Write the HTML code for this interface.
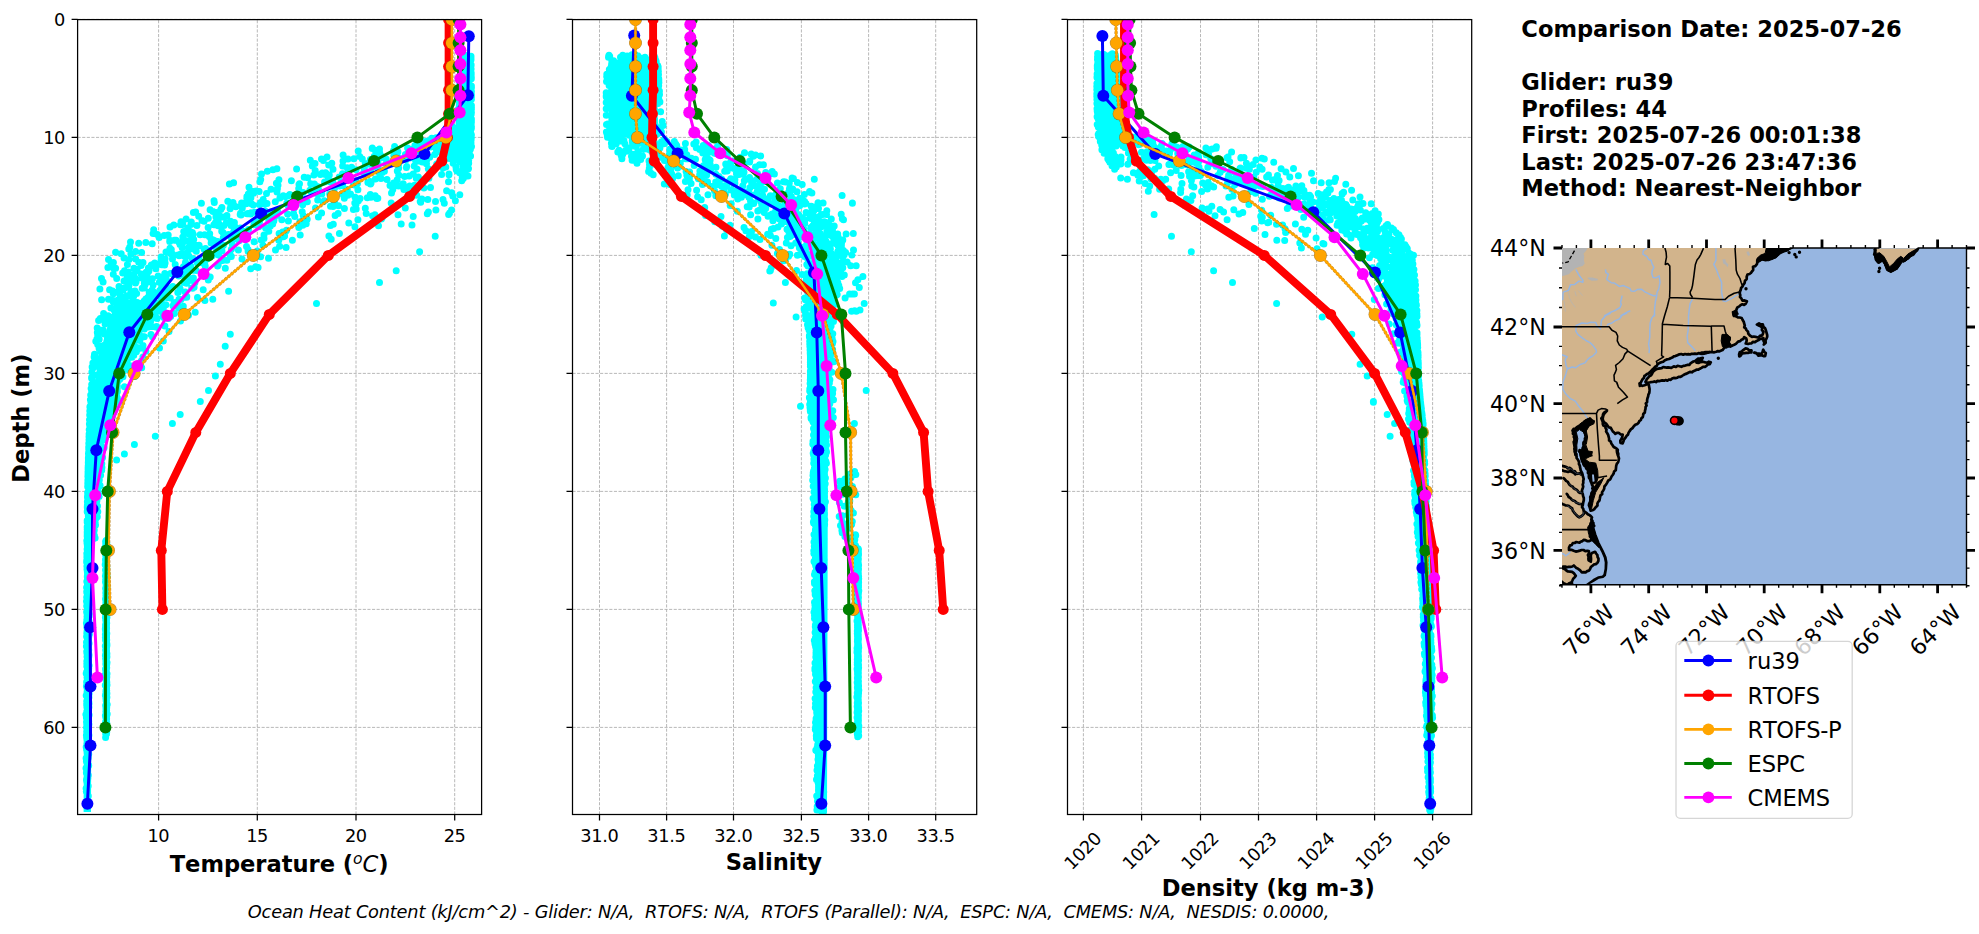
<!DOCTYPE html>
<html lang="en"><head><meta charset="utf-8"><title>Glider ru39 model comparison 2025-07-26</title>
<style>html,body{margin:0;padding:0;background:#fff;overflow:hidden}svg{display:block}text{font-family:'DejaVu Sans','Liberation Sans',sans-serif;fill:#000;font-variant-ligatures:none;font-kerning:none}.tk{font-size:17.78px}.lb{font-size:22.6px;font-weight:bold}.mp{font-size:22.2px}.lg{font-size:22.6px}.g{stroke:#b0b0b0;stroke-width:.9;stroke-dasharray:3.1 1.5;fill:none}.sp{stroke:#000;stroke-width:1.25;fill:none}.ln{fill:none;stroke-linejoin:round;stroke-linecap:butt}.cy{fill:none;stroke:#0ff;stroke-width:7;stroke-linecap:round}</style></head><body>
<svg width="1979" height="934" viewBox="0 0 1979 934">
<rect width="1979" height="934" fill="#fff"/>
<defs>
<clipPath id="cT"><rect x="77.6" y="19.6" width="404" height="794.9"/></clipPath>
<clipPath id="cS"><rect x="572.5" y="19.6" width="404.2" height="794.9"/></clipPath>
<clipPath id="cR"><rect x="1067.5" y="19.6" width="404.2" height="794.9"/></clipPath>
</defs>
<g id="axT">
<path class="g" d="M158.6 814.5V19.6M257.3 814.5V19.6M356 814.5V19.6M454.7 814.5V19.6M77.6 19.4H481.6M77.6 137.4H481.6M77.6 255.4H481.6M77.6 373.4H481.6M77.6 491.4H481.6M77.6 609.4H481.6M77.6 727.4H481.6"/>
<g clip-path="url(#cT)">
<path fill="#0ff" d="M457.8 60 457.8 75.2 457.8 90.4 457.8 105.6 457.8 120.8 451.7 136 471.7 136 472.2 120.8 472.2 105.6 472.2 90.4 472.2 75.2 472.2 60ZM114.4 300 113.4 306.2 112.3 312.3 110.3 318.5 108.1 324.6 106 330.8 104.3 336.9 102.9 343.1 101.5 349.2 100.1 355.4 99 361.5 97.9 367.7 96.9 373.8 95.8 380 94.7 386.2 93.9 392.3 93.2 398.5 92.6 404.6 92 410.8 91.3 416.9 90.8 423.1 90.3 429.2 89.8 435.4 89.3 441.5 88.9 447.7 88.7 453.8 88.6 460 88.5 466.2 88.4 472.3 88.4 478.5 88.3 484.6 88.2 490.8 88.1 496.9 88 503.1 87.9 509.2 87.8 515.4 87.7 521.5 87.5 527.7 87.4 533.8 87.3 540 92.7 540 93.2 533.8 93.7 527.7 94.2 521.5 94.7 515.4 95.2 509.2 95.7 503.1 96 496.9 96.3 490.8 96.6 484.6 96.9 478.5 97.2 472.3 97.5 466.2 97.8 460 98.1 453.8 98.7 447.7 99.6 441.5 100.6 435.4 101.6 429.2 102.5 423.1 103.7 416.9 105 410.8 106.4 404.6 107.7 398.5 109.1 392.3 111 386.2 113.7 380 116.3 373.8 119 367.7 121.6 361.5 124.4 355.4 128.4 349.2 132.3 343.1 136.3 336.9 140.9 330.8 146.8 324.6 152.6 318.5 158.2 312.3 161.6 306.2 165 300ZM84.5 540 92 540 91 812 83.6 812ZM103 545 109.5 545 109.5 736 103 736Z"/>
<path class="cy" d="M465.7 56.3h0M465.6 67.3h0M469.7 78h0M469.5 88.3h0M471.4 99.2h0M471.4 107.8h0M466.2 117.8h0M466.8 127.2h0M449.4 138.5h0M407.6 148h0M404.9 156.7h0M347.2 167.7h0M416.3 178.2h0M392.8 189.5h0M376.8 198.4h0M353.4 209.6h0M307.2 219.2h0M265.6 228.1h0M283.4 236.8h0M198.7 245.8h0M184 256.1h0M164.6 265h0M174.8 274.4h0M186.6 283.3h0M161 294.6h0M177.7 304.7h0M188.5 315.3h0M164.9 325.9h0M151 334.5h0M143 345.5h0M125.6 356.3h0M131.5 366h0M120.6 376.3h0M124.4 386.7h0M116.6 396.1h0M114.4 406.2h0M105.7 415.5h0M105.4 425.6h0M103.7 436.5h0M98.2 447.7h0M95.3 458.2h0M94.5 469.3h0M91.3 479.5h0M92.2 489.7h0M91.7 500.6h0M93.5 510.6h0M93 521.7h0M93.9 532.1h0M105.7 543.1h0M106 553.2h0M105.7 562.2h0M105.8 573.7h0M105.9 582.5h0M106 592.7h0M105.9 603.5h0M105.6 614.9h0M105.5 624.9h0M105.4 634.5h0M106.1 643.2h0M105.6 654.5h0M105.9 663.4h0M105.4 674.4h0M105.6 685.6h0M105.6 694.6h0M106.1 705.2h0M106.1 714.2h0M105.8 724.2h0M105.7 733.9h0M461.8 55.9h0M463.4 64.6h0M463 74.8h0M459.9 83.8h0M460.4 93.5h0M460 102.1h0M458 113.5h0M461.1 123.3h0M463.9 134h0M423.8 145.3h0M405.4 154.4h0M369.7 164.2h0M322.3 172.9h0M341.2 182.2h0M250.7 191.9h0M227.8 201.2h0M210.1 209.8h0M204.1 221.2h0M183.7 231.5h0M169.8 240.3h0M171.3 249.4h0M165.1 258.7h0M148.4 268.1h0M129.7 279h0M124.6 288.1h0M108.5 299.2h0M110.9 308.1h0M100.3 318.4h0M97.2 327.9h0M107.8 338.5h0M115 348.2h0M108.2 357.9h0M104.5 367.7h0M101.8 378.9h0M96.9 389.2h0M98 399.4h0M90.3 409.5h0M89.5 419.8h0M89.2 429.8h0M89 439.7h0M88.7 449h0M89.4 460.1h0M90.7 469.1h0M93.8 479.3h0M89.6 489.1h0M90.2 497.7h0M89 508.9h0M87.2 520.4h0M87.2 529.3h0M88.6 538.9h0M87.9 547.5h0M87.6 557.3h0M87.5 567.4h0M87.5 576.9h0M87.2 586.3h0M87.9 595h0M87.3 606.4h0M87.3 616.4h0M88 626.4h0M87.9 637.6h0M87.1 647.1h0M87.6 657.2h0M87.5 665.8h0M87 677.2h0M87.1 688.4h0M87.4 698.8h0M87.3 710.2h0M86.8 721.6h0M87.2 731.4h0M461.7 56.8h0M461.1 66.3h0M460.3 77.5h0M464.4 88.2h0M462.1 99h0M462.6 109.1h0M458.7 118.8h0M459.6 127.4h0M436.1 137.7h0M372.3 148.1h0M327 156.9h0M312.3 166h0M320.4 174.5h0M276.4 183.2h0M249.6 192.8h0M214.3 202.6h0M213 211.4h0M202 220.6h0M153.7 229.7h0M176.1 240.2h0M128.8 248.9h0M135.7 258.9h0M113.5 268h0M134.8 277.8h0M119 286.6h0M125 296.8h0M135.6 305.6h0M108.1 315.8h0M112.5 326.1h0M97.7 335h0M97.7 344.5h0M94.4 355.6h0M94.7 365h0M93 375.3h0M92.7 386.6h0M96.4 395.5h0M96.3 405.6h0M89.7 415.1h0M98.2 424.8h0M89.1 435.9h0M90 447h0M88.4 457.6h0M88.1 467.2h0M87.9 476.3h0M87.8 485.2h0M87.6 495.6h0M87.4 504.9h0M89.3 514.1h0M88.1 523.7h0M90.1 533.9h0M87.8 544.9h0M87.7 555.2h0M87.2 566h0M87.3 577.1h0M87.4 586.3h0M87.5 597h0M87.2 606.1h0M87.2 615h0M86.7 624.4h0M86.8 633.3h0M87.3 643.7h0M86.9 652.5h0M86.8 661.2h0M86.6 672h0M86.8 681.4h0M87.1 691.6h0M87.2 701.9h0M87.2 711.2h0M86.9 721.5h0M86.7 731.7h0M471 59.6h0M471.1 69h0M471.3 77.8h0M471.4 87.6h0M471.4 96.8h0M471.4 107.1h0M467.8 117h0M468.9 127.6h0M469.7 136.9h0M440.1 146.6h0M461.6 156.9h0M406.4 167.5h0M418.3 177h0M430.5 187.6h0M371.1 197.2h0M338.5 205.8h0M303.2 215.4h0M258.7 226.8h0M237.2 236.5h0M214.1 246.3h0M188.9 256h0M205.2 265.9h0M205.8 275.9h0M194.1 287.3h0M186.7 297.3h0M178.5 307.9h0M168.4 318.4h0M144.3 329.1h0M134.2 338.6h0M118.4 349.9h0M127.5 359.4h0M118.8 369.9h0M120 379.1h0M114.3 388.9h0M112.9 398.3h0M111.2 406.9h0M109.2 415.5h0M104.2 426.3h0M98.9 435.6h0M101.4 446.3h0M99.1 456.5h0M96 467.6h0M99.6 476.3h0M100.1 485.8h0M99.1 496.4h0M97.5 506.1h0M97.3 516.7h0M95.4 525.3h0M94.4 535.5h0M106.7 545.3h0M106.5 555.2h0M106.6 564.6h0M106.8 575.9h0M107.1 587.2h0M106.8 597.9h0M106.8 607h0M106.9 617.5h0M106.4 626.3h0M106.6 635.2h0M106.9 644.3h0M106.9 653.8h0M107 662.6h0M107 673.7h0M107 685.1h0M106.8 693.6h0M107.2 704.6h0M107.2 714h0M106.7 723.1h0M106.7 732.3h0M461.7 56.9h0M461.1 66.2h0M460.4 75.7h0M459.8 85.1h0M462.2 96.4h0M461.8 107.3h0M459.4 118.2h0M455.7 128.4h0M439.2 137.5h0M372.2 148.4h0M348 159h0M272.9 169.7h0M291.4 180.7h0M271 189.3h0M250.9 197.8h0M230.7 206.4h0M198.7 216.2h0M173.8 224.9h0M153.1 233.4h0M130.5 241.9h0M115.6 252.3h0M113.4 262.6h0M122.7 272.9h0M103.1 282.1h0M112.6 291.1h0M113.3 302.1h0M123.2 312.1h0M110.5 323.4h0M100.2 332h0M95.8 341.2h0M100.5 351.7h0M92.9 363.1h0M91.9 372h0M95.5 382.8h0M91.7 391.5h0M90.9 402.3h0M92.9 413.6h0M92.1 424.2h0M89.1 434h0M88.8 443.6h0M88.5 454.1h0M88.3 463h0M88 474h0M88.6 484.4h0M89.8 495h0M89.8 505.8h0M89.6 514.4h0M88.1 523.8h0M87.6 532.4h0M87 543.1h0M86.8 553.5h0M86.6 562h0M87.4 572.2h0M86.8 581.4h0M86.8 592.5h0M86.5 601.3h0M87.1 611.3h0M86.6 622.8h0M87 631.5h0M86.5 642.2h0M86.9 653h0M469.5 58.8h0M470.1 69.6h0M467.8 80.2h0M463 89.7h0M464.2 99.5h0M467.3 110.9h0M468.6 120.2h0M469 131.1h0M462.5 141.8h0M447.6 152h0M468.7 163.3h0M449 174h0M393.6 182.9h0M391.5 193.1h0M356.2 202.7h0M302.2 211.8h0M288.4 221.1h0M268.8 231.2h0M278.8 240.2h0M248 249.5h0M242 259.1h0M225.3 268.2h0M210.2 276.9h0M192.6 288.3h0M185.2 297.2h0M183.3 306.2h0M163.1 315.1h0M156.6 326.5h0M152.5 336.8h0M159.5 348.1h0M142.9 357h0M141.7 367.8h0M134.6 376.6h0M117.3 387.9h0M117.4 398.3h0M108.9 409.7h0M104.9 420.7h0M98 431.2h0M103 440.1h0M99.6 449.9h0M100.6 461.4h0M101.7 470.2h0M96.8 479.5h0M98.2 490.8h0M95.1 502h0M91.4 513.3h0M91.5 524.6h0M90.3 534.4h0M106.5 544.1h0M106.4 553.3h0M106.5 561.9h0M106 573.2h0M106.3 583.8h0M106.5 593.4h0M105.9 604.9h0M106.4 614h0M106.2 623.4h0M106.6 633.2h0M106.1 641.7h0M106.6 651h0M105.9 661.3h0M105.9 671.4h0M106.6 680h0M106.5 690.9h0M468.7 57.2h0M468.3 67.1h0M471.2 76.4h0M471.4 87.7h0M467.3 99h0M471.4 108.3h0M470.3 117h0M466.5 127.8h0M439.5 138.9h0M439.7 148.8h0M429.7 157.3h0M443 167.9h0M428.9 178.3h0M406.6 188.6h0M360.1 198.5h0M344.4 208.5h0M281.8 219.7h0M286.5 230.2h0M261.9 240.2h0M204 249h0M222.6 260.4h0M183.2 271h0M208.3 280.1h0M203.2 289.7h0M204.9 300.6h0M158.9 311.1h0M150.5 320.6h0M139.1 331.6h0M131.6 342.6h0M127.2 351.6h0M122.4 361.8h0M120.9 372.1h0M117.8 381.4h0M117.4 391.6h0M119.4 401.8h0M114.1 411.4h0M109.9 420.2h0M106 431.1h0M97.8 440.6h0M99 450.4h0M95.7 460.5h0M93.2 470.9h0M93.1 479.7h0M95.6 488.8h0M94.1 497.8h0M96.7 506.6h0M95.5 516.4h0M95.5 524.9h0M92.7 534.4h0M106.1 543.2h0M105.9 551.7h0M105.9 560.4h0M105.9 571.4h0M105.7 581.1h0M106.3 592h0M106 602.6h0M105.8 612.1h0M106 621.5h0M105.6 630.5h0M105.9 640.4h0M106 651h0M106.4 660.9h0M105.6 669.6h0M106.2 681h0M106.2 691.7h0M106.1 700.7h0M105.9 711.6h0M105.6 721.8h0M105.7 730.4h0M461.6 58.1h0M460.9 68.3h0M460.4 76.8h0M459.6 87.8h0M462.4 97.8h0M460.2 108.5h0M459.6 118.4h0M459 127.2h0M435 138.3h0M379.5 149.1h0M323.3 160.6h0M315.2 170.4h0M259.9 181.8h0M315 192.7h0M286.9 203.1h0M251 212.8h0M259.5 221.9h0M233.5 233.2h0M192.2 242.4h0M170.9 253.6h0M141.6 263.9h0M126 273.3h0M136.1 281.8h0M177.8 292.4h0M147.6 302.1h0M139.3 312.2h0M125.1 320.9h0M123.5 331.6h0M119 341.1h0M115.2 351.4h0M105.4 361.3h0M100.1 371.9h0M105.8 381.7h0M97.1 391.9h0M102.8 401.2h0M98.5 412.2h0M97.6 421.8h0M95.1 431.6h0M97.1 443h0M94.6 451.6h0M90.1 462.3h0M88.6 471.7h0M87.9 481.1h0M87.8 492.5h0M87.5 501.2h0M89.3 511h0M91.3 521.3h0M89 530h0M87.8 540.9h0M87.5 550.6h0M87.2 560.8h0M87.3 571.4h0M87.5 582.3h0M87.4 592.8h0M87 601.3h0M87.5 611.4h0M86.8 620.1h0M87.2 630.3h0M87.5 641.1h0M86.7 651.5h0M86.9 662h0M87 672.6h0M86.6 681.9h0M87 692.2h0M86.7 701.3h0M86.8 711.5h0M86.5 721.9h0M86.9 731.6h0M87.1 740.2h0M87.2 751h0M86.4 761.3h0M86.4 772.7h0M86.9 781.5h0M461.6 58.4h0M463 69.6h0M460.1 81.1h0M463 90.3h0M458.9 99.2h0M458.3 109.1h0M457.8 118h0M461.3 128.8h0M431.7 138.3h0M408.7 148.8h0M362.3 158.9h0M356.1 169.7h0M329.9 180.9h0M251.9 191.2h0M233 202.6h0M216.3 212.6h0M191.3 222h0M190.4 231.8h0M145.8 242.4h0M167.5 252h0M164.3 262.8h0M146.1 272.3h0M144.3 283.2h0M136.6 293.5h0M124.4 303h0M103.6 313.6h0M105.1 323.9h0M97.3 332.6h0M97.2 341.1h0M106.6 350.6h0M99.1 359.9h0M106.2 369.6h0M100.1 379.1h0M100.2 389.6h0M94.7 398.3h0M94.1 408.2h0M94 417.2h0M93.9 426.7h0M90.8 436.8h0M89.1 446.2h0M89.8 456.1h0M88.5 467.3h0M92.2 477.7h0M91.7 487.4h0M87.5 497.6h0M90.4 507.9h0M90.4 518.5h0M87.2 527.4h0M87.2 536.1h0M87.9 546.2h0M87.8 555.7h0M87.8 565.8h0M87.9 576.3h0M87.8 585.6h0M87.6 595.9h0M87.7 605.9h0M87.3 614.6h0M87.5 623.5h0M87.1 633.1h0M86.8 643.7h0M87.6 652.7h0M87.2 662.9h0M86.9 673.8h0M87.3 683.5h0M87.4 694.6h0M86.7 703.7h0M87 715h0M86.7 723.7h0M87.3 733.1h0M462.6 62.5h0M460.6 73h0M460.1 82.5h0M459.3 93.5h0M460.5 103.9h0M463 113.4h0M466.4 123.5h0M468.2 133.8h0M460.5 143.4h0M416.6 153.8h0M378.2 164h0M342.5 173.7h0M310.7 183.8h0M253.6 193.3h0M201.4 203.2h0M193.4 212.4h0M215.4 222.7h0M188.5 233.8h0M199.1 245.2h0M182.2 254.1h0M161.5 264.7h0M113.3 274.2h0M127.8 284.8h0M120.1 295.3h0M123.7 305.4h0M114.6 315.8h0M122.1 326.6h0M124.6 337.9h0M116 348.8h0M105.2 360.3h0M109.6 371.2h0M105.4 379.9h0M100.3 389.8h0M95.3 398.7h0M90.7 410.1h0M93.3 421h0M95.5 431.7h0M88.9 443.1h0M91.4 451.7h0M96.4 461.5h0M92.3 470.7h0M93.5 481.4h0M90.4 492.3h0M92.9 501.1h0M89.9 511.3h0M90.6 520.3h0M87.7 531.1h0M88.5 541h0M88 549.5h0M88.5 558.9h0M88.4 568.5h0M88.5 578.1h0M87.9 588.1h0M88.4 599h0M88.6 608.7h0M88.3 617.5h0M88.5 628.9h0M87.6 639.1h0M88.2 647.9h0M88 657.8h0M87.6 668.1h0M88 679.4h0M87.4 689.7h0M87.9 699.6h0M88.1 710.5h0M87.8 720.8h0M88 730.3h0M466.6 57.1h0M464.1 68.1h0M465.6 77.4h0M466.1 86.1h0M464.7 95h0M462.4 103.6h0M461.7 114.5h0M461.6 125.3h0M457.8 136.8h0M438 147.5h0M444.5 157.6h0M378 168.6h0M375.4 178.9h0M334.6 188h0M279.9 198h0M242.3 208h0M186.1 218.9h0M188.1 228.1h0M191.5 238.8h0M190.6 247.9h0M161.1 257.1h0M133.9 268.3h0M147.3 279.5h0M159.8 290.4h0M150.8 299.2h0M114.8 309h0M118.4 318.8h0M114.4 327.3h0M108.1 337.3h0M99.7 347.3h0M107.3 358.1h0M111.8 368.8h0M112.8 377.5h0M107.8 386.1h0M99.2 394.9h0M99.8 405.1h0M96.9 415.9h0M95 425.5h0M89.7 434.1h0M91.4 443h0M88.6 452.6h0M89.2 463.5h0M89.4 472.3h0M93.6 481.5h0M95.4 492.6h0M92.1 502h0M91.4 513h0M90.3 522.6h0M89.3 533.2h0M88.3 542.3h0M89 552.5h0M88.1 562.5h0M88.9 573.1h0M88.1 582.9h0M88.7 592.7h0M88.3 601.6h0M87.9 612.7h0M88.5 622.5h0M88.7 631.6h0M88 642.8h0M87.8 652.7h0M88.5 662.7h0M88.3 673.1h0M87.6 682.3h0M87.8 691.8h0M468.1 62.2h0M471.2 73.1h0M465.4 83.4h0M467.2 92.1h0M465 101.6h0M471.4 112.6h0M471.2 123.9h0M469.4 134.9h0M468.7 144.1h0M441.8 153.8h0M437.4 163.8h0M364.5 172.7h0M370.5 183.9h0M350.5 194.1h0M291.8 203.8h0M241 215h0M272.7 223.9h0M264 234.9h0M232.3 244.3h0M218.5 254.9h0M218.2 265.1h0M178.7 275.9h0M161.7 286.6h0M164.2 296.4h0M152.5 306h0M137.8 315.6h0M129 324.7h0M121.6 335.5h0M121.5 346.8h0M133.8 355.3h0M124.9 364.9h0M115.4 376.2h0M110.1 386.4h0M104.4 396.4h0M101.8 405.9h0M105.1 416.8h0M103 428.1h0M101.3 438.5h0M101 449.1h0M100.5 459.3h0M98.4 470.6h0M99.3 479.9h0M95.3 489.9h0M95.9 501.1h0M94.8 510.1h0M95.6 518.9h0M92.9 527.4h0M92.6 537.2h0M106.6 548.4h0M106.6 557.2h0M106.7 568.4h0M106.5 577.6h0M105.9 587.7h0M106.6 597.7h0M106 608.6h0M106.3 619h0M106.6 628.3h0M106.5 637.2h0M106.6 647.3h0M106.1 658.2h0M106.3 668.3h0M106.5 678.6h0M106.6 688.1h0M106.4 699.5h0M106.6 710.6h0M106.6 722h0M106 733.3h0M466.3 55.7h0M466.8 66.3h0M465.9 77.3h0M463.7 88.7h0M462.1 98.8h0M469.3 109.9h0M470.3 120.2h0M469.1 129.3h0M455.9 139.3h0M436.4 149.6h0M418.3 161h0M370.9 172.1h0M355.6 181h0M259.1 191.4h0M260.7 202.4h0M265.3 212h0M230.5 221.2h0M223 232.5h0M217.8 241.5h0M222 251h0M185.5 262.3h0M174.5 273.1h0M150.3 281.8h0M153.1 291.5h0M145.9 301.7h0M147.8 313.1h0M135.8 323.9h0M117.9 334.2h0M130.7 343.7h0M124.4 352.2h0M117.1 361.8h0M109.2 373.2h0M110.8 383.4h0M104.1 392h0M94.4 402.7h0M100.6 412.9h0M97.2 423.4h0M94.8 433.2h0M95.4 442h0M95.9 453h0M95 463.9h0M96.8 475.2h0M94.5 484.8h0M92.2 496h0M92.6 506.4h0M90.4 516h0M92.2 527.2h0M91.4 538.2h0M88.9 547.4h0M89.3 557.8h0M89.5 566.7h0M89.6 576.8h0M89.6 585.4h0M88.7 593.9h0M89 605.2h0M89.2 614.3h0M89.2 625.3h0M89.4 634.3h0M88.7 643.5h0M89 654.9h0M89.1 665.6h0M88.7 674.6h0M89.1 684.8h0M88.8 693.8h0M89 703.8h0M89.1 715.1h0M88.9 724.3h0M88.9 735.3h0M461.7 56.4h0M461.1 65.4h0M465.6 74.3h0M463.7 83.6h0M463.1 93.9h0M462.4 103.2h0M460.3 114.3h0M461.1 125.3h0M450.6 136.2h0M394.6 146.6h0M359.7 156.6h0M342.7 165.9h0M329.3 174.9h0M342.7 185.6h0M283.3 195.8h0M288.3 205.7h0M216 215h0M196.9 225.4h0M168.2 235h0M152.2 243.8h0M121.2 253.7h0M111 262.6h0M128.3 272.1h0M130.3 280.9h0M135 290.9h0M145.7 300h0M141 309.3h0M116.5 318.5h0M118.2 327.1h0M117.2 337.3h0M103.3 348.3h0M96.5 359.2h0M93 368.1h0M99.7 377.8h0M100.9 387.2h0M101.7 398.1h0M95.6 408.1h0M101 418h0M94.6 427h0M90.3 436.6h0M88.7 447.2h0M88.4 458.4h0M88.1 469.5h0M87.9 479.9h0M90.2 489.7h0M90.7 499.8h0M91.6 508.8h0M88.9 517.7h0M87.2 526.9h0M90.2 538.1h0M88.3 546.9h0M88.3 555.5h0M87.5 566.9h0M87.8 578.3h0M87.4 587.8h0M87.6 598.9h0M87.7 608.9h0M87.6 618.7h0M87.9 627.6h0M87.5 637.5h0M87.3 647.4h0M87.8 656.4h0M87.4 667.8h0M87.2 677.9h0M87.1 686.6h0M87.6 696.4h0M87.9 707.9h0M87 717.6h0M87.7 727h0M461.3 62.2h0M460.6 73h0M459.9 84.1h0M460.3 95.2h0M463.1 104.4h0M464.3 114.1h0M462.7 125.3h0M462.8 134.5h0M414.9 145.6h0M374.3 156.2h0M328.7 165.1h0M261.5 173.9h0M229.4 184h0M248.3 193.9h0M259.5 204.6h0M276.7 215.5h0M234.5 225.7h0M232.9 236.1h0M192.4 244.8h0M172.5 254.1h0M165.1 262.9h0M141.1 273.9h0M145.3 284.3h0M126.9 295.8h0M131.5 307.2h0M131.7 317.4h0M116.5 326.3h0M125.9 334.8h0M109.8 344.6h0M115.9 353.8h0M106.9 365h0M101.5 375.3h0M97.2 384.6h0M94.4 396h0M98.6 405.6h0M96.1 415.6h0M93.6 427.1h0M96 435.8h0M94.2 446.4h0M96.1 455.4h0M93.8 463.9h0M89.8 472.7h0M87.8 483h0M87.7 492.4h0M87.4 501.4h0M87.3 510.8h0M87.2 522.2h0M87.2 532h0M87.6 542.8h0M87.9 551.4h0M88.1 561.2h0M87.7 571.2h0M87.5 582.5h0M87.3 592.4h0M87.4 602.5h0M86.9 612.9h0M87.1 623.5h0M87.5 634h0M87.4 645.4h0M87.3 655.1h0M87.1 665.7h0M87.6 676.1h0M87.3 686.7h0M86.7 696.2h0M86.9 707.1h0M87.2 718.5h0M87.3 728.7h0M86.9 739.1h0M86.6 749.5h0M86.7 760h0M87 770.2h0M86.5 779.9h0M86.3 791.3h0M86.3 801.9h0M471 57.8h0M470 67.1h0M471.3 77.2h0M469.9 87.8h0M465.8 99.2h0M471 109h0M471.4 120.1h0M470 130.4h0M471.1 140h0M470.4 149.2h0M468.7 160h0M417 169h0M387 179.5h0M347.3 189.5h0M377.8 198.2h0M293.5 207.7h0M259.2 218h0M240.4 228.1h0M223.3 237.6h0M246.5 246.5h0M231.3 256.4h0M217.6 265.9h0M185.5 276.5h0M172.8 286.5h0M170.3 297.9h0M153.1 309.1h0M148.7 318h0M157.7 327.4h0M139.4 337h0M136.1 348.2h0M131.9 357.3h0M126.7 368.3h0M119.4 377.4h0M114.3 386.8h0M109.1 395.7h0M100.1 407h0M101.6 417.3h0M101.1 427.7h0M100.5 437.6h0M98.2 448.4h0M102.6 457.4h0M101.1 467.2h0M99.1 476.5h0M96.8 485.5h0M97.4 496.8h0M96.2 507.7h0M92.4 518h0M91.9 527.3h0M95.1 537.9h0M106.6 547.3h0M106.3 557.4h0M106.6 568.5h0M106.5 578.4h0M106.4 588.6h0M106.8 599.3h0M106.7 608h0M106.3 617.1h0M106.3 627.5h0M106.6 637h0M106.2 647.4h0M106.9 657h0M462.4 61.4h0M466 72.3h0M464.8 82.1h0M464.3 91.4h0M467.1 102.2h0M469.8 111.3h0M469.9 121h0M469.4 131.6h0M462.1 141.8h0M422.9 152.3h0M415.6 160.8h0M384.4 171.3h0M330.3 181.9h0M318.3 192.2h0M323.1 201.8h0M321.6 212.9h0M299.9 221.7h0M282.6 232.1h0M254.1 241.8h0M248.1 251.2h0M197.2 262h0M176.6 273h0M159.4 282.3h0M159.8 292.8h0M137.9 303.4h0M145.4 314.6h0M138.4 325.4h0M141.3 336.5h0M138.3 347.7h0M126.7 356.5h0M123.5 368h0M109.4 379.1h0M109.8 389.6h0M104 399.7h0M100.5 408.2h0M106.8 417.9h0M104.4 427.8h0M99.4 436.3h0M101.1 445.4h0M98.5 456.4h0M94.3 466.8h0M95.9 477.9h0M93.7 488h0M88.9 499.4h0M90.7 509.3h0M90.5 518.2h0M88.1 528.5h0M91.6 537.5h0M105.4 546.6h0M105.7 555.4h0M105.2 564.8h0M105.4 576.1h0M106 586.6h0M106 596.2h0M105.3 607.6h0M105.4 617.6h0M105.5 627.1h0M105.9 636.9h0M106 648.2h0M105.6 658.4h0M461.4 62h0M460.8 70.7h0M460.2 80.1h0M461.4 90.6h0M459.2 101.4h0M458.1 112.2h0M463.8 121.5h0M459.6 130.2h0M425.6 141.5h0M358.2 150.9h0M310.3 160.2h0M267.3 171.3h0M233.6 182.8h0M266.5 193.5h0M232.8 202.8h0M216.6 213.9h0M180.4 224.8h0M164.2 235.4h0M129.8 246.9h0M124 258.1h0M107.9 267.6h0M101.5 278.6h0M109.6 289.8h0M101.6 299.7h0M113.9 309.7h0M103.4 319.5h0M116.4 328.6h0M96.9 338.9h0M99.1 348.5h0M94.1 357.1h0M92.9 367.1h0M91.6 377.5h0M91.1 388.5h0M93.6 399.8h0M89.8 411.1h0M91.5 421h0M89.8 432h0M88.9 443h0M88.5 453.6h0M88.3 462.3h0M88 472.1h0M87.8 483.5h0M87.6 492.8h0M87.4 501.9h0M87.2 511.8h0M87.2 521.1h0M87.2 532.1h0M86.8 540.7h0M87.1 549.2h0M86.7 560.6h0M87 569.3h0M87.3 580.7h0M86.7 591.8h0M86.6 601.8h0M86.6 612.1h0M86.4 623h0M87.1 633.3h0M86.8 643.1h0M86.8 652.7h0M86.9 662.2h0M86.2 673.4h0M86.8 684.6h0M86.6 695.8h0M86.7 705.1h0M85.9 714.4h0M86.8 724.7h0M86.4 735.2h0M467.1 62.1h0M469.3 73h0M468.8 82h0M464.1 92.4h0M465.8 102.7h0M462.3 114h0M465.4 123.5h0M466.6 134.4h0M444.6 143.3h0M441.1 152.6h0M422.2 162h0M382.3 172.6h0M371 183.3h0M342.5 193.6h0M265 204.1h0M247 213.8h0M190.9 224.4h0M192.3 234.7h0M215.5 245.2h0M171 253.8h0M160.7 263.6h0M170.5 273.5h0M165.3 282.6h0M150.4 292.3h0M153.4 301.5h0M116.2 312.7h0M129.1 322.3h0M129.9 331.7h0M119.8 341.5h0M105.8 351.3h0M112.9 361h0M118.7 371.3h0M115.6 381.3h0M105.3 390.1h0M103.5 400.5h0M100.2 410.5h0M92.6 420.4h0M93.3 430.5h0M92.3 440.4h0M93.8 450.6h0M94 460.7h0M95.8 471.3h0M94.3 482.7h0M97.3 493.1h0M92.3 503.8h0M90.7 514.2h0M91 524.9h0M91.3 533.4h0M89.6 544.4h0M89.3 555.2h0M89.1 564.6h0M88.8 575.6h0M89.2 585.5h0M88.4 594.7h0M89.2 604.5h0M88.5 613.7h0M89.1 624.6h0M88.5 635.5h0M88.3 646h0M88.8 656.6h0M88.4 667.3h0M88.3 677h0M88.9 687.2h0M88.9 697.4h0M88.9 707.3h0M88.7 716.4h0M88.8 725.1h0M88 735h0M88.6 744.5h0M88.7 754.2h0M88.7 765.4h0M88.3 775.2h0M88.2 786.1h0M88.3 796.1h0M87.9 806.4h0M468.7 56.4h0M469 65.3h0M470.7 75.7h0M467.5 84.6h0M471.4 95.5h0M466.5 104.1h0M470.2 113h0M463.9 123.9h0M465.1 133.3h0M442.8 142.4h0M412.9 153.6h0M426.5 163.8h0M441.6 174.6h0M409.7 186.1h0M347.8 195.2h0M330.5 206.2h0M268.6 216.2h0M234.9 227.5h0M231.1 237.6h0M220 247.2h0M221.7 258.3h0M186.1 268.9h0M185.1 279.6h0M180 288.5h0M180.9 299.6h0M163.4 308.3h0M163.9 317.4h0M156 327.1h0M124.2 337.5h0M140 348.2h0M124.2 358.9h0M120.9 368.2h0M116.3 379.1h0M111.6 388.1h0M106 397.4h0M106.3 408.4h0M104.6 418.9h0M103.6 428.9h0M100 440.4h0M97.9 448.9h0M97.7 460.1h0M98.5 469.9h0M95.3 481.3h0M96.7 491.7h0M95.5 502.1h0M96.1 511.4h0M95.2 522.7h0M90.3 531.8h0M105.9 542.3h0M105.9 552.3h0M105.6 562.4h0M106.2 573.2h0M106.1 583.9h0M106.1 593.2h0M105.9 603.3h0M105.9 612.3h0M106.3 621h0M106.2 630.9h0M106.3 641.5h0M106 652.6h0M106.4 662.1h0M106.2 671.3h0M106.2 681h0M105.9 691.2h0M106.3 700.6h0M106.3 709.9h0M106.3 719.3h0M106.3 729.2h0M461.7 57.7h0M464.2 69.1h0M460.5 77.6h0M461.7 87.8h0M459.7 99.3h0M458.5 109.8h0M458.9 118.9h0M455.8 129.8h0M421.1 140.5h0M379.5 151.9h0M331.8 163.2h0M325.6 172.7h0M332.8 181.7h0M309.9 190.3h0M263.2 199.6h0M230.1 208.7h0M218.1 220h0M187.7 229.2h0M174.4 240.2h0M135.6 251.6h0M138.7 262.3h0M124.5 270.8h0M124 281h0M119 290.7h0M125.1 299.5h0M129 310h0M98.6 320.4h0M101.4 330.3h0M99.2 339.2h0M105.7 348.3h0M100.2 358.3h0M99.8 368.9h0M113.2 378.9h0M108 388.6h0M101.6 398.5h0M102.5 407.8h0M92.3 417h0M89.8 426.7h0M89 436.7h0M88.7 447.1h0M88.4 457.5h0M88.1 468.8h0M88.1 477.8h0M87.7 486.7h0M90.6 497.4h0M87.3 507.5h0M89.3 518h0M87.2 526.8h0M87.2 536.5h0M87.4 546.6h0M86.9 557.3h0M86.9 566.3h0M87.3 576.2h0M86.6 587.4h0M86.7 597.3h0M86.7 605.9h0M87 616.7h0M87.3 627.4h0M86.6 636.5h0M86.4 646.3h0M87.3 655.9h0M86.9 666h0M87 674.9h0M86.4 686.3h0M86.2 695.6h0M87 706.7h0M86.4 717.8h0M86.5 727.4h0M471 59.1h0M469.9 69h0M468.3 80.2h0M471.4 91.4h0M468.4 101.3h0M465.3 111.8h0M471.4 122.1h0M470.9 133.4h0M471 143h0M462.2 152.9h0M443.7 161.6h0M431.2 171.2h0M370.3 181.4h0M310.9 191.4h0M324.4 200.7h0M277.8 211.7h0M273.8 221h0M245 231.6h0M239.1 240.7h0M238.4 249.9h0M226.9 260.2h0M196.2 270.6h0M189.5 280.5h0M165.7 290.2h0M161.3 299.8h0M153.5 309h0M157.1 318.5h0M134.4 329.3h0M139.9 340.4h0M136.4 351.8h0M127.2 361.7h0M123 370.7h0M108.5 380.5h0M108.8 390.7h0M103 401.2h0M103.5 412.5h0M103.2 422.8h0M96.5 433.3h0M97.8 443.9h0M99.3 454.9h0M101.8 463.8h0M100.6 475.3h0M100 485.3h0M97.8 495.2h0M95.6 504h0M95.7 513.2h0M92.2 524.4h0M94 535.8h0M106.9 544.7h0M106.5 554.8h0M106.6 565.5h0M106.9 575.4h0M107 586.7h0M106.8 596.5h0M106.4 607h0M106.9 617.3h0M106.3 628.4h0M106.3 637.8h0M106.5 647h0M106.7 656.9h0M106.3 666.4h0M106.8 676.9h0M106.6 688.3h0M106.9 697.2h0M106.5 706.4h0M106.5 716.9h0M107 727.3h0M461.8 55.7h0M461.1 66.3h0M461.5 74.9h0M462.1 83.4h0M463.7 92.6h0M462.1 103.4h0M459.6 113.2h0M459.6 123.7h0M459.3 133.3h0M419.5 143.8h0M343.1 154.9h0M315 163.5h0M313.9 175h0M278 185.2h0M284.7 196.4h0M233.7 205.1h0M226.9 215.6h0M182.8 224.5h0M157.4 234.5h0M138.7 243.2h0M130.9 254h0M127.4 264.4h0M129.1 273.9h0M135.5 282.9h0M118.8 291.6h0M129.2 302.6h0M140.4 313.3h0M113 323.1h0M116.9 332.6h0M109.2 343.1h0M94.5 354.3h0M97.8 365.7h0M97.7 374.8h0M91.7 384.5h0M93.1 395.6h0M95.9 405.4h0M100.1 414.1h0M90.7 424.1h0M92.3 434h0M89.3 444.7h0M88.9 454.1h0M91.9 464.3h0M88 475.3h0M89 486.5h0M92.1 495.8h0M88.9 507.1h0M89.4 516.4h0M90 526.6h0M87.2 535.1h0M87.4 545.1h0M87.6 553.8h0M87.2 563h0M87.6 574h0M87.6 584.2h0M87.9 593.3h0M87.6 603.8h0M87.1 612.8h0M87.3 621.6h0M87.5 631.4h0M87.2 642.1h0M87.2 652.6h0M86.8 663.7h0M87.2 672.6h0M87.7 683.9h0M87 694h0M87 703.7h0M87 714.5h0M87.4 725.3h0M86.6 735.8h0M87.1 746.8h0M86.7 757.7h0M86.7 767.3h0M87.1 778.1h0M87.2 786.6h0M467.2 59.2h0M462 69.4h0M465.1 78.9h0M461.2 89.3h0M462.5 97.9h0M466.6 106.5h0M464.3 115.3h0M467.6 125.4h0M464.4 134h0M466.8 143.4h0M426 153.4h0M374.6 163.9h0M363.8 172.8h0M357.5 183.5h0M303.1 192.5h0M246.1 203.8h0M247.8 213.4h0M226.4 222.6h0M221.7 231.3h0M186.5 240.8h0M196.3 251.3h0M200 262.5h0M164.8 273.6h0M144.5 285h0M113.3 293.7h0M136.3 303.4h0M128.7 313.9h0M118.3 322.8h0M125.6 334.1h0M117.9 344.5h0M120 353.4h0M121.7 363.6h0M111.9 372.3h0M107.8 383.6h0M102.9 393.9h0M92.6 404.7h0M96.3 414.9h0M93.1 426h0M94 436.1h0M101.1 445.7h0M91.8 455.8h0M96.7 466.6h0M96.4 476.5h0M92.5 487.7h0M90.2 498.8h0M92.8 509.2h0M90.4 520.7h0M91.4 529.3h0M88.6 540h0M89 548.8h0M89.3 559.7h0M88.6 568.9h0M88.5 577.4h0M89.3 587.6h0M89 596.2h0M88.8 607.3h0M89.1 616.2h0M88.4 626.7h0M88.8 636.3h0M88.2 646.8h0M88.3 657.9h0M88.7 668.5h0M88.4 677.1h0M88 687.3h0M88.8 696.4h0M88.1 707.8h0M88.4 717.1h0M88.3 725.8h0M88.4 735.9h0M88.7 745.5h0M87.8 755.5h0M466.5 55.8h0M467.9 66.5h0M467.1 76h0M471.4 86h0M469.6 96.4h0M469.8 105.2h0M467.1 114.1h0M468.1 124.2h0M464.3 134.9h0M458.6 143.6h0M424.3 155h0M414.2 166h0M398.7 175.1h0M390 185.5h0M416.7 195.2h0M356.2 203.7h0M338.1 213.5h0M305.9 222.1h0M285.8 231.2h0M261.2 240.1h0M216.7 250.7h0M199.2 259.3h0M188 270.7h0M185.8 279.3h0M191.7 288.1h0M197.5 297.6h0M181.5 306.8h0M144.1 317.3h0M152 326.4h0M143.4 336.7h0M132.2 346.4h0M117.9 356.7h0M117.7 367.3h0M115.9 378.1h0M113.2 388.4h0M117.4 398.1h0M112 407h0M108.3 415.5h0M106.9 426.6h0M106.1 435.8h0M98 447h0M97.7 456.9h0M93.2 466.4h0M93 477.6h0M91.1 489h0M96.8 497.6h0M97.3 506.4h0M97.1 515.9h0M94.5 525.5h0M93.6 536.2h0M105.7 545.4h0M105.9 554.7h0M106.5 564.6h0M106.1 573.7h0M106.2 584.8h0M106.5 595.7h0M106.2 606.4h0M106.3 615h0M106.1 626h0M105.7 636.8h0M106.4 646.4h0M106 657.9h0M106 668.9h0M106.5 678.1h0M106.5 688h0M105.9 698.6h0M106 709.7h0M106.4 719.6h0M106.4 730.5h0M461.7 57h0M461 67.5h0M460.3 78.5h0M460.5 87.7h0M461 97.6h0M460.6 108.4h0M459.7 118.8h0M461.9 130.1h0M427.4 141.1h0M375.2 150.3h0M321.5 158.9h0M276.9 168.7h0M304.2 177.3h0M249 187.3h0M246.9 196.6h0M235.9 206.7h0M222.9 216.9h0M170 227.1h0M159.1 237.6h0M170 248.2h0M108.5 259.4h0M115.6 268.3h0M116.7 278.5h0M99.9 289.1h0M112.9 299.9h0M124.1 309.6h0M116.6 319.9h0M111.1 330.8h0M108.9 339.7h0M102.6 348.7h0M95.7 357.8h0M92.1 367h0M91.6 378.3h0M91.3 388.4h0M91.6 397.7h0M89.9 406.9h0M93.7 417.4h0M95.7 426.3h0M91.2 435.1h0M89.6 446.3h0M89.4 455.7h0M88.2 465.7h0M87.9 476.4h0M87.7 486.4h0M87.5 496.5h0M87.3 506.4h0M88.3 516h0M90.8 526.8h0M87.2 535.9h0M87.3 545h0M86.9 556h0M87.4 565.2h0M87.4 576.1h0M86.8 587.4h0M87.2 596.2h0M86.9 606h0M87.5 616.8h0M86.8 627h0M86.9 637h0M87.2 646.5h0M87 656.8h0M86.8 666.2h0M87.3 675.7h0M86.8 685.1h0M86.8 695.4h0M87.1 706.5h0M86.7 716h0M87.1 726.5h0M86.6 737.2h0M86.2 747.1h0M86.1 758.3h0M86 768.3h0M86.6 779.4h0M86.1 788.4h0M466.9 59.7h0M466 69.4h0M466 80.1h0M469.1 90.5h0M465.1 99.2h0M466.6 110.5h0M461.1 119.2h0M460.8 129.6h0M451.9 138.5h0M413.8 148.6h0M386.2 159.1h0M364.3 169.6h0M397.2 179.7h0M357.9 189.8h0M334.4 201.1h0M271 212h0M268.8 220.8h0M233.7 231.4h0M213.4 240.1h0M208 250.4h0M207.2 259.1h0M182.2 270.1h0M152.4 278.7h0M163 287.9h0M179 299.3h0M156.4 309.6h0M142.7 320.4h0M123.7 330.2h0M115.3 339.5h0M119 348.2h0M122.7 357.1h0M112.1 365.9h0M123 376.7h0M117.3 386h0M111 396.3h0M110.1 406.7h0M107.6 417.9h0M99.1 427.8h0M96 436.8h0M96.8 445.4h0M94.9 456.9h0M95.5 465.6h0M92 476h0M89.9 486.6h0M94.4 497.6h0M91.7 509.1h0M92.7 519.1h0M90.8 529.4h0M89.2 540.1h0M89.1 550.4h0M88.8 560.9h0M88.5 569.9h0M88.6 580.1h0M88.9 588.7h0M88.7 598h0M88.4 609.2h0M88.9 620.7h0M88.8 629.7h0M88.4 638.3h0M88.3 647.6h0M88.4 659.1h0M88.6 670.2h0M88.7 680.5h0M88.1 691.1h0M88.8 702.1h0M88.2 712.6h0M88.7 721.3h0M88.1 731h0M88.2 742.1h0M87.9 753.1h0M462.8 56.6h0M463.7 66.4h0M462.4 76.7h0M464.9 88h0M465.4 97.6h0M469.4 107.5h0M467.9 118.9h0M471.2 128.8h0M452.7 138.7h0M420.7 148.7h0M412.4 157.2h0M374.8 166.5h0M307.7 177.7h0M318.4 188.9h0M317.7 200.1h0M265.1 211h0M254.6 222h0M187.6 230.5h0M193.7 239.5h0M205.5 248.5h0M129 259.5h0M155.8 268.7h0M128.5 279h0M142.2 288.3h0M145.8 299.1h0M147.5 310.2h0M135.2 318.9h0M138.3 327.5h0M132.1 338.1h0M132.2 348.6h0M110.6 357.3h0M104.8 368h0M101 378.8h0M99.7 387.8h0M100.9 397.8h0M99.6 409.1h0M98.9 418.5h0M99.9 428.6h0M98.2 439.1h0M93.4 449.4h0M94.9 458.7h0M93.5 469.9h0M90.9 480.7h0M91.9 491.6h0M87.5 501.4h0M93.2 511.5h0M90.6 520.8h0M92.2 532.2h0M89.3 543.6h0M88.5 553.3h0M89.2 562h0M88.9 571.2h0M89.1 581.5h0M88.3 591.4h0M88.9 601h0M88.7 611.9h0M89.1 621.3h0M88.2 632.4h0M89 643.4h0M88.3 653.1h0M471 59.8h0M468.2 69.3h0M471.3 78.8h0M469.1 89.3h0M467.5 100.2h0M471.4 109.3h0M471.4 119h0M471.4 128.1h0M471.3 138h0M455.7 147.9h0M409.7 158.1h0M428.3 168.8h0M381 178.4h0M423.9 187.9h0M355.1 197.2h0M333 206.4h0M335.1 215.5h0M302.8 225.3h0M284.6 236h0M262.9 245.3h0M230.2 254.8h0M204.7 264h0M187.4 274.2h0M186.5 283.3h0M178.2 292.5h0M174 303.5h0M195.2 312.3h0M180.5 321.1h0M169 331.4h0M163.3 341h0M145.9 351.3h0M141.2 360.9h0M129 369.9h0M118.8 379.9h0M112.5 388.6h0M110.3 398h0M110.5 407.5h0M103.7 418.2h0M106.6 427.7h0M105.5 437.5h0M104.1 447.7h0M101.8 458.8h0M101.9 467.5h0M96.8 478.8h0M93 488.8h0M92.8 499.2h0M92.5 510.5h0M94.6 521h0M94.3 530h0M93.3 538.8h0M106.9 549.3h0M106.4 557.9h0M106.7 566.8h0M107.1 576.7h0M106.5 587.3h0M107 598.2h0M106.9 607.7h0M106.8 616.5h0M106.5 625.9h0M106.6 634.6h0M106.9 645.4h0M106.9 656.6h0M106.7 667.8h0M106.6 678.4h0M106.5 687.3h0M106.5 696.5h0M106.7 707.7h0M106.6 718.7h0M106.7 728.7h0M465 59.7h0M464 69.5h0M466.9 78.4h0M466.6 86.9h0M468.9 96.6h0M468.6 107h0M468.6 117.6h0M471.4 126.7h0M468.3 135.5h0M429.1 144.9h0M415.4 154.1h0M385.8 164.1h0M346.6 174.1h0M299.5 183.7h0M343.2 194.8h0M302.7 204.7h0M287.6 213.9h0M257.9 224.9h0M228.5 234.5h0M213.6 243.6h0M172 254.7h0M151.3 264.9h0M143.7 274.9h0M153.1 284.9h0M130.6 295.7h0M165.9 304.7h0M155.1 315.4h0M146.6 326.8h0M134.5 336.7h0M136.2 347.4h0M114.5 358.2h0M106.2 367.5h0M104.7 376.2h0M101 385.8h0M100.2 396.4h0M103.9 406.7h0M98.9 415.5h0M101.1 426.3h0M99.3 437.4h0M98.1 446.6h0M98.9 457.8h0M93.4 466.8h0M91.6 475.7h0M93.6 485.7h0M91.7 496h0M93.8 504.7h0M92.4 513.3h0M90.7 521.9h0M92.5 532.6h0M105.6 541.6h0M105.8 551.5h0M105.5 560.3h0M105.9 570.1h0M106 580.7h0M106 591.2h0M105.9 602h0M105.5 610.7h0M105.7 619.9h0M105.3 629h0M105.4 637.5h0M105.3 646.1h0M105.4 655.4h0M105.8 664h0M105.9 675.2h0M105.3 685.3h0M105.4 695.5h0M105.6 705.6h0M105.4 715.4h0M105.7 724.3h0M106.1 734.4h0M462.1 57.1h0M460.9 68.5h0M461.9 78.5h0M459.6 89.5h0M460.6 98.8h0M464.7 109.6h0M462.5 118.2h0M468.6 127.8h0M454.8 138h0M430.8 146.9h0M380.6 157.9h0M351.6 167.3h0M339.2 176.9h0M317.4 186.4h0M334.5 197.2h0M292.1 206.8h0M294.8 216.6h0M298.8 227.4h0M264 238.4h0M231.4 249.2h0M192.2 258.5h0M186 268.8h0M141.6 278h0M144.3 288h0M153.6 297h0M145.5 308.3h0M135.6 318.4h0M134.4 329.7h0M134.6 341h0M128.8 352h0M111.2 361.7h0M116.2 372.1h0M113.5 381.2h0M102.3 390.3h0M109 400.7h0M105.2 411.5h0M97.9 420.2h0M101.9 429.6h0M99.4 439.9h0M96 450.3h0M96.3 460h0M90.1 471h0M88.5 481.3h0M88.5 491.8h0M90 501h0M88.3 510.1h0M91 519.7h0M90.3 530.2h0M89 541h0M88 550.7h0M88.9 561.2h0M88.9 571h0M87.9 582.2h0M88.3 593.7h0M88.4 605.1h0M87.9 615.8h0M88.7 625.6h0M88 635.9h0M88.3 646.9h0M88 657.9h0M88.1 666.6h0M87.6 675.8h0M88.1 687h0M87.9 695.7h0M87.9 705.7h0M87.9 716.5h0M88 726.1h0M88.1 735.3h0M87.8 746.5h0M88.1 758h0M87.4 768.4h0M87.8 778.3h0M87.6 788.4h0M87.4 796.9h0M87.6 808.1h0M464.2 62.2h0M463.3 71.6h0M460.1 80.7h0M461.8 91.3h0M460.4 102.3h0M459.1 111h0M461.9 120.5h0M462.9 131.2h0M433.9 141.4h0M393.6 150.4h0M406 159.7h0M364.3 168.3h0M260.7 179.6h0M256.2 191h0M214 200.8h0M220.8 209.5h0M208.3 218.3h0M208.1 227.4h0M210.9 238.7h0M192.8 248.9h0M161.1 260.2h0M148.9 270.9h0M130.2 281.2h0M130.9 291.2h0M118.2 300.1h0M126.9 309h0M114.9 319.1h0M103.2 330.2h0M119.1 339.2h0M109.8 349.9h0M104.2 359.4h0M102.4 368.7h0M98.6 379.5h0M92.4 389.1h0M90.4 399.8h0M92.4 410.6h0M97.8 419.7h0M89.7 429.1h0M92.2 438.7h0M91.2 450.1h0M93.3 459.3h0M91.7 470h0M91.2 479.4h0M90.1 490.4h0M89 501.4h0M87.3 511.1h0M87.5 521.7h0M87.2 533h0M88.2 543.8h0M87.9 553.6h0M88.5 563.7h0M87.9 572.4h0M88.1 582.1h0M88.2 591.3h0M88.2 600h0M88.1 609h0M88 617.7h0M87.4 628.7h0M87.6 639.9h0M87.3 650.6h0M87.5 659.2h0M87.5 669.6h0M87.6 681.1h0M87.8 691.8h0M87.1 702.5h0M87.7 711.3h0M87.8 721.5h0M87.4 732.8h0M87 743.8h0M87.2 752.4h0M469.5 60h0M465.4 69.5h0M469.5 78.9h0M464.2 89.9h0M464.6 101.4h0M463.2 111h0M467.6 122.3h0M467.2 133.5h0M436.3 144.1h0M444.1 154.4h0M436.7 163.9h0M413.2 173.9h0M367.9 182.6h0M329.7 193.9h0M253.2 205.1h0M218.8 214.4h0M218.2 225.7h0M193.1 234.3h0M182.6 243h0M180.9 253.9h0M197.4 263.1h0M171 273.6h0M160.5 282.6h0M150.5 292.7h0M137.3 302.4h0M128.2 312h0M131.6 320.9h0M117.5 332h0M126.1 342.4h0M110.4 352.5h0M115.4 361.1h0M117.1 369.7h0M109 379.5h0M107.5 388.4h0M109.4 399.3h0M99 410.3h0M91.7 420.5h0M97.5 430h0M91.6 441.3h0M94.2 452.1h0M94.1 460.7h0M94.2 471.4h0M92.4 481.6h0M94.7 490.5h0M96.9 500.8h0M92.8 509.5h0M92.9 519.3h0M87.7 529.5h0M91.1 539.7h0M88.8 549.5h0M89.5 560.9h0M89.2 570.6h0M89.1 579.5h0M88.7 588.6h0M88.7 598.1h0M88.8 607.8h0M88.6 617.2h0M88.6 628.5h0M88.7 637.1h0M88.3 646.3h0M88.7 655h0M88.5 664.5h0M88.3 673.2h0M88.9 684.3h0M89.1 693.7h0M467.9 59.2h0M468.8 68.1h0M467.3 79.3h0M470.2 88.8h0M468.7 98h0M468.5 107.1h0M468.1 118h0M471.4 127.9h0M466.5 136.9h0M455.3 148.3h0M446.4 157.4h0M406.7 166.4h0M404.6 176.4h0M339.6 186h0M288.4 195.8h0M290.4 204.4h0M250.6 213.9h0M253.9 224.8h0M243.2 234.4h0M223.4 245.3h0M212.2 255.7h0M183.4 266.7h0M193.4 277.9h0M163.4 287.1h0M166.6 297.4h0M149.7 307h0M128.7 318.3h0M148.4 326.9h0M144.3 336.7h0M139.9 347.7h0M129.8 357.4h0M115.6 367h0M112.9 377.1h0M110.1 386.2h0M103.4 395.2h0M98.9 404.2h0M101.3 413.9h0M95.8 424.8h0M102.8 433.4h0M99 443.1h0M99.2 452.5h0M100.6 463.2h0M97.7 472.2h0M97.9 482.9h0M91.7 493.6h0M93.7 504.6h0M93 513.3h0M91.8 523.2h0M91.4 534.2h0M106 543.2h0M106.5 553.8h0M105.9 564.6h0M106.4 573.4h0M106 584.3h0M105.9 595.7h0M106.2 604.8h0M106 613.8h0M106.5 624h0M106 634.2h0M106 645.6h0M106.5 654.5h0M106.3 665.5h0M106.3 675.2h0M106.1 685.8h0M106.3 696.6h0M106.1 707.3h0M106.2 716.3h0M106.1 725.4h0M467.3 56.1h0M471.1 64.7h0M471.2 74.2h0M469.1 84.8h0M471.4 94.8h0M470.5 105h0M468.3 115.5h0M466.2 124.8h0M470.9 135.9h0M432.4 145.2h0M448.7 156.4h0M455.9 166.9h0M409.2 175.9h0M414.5 185.3h0M370.3 194.4h0M354.8 203.1h0M293.6 213.4h0M254.6 222.1h0M237.6 232.9h0M211.1 242.9h0M187.5 251.9h0M203.4 263.3h0M178.4 273.9h0M194.9 282.8h0M185.2 292h0M175.5 302.5h0M174.4 313.4h0M148.7 322.9h0M131.1 334.2h0M121.2 343.6h0M121.9 354.3h0M109.5 365.2h0M118.8 373.9h0M114.2 382.8h0M113.6 391.3h0M113.4 400.4h0M108.6 411.1h0M102 422.5h0M101.9 433.5h0M94.7 442.9h0M97.4 452h0M98 461.1h0M95.6 470.7h0M96.2 481.5h0M96 490.2h0M95.3 501.5h0M97.8 511.8h0M94.5 521.9h0M93.4 532.6h0M106.7 542.6h0M106 553.2h0M106.2 562.1h0M106.8 572.5h0M106.7 583.6h0M106.8 592.4h0M106.4 601.1h0M106.6 610.8h0M106.5 620.6h0M106.4 629.7h0M106.7 640.1h0M106.5 650.4h0M106.5 661.8h0M106.1 670.6h0M106.2 679.3h0M106.7 690.7h0M106.5 700.5h0M106.4 711.4h0M106.7 722.7h0M106.1 733.2h0M469.4 58.6h0M462.5 68.3h0M463.6 78.6h0M461.5 89.6h0M461.6 99.7h0M461.6 110.5h0M460.8 120.3h0M464.3 131.7h0M443.4 142.5h0M423 152.6h0M395.6 163.7h0M379.4 173.3h0M314.4 183.9h0M316.6 193.6h0M251.4 203.7h0M240.2 214.4h0M213.9 224.8h0M204.6 234.7h0M180 244.6h0M178.1 255.1h0M190.7 266h0M158.1 275.9h0M166 286.4h0M148 297.3h0M135.5 308.4h0M109.1 319.4h0M114.5 330.8h0M112.2 341.8h0M115.5 350.4h0M117.6 361.6h0M115.2 372.9h0M105.9 381.9h0M99.7 393.3h0M102.2 401.9h0M94 413.3h0M89.4 424.1h0M93 435.1h0M92.1 443.7h0M91.6 452.8h0M91.5 461.3h0M93.4 470.5h0M93.4 479h0M94.8 488.3h0M90.4 499.5h0M93.3 508.2h0M89.7 518.6h0M88.6 529.6h0M87.3 538.8h0M88.7 548.6h0M89 557.3h0M88.9 567.7h0M89.1 578.1h0M88.4 589.1h0M88.9 599.9h0M88.4 611.3h0M88.6 620.1h0M88.1 631.2h0M88.7 642.1h0M88.6 652.2h0M88 663.6h0M88.6 672.3h0M88.4 683.4h0M88 693.6h0M88 703.7h0M87.9 712.4h0M88.3 721.7h0M87.6 731.4h0M467.9 56.5h0M468.1 66.9h0M461.9 76.1h0M465.6 85.5h0M467.1 96.5h0M470.8 105.4h0M469.5 114.9h0M466.2 124.6h0M468.4 135.4h0M441.5 146.8h0M398 157.3h0M398.7 168h0M328.3 179.3h0M298.7 188.6h0M344.3 198.3h0M293.9 208.5h0M274 219.8h0M248.5 229.6h0M235 238.5h0M188.7 247.2h0M179.1 255.7h0M154.4 266.2h0M146.7 275.8h0M165.3 285.5h0M154.6 294.1h0M163.9 305.3h0M148.9 315.2h0M141.3 326.4h0M130.8 335.9h0M130.4 345.9h0M121.6 356.7h0M107 367.5h0M105.1 378h0M101.8 389.3h0M105.2 400.2h0M100.3 410.5h0M97.8 421.8h0M102.3 432.3h0M96.7 441.9h0M94 452.8h0M97.8 463.1h0M93.3 472.9h0M92.4 481.7h0M93.1 490.7h0M91.3 500.6h0M94.3 509.7h0M93.3 520.5h0M92.9 531.7h0M105.8 541.7h0M106.1 551.1h0M105.8 560.5h0M105.5 570.1h0M105.6 579.7h0M105.6 588.4h0M105.5 598.9h0M105.7 609.6h0M106.1 619.6h0M105.6 630.7h0M106.3 639.9h0M105.6 649.9h0M105.7 659h0M105.5 668.9h0M105.8 679.2h0M106.2 690.4h0M106.1 699.7h0M106.1 710.4h0M106.2 719h0M105.7 728.7h0M461.4 61.5h0M460.8 70.6h0M460.1 80.6h0M461.9 89.7h0M460.7 99.5h0M460.3 108.4h0M463.6 117.9h0M463.5 128.3h0M458 139h0M415.5 149.6h0M370.3 159.4h0M296.6 168.9h0M278.9 179.8h0M277.4 188.8h0M246.8 198.2h0M221.9 207.6h0M215.9 217h0M231 225.5h0M182.8 237h0M182.1 247.5h0M172.5 259h0M137.1 269.4h0M126.6 279.3h0M123.2 289.8h0M122.4 300.4h0M117.8 310.3h0M115 319.7h0M133.1 328.3h0M122 337.5h0M109.4 346.3h0M117.8 356.2h0M99.8 365.8h0M101.6 377h0M101.9 387h0M95.6 397h0M90 406.5h0M92.3 415h0M90.8 424.2h0M92.4 434.6h0M88.8 443.3h0M93.2 454.7h0M90.9 464.7h0M90.6 473.6h0M91.9 482.8h0M88.5 493.4h0M90.9 502.5h0M89.7 511.4h0M89.8 522.8h0M90.2 532.8h0M88.1 542h0M87.9 553.1h0M88 563.3h0M87.7 573.5h0M88.5 582.2h0M87.9 591.9h0M88.1 603.1h0M87.7 612.2h0M88.1 621.1h0M88.1 630.3h0M87.5 641.7h0M87.3 651.5h0M461.4 61.3h0M460.7 72.6h0M463.7 81.4h0M463.9 90h0M466.4 99.9h0M463.3 108.8h0M469.3 119.9h0M461.7 128.5h0M450.5 137.4h0M439.3 146.3h0M380.5 154.9h0M365.3 163.5h0M322.4 174h0M299 184.5h0M289.8 194.5h0M295.5 205.5h0M258.1 214.3h0M224 225.4h0M200.1 234.8h0M196.5 245.6h0M171.3 254.1h0M141.1 265.5h0M133.7 275.3h0M128.9 285.9h0M133.6 296.5h0M149 305.2h0M132.7 314.2h0M144.2 325.4h0M121 336h0M119.6 345.4h0M118.3 354.7h0M111.7 365.9h0M100.8 374.9h0M96 385.7h0M90.7 394.9h0M96.6 406.4h0M95.6 415h0M93.8 425.5h0M97.1 436.4h0M97.6 445.8h0M90.6 455.8h0M88.6 464.7h0M89.8 475.9h0M89.1 484.9h0M88.4 494.7h0M90 505h0M90.6 513.6h0M89.4 522.3h0M92.8 531.7h0M89.1 541.3h0M89.1 552h0M89.1 561.5h0M88.7 571.2h0M88.7 580.4h0M88.9 591.7h0M88.5 601.3h0M88.6 609.8h0M88.1 619.2h0M88.7 629.2h0M87.9 639.2h0M88.7 649.9h0M88.6 660.1h0M88.1 669h0M88.4 679.7h0M88.4 689.8h0M88.6 701h0M88.3 711.7h0M88.4 722.1h0M87.5 732.7h0M469.3 59.7h0M468.3 69.2h0M466.1 78h0M465.7 88.8h0M463.3 99.9h0M467.3 110.4h0M471.4 119.9h0M470.5 130h0M466 140.1h0M440.8 149.8h0M426.6 160.3h0M397.3 171.1h0M324.6 182.1h0M277 191.9h0M275.3 201.7h0M276.3 212.5h0M256 221.4h0M237.9 232.3h0M215.4 240.9h0M221.8 249.9h0M193.3 258.9h0M192.6 270.3h0M166.3 279.2h0M152.1 290.1h0M133.6 301.1h0M136.9 311.9h0M147.7 321.3h0M136.7 332h0M133.6 341.8h0M119.1 352.3h0M124.5 363.3h0M116.2 374h0M104.5 383.4h0M103 393h0M100.1 403.7h0M100.9 413.6h0M98.6 424.8h0M100.9 435.9h0M99.2 444.6h0M98.8 454.4h0M99.7 464.2h0M96.5 475.3h0M92.1 483.9h0M94.3 493.2h0M94 502.6h0M92.1 511.3h0M90.8 520.5h0M91.9 529.6h0M106.1 540.4h0M106 549.7h0M105.5 559.5h0M105.8 570.7h0M105.5 582h0M105.8 592.9h0M105.9 602.4h0M105.5 611.8h0M106 622.3h0M105.6 630.9h0M105.5 640h0M105.9 649.3h0M105.8 658.9h0M106.1 668.4h0M106 679h0M106 690.4h0M106.1 699h0M105.9 707.7h0M105.6 716.7h0M105.6 727.5h0M105.6 737.5h0M464.2 61.3h0M460.7 72.1h0M461.3 81.5h0M463.6 92.7h0M462.3 103.5h0M461 113h0M459.1 123.1h0M463.6 131.6h0M432.7 142.5h0M397.9 151.8h0M343 161.1h0M365.1 172.4h0M353.5 183.3h0M321.8 193.9h0M267 203.6h0M254.4 212.2h0M218.7 223.6h0M209.7 233.8h0M180.8 244h0M184.2 255.1h0M175.2 264.4h0M147.3 273.6h0M184 282.5h0M168 291.7h0M160.8 302.8h0M138.3 313.7h0M120.1 324.2h0M116.7 335.4h0M103.6 345.4h0M105.1 356.4h0M111.1 365.8h0M107.3 376.8h0M103.3 385.9h0M105.8 395.7h0M106.9 404.5h0M99.5 415h0M96 424.4h0M95.3 435.4h0M93.2 444h0M88.6 453h0M91.2 461.9h0M91.6 473.2h0M93.6 484.5h0M90.5 493.4h0M90.9 503.9h0M91.4 515.4h0M89.3 525.3h0M88.1 534.9h0M87.4 545.6h0M88.3 556.2h0M88.2 566.2h0M87.5 576.5h0M87.4 586.3h0M87.3 597.3h0M87.6 606.3h0M87.2 616.6h0M87.4 625.7h0M87.7 635.7h0M87.5 645.2h0M88 653.7h0M87.5 663.6h0M87 674h0M87.2 684.1h0M87.4 692.6h0M471 56.2h0M471.1 65.4h0M471.2 75.9h0M471.4 87h0M471.4 96.9h0M471.4 105.4h0M471.2 114.2h0M470.1 124.6h0M464.8 134.4h0M433.3 144.9h0M434.7 154.5h0M453.2 163.3h0M449 174.7h0M398.5 186.1h0M376.1 197.3h0M315.5 208h0M272.8 217.4h0M270.4 226h0M209.3 236.4h0M215.3 246h0M209.2 257h0M188.3 267.8h0M163.4 276.5h0M165.5 287.7h0M186.8 296.5h0M173 305.7h0M170.7 316.5h0M141.1 327.8h0M128.5 338.8h0M122.8 347.7h0M120.2 356.5h0M119.7 365.3h0M110.8 375.2h0M110.5 384.7h0M110 395.8h0M111.3 406.9h0M108.8 416.1h0M106.8 425.3h0M101.9 435.2h0M96.8 446.1h0M95 455.3h0M93.7 464.8h0M97.6 475.8h0M97.4 486.2h0M98.9 494.7h0M95 504h0M94.4 514.5h0M94.5 524.1h0M92.2 533.2h0M106.5 543.7h0M106.2 553.4h0M106.3 564.5h0M106.6 575.1h0M106.8 585.4h0M106.9 596.6h0M106.1 605.6h0M106.6 614.7h0M106.7 623.2h0M106.8 633.6h0M106.6 642.6h0M106.2 652.6h0M106.8 663.9h0M106.6 673.5h0M106.8 682.2h0M106.9 693.5h0M106.3 704.7h0M106.8 715.3h0M106.5 724.4h0M106.6 733.1h0M466 61.8h0M461.6 72.3h0M464.5 83.1h0M462.7 93.3h0M459.4 104.7h0M461.9 114.6h0M464.3 123.1h0M461.7 133.6h0M431 144.2h0M393.8 155.4h0M398.7 163.9h0M325.3 174.5h0M354.7 185.1h0M319 193.8h0M241.6 202.9h0M195.7 211.9h0M181 221.8h0M191.7 232.8h0M169.7 241.6h0M166 251.9h0M154.7 263.1h0M184.8 272.6h0M166.6 281.8h0M149.2 292.2h0M120.9 302.3h0M118.2 311.3h0M116.4 322.8h0M104.3 334h0M119.1 342.7h0M108.1 351.9h0M110.8 362.9h0M104.7 372.7h0M108.1 383.9h0M101.5 395h0M98.1 403.6h0M91.4 414.5h0M90.8 425.7h0M90.5 436.2h0M90.2 447.1h0M88.6 455.8h0M92.7 464.3h0M94.6 473.5h0M94.2 482.3h0M95.2 492.6h0M91.1 503.1h0M87.5 511.8h0M89 521.1h0M87.9 530.6h0M88.2 539.7h0M88.8 551h0M88.3 560.1h0M88.7 571.5h0M88.3 581.2h0M88.2 589.9h0M88.4 598.9h0M88.4 609.6h0M88.6 619.1h0M88.2 630h0M88.1 639.4h0M88.2 650.5h0M87.7 660.9h0M88 672h0M87.7 681.2h0M88.4 691.5h0M465.3 60.7h0M463.6 72.2h0M465.2 82.2h0M466.4 91.7h0M460.6 102.9h0M462.5 111.5h0M459.8 120.2h0M461 129.4h0M432.1 139h0M395.5 149.2h0M353.9 158.8h0M333 169.3h0M347.2 179.7h0M316.8 191.1h0M307.3 201.8h0M240.5 213.2h0M234.4 222.4h0M192.4 232.6h0M179.2 242.4h0M141.6 252.4h0M143 262.6h0M135.5 271.2h0M145.7 280.6h0M167.9 290.1h0M144.1 301.1h0M143.8 312.4h0M150.7 321h0M133.9 332h0M134 343h0M104.5 352.4h0M108.3 362h0M115.8 371.9h0M104.3 381h0M102.6 390.4h0M104 401.7h0M97.5 410.7h0M98.5 420.7h0M97.1 430.7h0M92.7 440h0M89.4 448.6h0M88.4 460.1h0M94.5 470.8h0M88.3 482.2h0M91.6 493.7h0M93.1 503.7h0M92.3 514.8h0M93 523.7h0M89.9 532.9h0M88.4 542.7h0M87.7 552.8h0M88.4 562.3h0M88.3 571.9h0M88.6 580.9h0M88 591.2h0M87.9 600.5h0M88.1 610.9h0M87.8 621.8h0M88 630.4h0M88.1 639.8h0M87.6 649.9h0M88.3 658.5h0M87.8 667.3h0M87.8 678.1h0M87.9 687h0M87.7 697.1h0M88 706.4h0M88 715.1h0M87.7 725.8h0M87.5 735.1h0M435.2 236.3h0M419.6 251.7h0M396.2 270.8h0M379.5 282.4h0M316.5 303.5h0M230.3 334.3h0M225.2 346.3h0M220.3 364.3h0M215.4 375.9h0M208.5 390.4h0M200.3 401.5h0M180.2 414.5h0M172.4 423.4h0M155.3 436.3h0M134.4 444.5h0M124.4 454.1h0M116.6 460.1h0M420.7 202.2h0M448.6 214.5h0M356.2 208.9h0M366.2 213.4h0M455.4 200.7h0M435.5 201.5h0M463.3 178.4h0M377.3 198.6h0M381.4 219h0M394 207.1h0M260.6 256.7h0M465.2 149.2h0M445.8 167.1h0M330.5 225.4h0M382 218.1h0M365.3 208.2h0M444.3 203.2h0M331.2 239.3h0M423.3 180.1h0M420.2 201.6h0M328.9 235.9h0M448.5 181.8h0M354.9 226.8h0M306.2 223.8h0M212.8 299.2h0M367.3 197.8h0M428.4 211.9h0M318.4 216.9h0M446.6 190.8h0M451.6 192.8h0M412 224.9h0M372.6 215.7h0M374.9 214.7h0M450.4 148h0M453.6 153.7h0M449.6 213h0M401.2 224h0M254.4 254.6h0M451.6 209.9h0M292.4 240.3h0M459.8 194.7h0M375.2 195.7h0M463.1 168h0M357.9 219.7h0M452.8 196h0M275.5 250h0M465.2 162.9h0M391.2 203h0M378.5 225.7h0M444.6 146.2h0M403.9 189.5h0M409 193.1h0M443 199.5h0M258.1 267.6h0M449.4 158.5h0M279.1 233.6h0M339.4 233.4h0M447.3 150.1h0M257.2 251h0M348.8 222.9h0M413.2 216.6h0M300.2 235h0M358.4 200.8h0M427.8 199.6h0M255.7 266.8h0M286.1 247.4h0M435.9 210.1h0M403.2 183.7h0M427.3 213.8h0M421.9 198.9h0M448.2 150.3h0M268.5 258.2h0M333.3 224.3h0M398 214.7h0M441.8 150h0M228.6 291.3h0M250.7 268.7h0M405.3 208.1h0M279.6 246.3h0M453.6 156.4h0M467.8 138.5h0M464.8 148.8h0M469.3 155.1h0M471.4 135.1h0M452.5 141.5h0M466.9 153.5h0M469.9 130.1h0M462.8 165.1h0M469.8 129.1h0M463.3 123.4h0M466.1 155.6h0M452.9 127.1h0M461.4 150.7h0M461.7 180.7h0M471.1 138.4h0M451.8 138.1h0M467.6 136.4h0M453.2 157.5h0M465 130.8h0M455.2 142.4h0M462.2 176.7h0M457.6 159.4h0M464.4 137.6h0M471.5 146.4h0M467.8 140.8h0M467.4 143.5h0M466.8 124.9h0M454.5 159h0M454.8 138.5h0M464.6 138.3h0M457 170.9h0M468 176h0M464.7 158.9h0M469.3 153h0M452.6 143.3h0M459.6 172.8h0M463.3 124h0M464.3 172.3h0M458 151.3h0M453.9 130.7h0M456.2 169.6h0M468.1 169.1h0M457.4 141.2h0M459.7 129.7h0M458.5 154h0M456.5 130.3h0M452.1 148.2h0M461.5 139h0M470.6 156h0M460.4 148.2h0M457.2 156.8h0M459.9 161.4h0M451.5 142.8h0M453.4 131.5h0M463.9 160.9h0M463.7 140.3h0M468.5 168.4h0M462.9 143.3h0M466 136.5h0"/>
<polyline class="ln" style="stroke:#0000ff;stroke-width:3" points="468.8,36.3 467.9,95.3 424.5,154.1 261.1,213.4 177.3,272.1 129.3,332.3 109.2,391.1 96.3,450.3 92.5,509.1 92.5,568.1 90.1,627.2 90.5,686.4 90.5,745.4 87.4,803.7"/><g fill="#0000ff"><circle cx="468.8" cy="36.3" r="6"/><circle cx="467.9" cy="95.3" r="6"/><circle cx="424.5" cy="154.1" r="6"/><circle cx="261.1" cy="213.4" r="6"/><circle cx="177.3" cy="272.1" r="6"/><circle cx="129.3" cy="332.3" r="6"/><circle cx="109.2" cy="391.1" r="6"/><circle cx="96.3" cy="450.3" r="6"/><circle cx="92.5" cy="509.1" r="6"/><circle cx="92.5" cy="568.1" r="6"/><circle cx="90.1" cy="627.2" r="6"/><circle cx="90.5" cy="686.4" r="6"/><circle cx="90.5" cy="745.4" r="6"/><circle cx="87.4" cy="803.7" r="6"/></g>
<polyline class="ln" style="stroke:#ff0000;stroke-width:7.9" points="448.6,19.4 448.6,43 448.6,66.6 448.6,90.2 448.6,113.8 447.4,137.4 441.9,161 409.6,196.4 328.3,255.4 269.3,314.4 230.3,373.4 195.8,432.4 167.3,491.4 161.3,550.4 162.4,609.4"/><g fill="#ff0000"><circle cx="448.6" cy="19.4" r="5.5"/><circle cx="448.6" cy="43" r="5.5"/><circle cx="448.6" cy="66.6" r="5.5"/><circle cx="448.6" cy="90.2" r="5.5"/><circle cx="448.6" cy="113.8" r="5.5"/><circle cx="447.4" cy="137.4" r="5.5"/><circle cx="441.9" cy="161" r="5.5"/><circle cx="409.6" cy="196.4" r="5.5"/><circle cx="328.3" cy="255.4" r="5.5"/><circle cx="269.3" cy="314.4" r="5.5"/><circle cx="230.3" cy="373.4" r="5.5"/><circle cx="195.8" cy="432.4" r="5.5"/><circle cx="167.3" cy="491.4" r="5.5"/><circle cx="161.3" cy="550.4" r="5.5"/><circle cx="162.4" cy="609.4" r="5.5"/></g>
<polyline class="ln" style="stroke:#9a6200;stroke-width:3.2;stroke-dasharray:2.5 1.5;stroke-opacity:.75" points="451.9,19.4 451.9,43 451.9,66.6 451.9,90.2 451.2,113.8 445.9,137.4 396.2,161 333.4,196.4 253.3,255.4 184.3,314.4 134.1,373.4 113,432.4 109.4,491.4 108.5,550.4 110.1,609.4"/><circle cx="451.9" cy="19.4" r="6.5" fill="#9a6200" fill-opacity=".75"/><circle cx="451.9" cy="43" r="6.5" fill="#9a6200" fill-opacity=".75"/><circle cx="451.9" cy="66.6" r="6.5" fill="#9a6200" fill-opacity=".75"/><circle cx="451.9" cy="90.2" r="6.5" fill="#9a6200" fill-opacity=".75"/><circle cx="451.2" cy="113.8" r="6.5" fill="#9a6200" fill-opacity=".75"/><circle cx="445.9" cy="137.4" r="6.5" fill="#9a6200" fill-opacity=".75"/><circle cx="396.2" cy="161" r="6.5" fill="#9a6200" fill-opacity=".75"/><circle cx="333.4" cy="196.4" r="6.5" fill="#9a6200" fill-opacity=".75"/><circle cx="253.3" cy="255.4" r="6.5" fill="#9a6200" fill-opacity=".75"/><circle cx="184.3" cy="314.4" r="6.5" fill="#9a6200" fill-opacity=".75"/><circle cx="134.1" cy="373.4" r="6.5" fill="#9a6200" fill-opacity=".75"/><circle cx="113" cy="432.4" r="6.5" fill="#9a6200" fill-opacity=".75"/><circle cx="109.4" cy="491.4" r="6.5" fill="#9a6200" fill-opacity=".75"/><circle cx="108.5" cy="550.4" r="6.5" fill="#9a6200" fill-opacity=".75"/><circle cx="110.1" cy="609.4" r="6.5" fill="#9a6200" fill-opacity=".75"/><polyline class="ln" style="stroke:#ffa500;stroke-width:2.4" points="451.9,19.4 451.9,43 451.9,66.6 451.9,90.2 451.2,113.8 445.9,137.4 396.2,161 333.4,196.4 253.3,255.4 184.3,314.4 134.1,373.4 113,432.4 109.4,491.4 108.5,550.4 110.1,609.4"/><g fill="#ffa500"><circle cx="451.9" cy="19.4" r="6"/><circle cx="451.9" cy="43" r="6"/><circle cx="451.9" cy="66.6" r="6"/><circle cx="451.9" cy="90.2" r="6"/><circle cx="451.2" cy="113.8" r="6"/><circle cx="445.9" cy="137.4" r="6"/><circle cx="396.2" cy="161" r="6"/><circle cx="333.4" cy="196.4" r="6"/><circle cx="253.3" cy="255.4" r="6"/><circle cx="184.3" cy="314.4" r="6"/><circle cx="134.1" cy="373.4" r="6"/><circle cx="113" cy="432.4" r="6"/><circle cx="109.4" cy="491.4" r="6"/><circle cx="108.5" cy="550.4" r="6"/><circle cx="110.1" cy="609.4" r="6"/></g>
<polyline class="ln" style="stroke:#008000;stroke-width:3" points="458.6,19.4 458.6,43 458.6,66.6 458.6,90.2 449.7,113.8 417.4,137.4 374,161 297.1,196.4 208.5,255.4 147.3,314.4 119.2,373.4 112.1,432.4 107.7,491.4 106.3,550.4 105.6,609.4 105.4,727.4"/><g fill="#008000"><circle cx="458.6" cy="19.4" r="6"/><circle cx="458.6" cy="43" r="6"/><circle cx="458.6" cy="66.6" r="6"/><circle cx="458.6" cy="90.2" r="6"/><circle cx="449.7" cy="113.8" r="6"/><circle cx="417.4" cy="137.4" r="6"/><circle cx="374" cy="161" r="6"/><circle cx="297.1" cy="196.4" r="6"/><circle cx="208.5" cy="255.4" r="6"/><circle cx="147.3" cy="314.4" r="6"/><circle cx="119.2" cy="373.4" r="6"/><circle cx="112.1" cy="432.4" r="6"/><circle cx="107.7" cy="491.4" r="6"/><circle cx="106.3" cy="550.4" r="6"/><circle cx="105.6" cy="609.4" r="6"/><circle cx="105.4" cy="727.4" r="6"/></g>
<polyline class="ln" style="stroke:#ff00ff;stroke-width:3" points="460.4,24.5 460.4,37.2 460.4,50.3 460.4,64.1 460.4,78.4 460.4,95.7 459.7,112.4 446.3,132.5 411.4,153.2 348.4,178.1 293.4,204.9 245.3,237.2 203.6,273.9 167.3,315.8 137.3,365.9 110.3,425.2 95.2,495.3 92.5,578.1 97.4,677.5"/><g fill="#ff00ff"><circle cx="460.4" cy="24.5" r="6"/><circle cx="460.4" cy="37.2" r="6"/><circle cx="460.4" cy="50.3" r="6"/><circle cx="460.4" cy="64.1" r="6"/><circle cx="460.4" cy="78.4" r="6"/><circle cx="460.4" cy="95.7" r="6"/><circle cx="459.7" cy="112.4" r="6"/><circle cx="446.3" cy="132.5" r="6"/><circle cx="411.4" cy="153.2" r="6"/><circle cx="348.4" cy="178.1" r="6"/><circle cx="293.4" cy="204.9" r="6"/><circle cx="245.3" cy="237.2" r="6"/><circle cx="203.6" cy="273.9" r="6"/><circle cx="167.3" cy="315.8" r="6"/><circle cx="137.3" cy="365.9" r="6"/><circle cx="110.3" cy="425.2" r="6"/><circle cx="95.2" cy="495.3" r="6"/><circle cx="92.5" cy="578.1" r="6"/><circle cx="97.4" cy="677.5" r="6"/></g>
</g>
<path class="sp" d="M158.6 814.5v6M257.3 814.5v6M356 814.5v6M454.7 814.5v6M77.6 19.4h-6M77.6 137.4h-6M77.6 255.4h-6M77.6 373.4h-6M77.6 491.4h-6M77.6 609.4h-6M77.6 727.4h-6"/>
<rect class="sp" x="77.6" y="19.6" width="404" height="794.9"/>
<text class="tk" text-anchor="middle" x="158.6" y="841.8" textLength="22">10</text>
<text class="tk" text-anchor="middle" x="257.3" y="841.8" textLength="22">15</text>
<text class="tk" text-anchor="middle" x="356" y="841.8" textLength="22">20</text>
<text class="tk" text-anchor="middle" x="454.7" y="841.8" textLength="22">25</text>
<text class="tk" text-anchor="end" x="65.2" y="25.9" textLength="11">0</text>
<text class="tk" text-anchor="end" x="65.2" y="143.9" textLength="22">10</text>
<text class="tk" text-anchor="end" x="65.2" y="261.9" textLength="22">20</text>
<text class="tk" text-anchor="end" x="65.2" y="379.9" textLength="22">30</text>
<text class="tk" text-anchor="end" x="65.2" y="497.9" textLength="22">40</text>
<text class="tk" text-anchor="end" x="65.2" y="615.9" textLength="22">50</text>
<text class="tk" text-anchor="end" x="65.2" y="733.9" textLength="22">60</text>
</g>
<g id="axS">
<path class="g" d="M599.5 814.5V19.6M666.6 814.5V19.6M733.5 814.5V19.6M801.4 814.5V19.6M868.6 814.5V19.6M935.7 814.5V19.6M572.5 19.4H976.7M572.5 137.4H976.7M572.5 255.4H976.7M572.5 373.4H976.7M572.5 491.4H976.7M572.5 609.4H976.7M572.5 727.4H976.7"/>
<g clip-path="url(#cS)">
<path fill="#0ff" d="M608.4 60 608.4 75.2 608.4 90.4 608.4 105.6 608.4 120.8 608.8 136 662 136 657.6 120.8 657.6 105.6 657.6 90.4 657.6 75.2 657.6 60ZM813.4 262 814.4 266.1 813.6 270.1 812.9 274.2 812.1 278.2 811.4 282.3 810.6 286.3 810.3 290.4 810.1 294.4 809.9 298.5 809.8 302.5 809.6 306.6 809.6 310.6 809.7 314.7 809.9 318.7 810 322.8 810.2 326.8 810.3 330.9 810.4 334.9 810.6 339 810.7 343 810.8 347.1 811 351.1 811.1 355.2 811.2 359.2 811.2 363.3 811.3 367.3 811.4 371.4 811.5 375.4 811.6 379.5 811.7 383.5 811.8 387.6 811.9 391.6 812 395.7 812.1 399.7 812.2 403.8 812.3 407.8 812.4 411.9 812.5 415.9 812.6 420 827.4 420 827.4 415.9 827.4 411.9 827.4 407.8 827.4 403.8 827.3 399.7 827.3 395.7 827.3 391.6 827.3 387.6 827.2 383.5 827.2 379.5 827.2 375.4 827.2 371.4 827.2 367.3 827.1 363.3 827.1 359.2 827.1 355.2 827.1 351.1 827.1 347.1 827.1 343 827.2 339 827.2 334.9 827.3 330.9 827.3 326.8 827.3 322.8 827.4 318.7 827.4 314.7 827.5 310.6 827.8 306.6 828.5 302.5 829.3 298.5 830.1 294.4 830.9 290.4 831.8 286.3 833.2 282.3 834.7 278.2 836.1 274.2 837.6 270.1 839 266.1 838.6 262ZM811.5 420 828 420 827 812 815.5 812ZM854.5 552 861.3 552 861.3 736 854.5 736Z"/>
<path class="cy" d="M634.2 61.2h0M618.7 71.2h0M606.5 81.5h0M606.2 92.8h0M606.2 102.5h0M615 113.9h0M606.5 124.5h0M620.8 133.6h0M642.3 143h0M656.8 154.1h0M655.6 164.4h0M678.3 175.7h0M669.7 184.6h0M715.8 195.8h0M749.2 206.9h0M768 216.2h0M791.9 224.8h0M803.3 236h0M812.2 246.8h0M819.9 256.8h0M814.6 267.5h0M809.7 278.8h0M810.5 287.5h0M804.7 298.1h0M804.1 309.1h0M805.7 319.1h0M809 329.9h0M810.5 339.7h0M812.9 350.5h0M812.9 359.3h0M816 369.1h0M815.1 378.9h0M809.8 389h0M809.4 397.8h0M810.1 408.3h0M811.1 418.1h0M822.3 429.1h0M817.4 438.5h0M821.1 447.9h0M817.5 457.9h0M820.6 466.9h0M825.4 477.9h0M816.7 488.7h0M824 498.6h0M823.2 507.2h0M820.7 518.4h0M822.8 527.9h0M814.8 539.1h0M821.5 550h0M818.5 561.1h0M818.8 570.4h0M823 579.1h0M822.7 589.2h0M821.6 599.8h0M818.5 609h0M822 619.7h0M821.3 631.1h0M821 642.6h0M816 652.6h0M822.5 663h0M815.5 674.2h0M822.8 684.3h0M819.5 695.5h0M635.3 54.8h0M643.5 64.5h0M614.5 75.7h0M613.1 84.5h0M631.2 94.7h0M632.5 103.6h0M637.9 113.6h0M635.3 122.8h0M637.5 132.3h0M664.9 143h0M678.8 152.3h0M705.9 162h0M736.3 171.4h0M705.9 182.2h0M736.2 191.1h0M775 200.4h0M792.6 209.5h0M804.6 220.9h0M800.1 229.7h0M813.3 239.1h0M824.7 248.4h0M836 257.2h0M834 268h0M826.7 278.6h0M820.5 288.1h0M815.5 297.1h0M813.6 306.9h0M821 316.3h0M816.8 325.4h0M815.9 336h0M825.7 346.1h0M828.9 354.6h0M823.2 365.2h0M828.4 374.6h0M816.2 384h0M816.4 393.7h0M814.3 402.9h0M818.8 412.8h0M825.6 423.4h0M816.1 432.9h0M823.2 442.6h0M815.4 452.2h0M824.9 463.6h0M815.7 473.5h0M825.2 483.8h0M815.1 494.7h0M818.7 505.5h0M824.2 514.1h0M815.2 524.5h0M816.7 535h0M815 546h0M823 554.6h0M815.7 565.7h0M821.9 575h0M817.1 583.5h0M820.6 593.2h0M818.5 602.2h0M814.7 611.1h0M816.7 620.2h0M820.6 630.2h0M822.8 641.2h0M818.3 650h0M822.1 659.3h0M815.8 670.7h0M815.3 681.4h0M818 692.2h0M821.1 703.3h0M822.7 714.7h0M820.9 725.4h0M819.9 736.1h0M817.2 747.6h0M818.8 757.3h0M817.4 766h0M823.1 775h0M820.3 785.2h0M816.7 796.1h0M821.7 807.5h0M654.4 56.6h0M657.7 65.5h0M656.2 75.4h0M655.2 84h0M651.7 94h0M630.3 103.8h0M643.4 114.5h0M648.9 125.5h0M651.7 135.5h0M717.5 146.2h0M760.7 156.1h0M755.5 167h0M793.4 178.5h0M792.7 188.9h0M793.6 199.5h0M789.9 209.9h0M784.7 220.1h0M787 229.2h0M808.6 239h0M805.8 248.7h0M820.9 259.1h0M816.8 270.4h0M830.9 280h0M833.7 290.8h0M827.1 301.3h0M829.4 311.6h0M827.6 320.2h0M826.1 331h0M823.1 340.6h0M832.4 351.4h0M833.7 361.7h0M831.8 372.3h0M829.4 383.1h0M832.6 393.6h0M827.2 403.6h0M826 413.9h0M824.2 424.2h0M825.6 434.8h0M812.8 443.9h0M816.1 454.2h0M815.7 465.4h0M819.6 476.2h0M818.8 485.4h0M855.8 494.8h0M815.1 504.8h0M818.9 513.6h0M820.7 523.4h0M855.5 534.8h0M818.4 544.1h0M858.5 554.7h0M858.6 565.3h0M858.6 576.5h0M858.5 587.1h0M858.1 596h0M858.2 605.7h0M858.4 616.8h0M858.4 628h0M858.4 638.9h0M858.7 647.7h0M858.1 657h0M858.6 667.8h0M858.4 677h0M858.6 685.9h0M858.3 695.9h0M858.4 706.9h0M858.4 715.6h0M858.8 726h0M858.7 735.8h0M629.7 60h0M613.5 71.4h0M627.3 80h0M619.3 90.7h0M635 100.7h0M618.4 112.1h0M640.8 122.5h0M624.5 133.4h0M645 142.1h0M681.2 150.6h0M664.5 160.5h0M689.6 171.9h0M685.4 181.4h0M730.9 190.1h0M765.8 200.9h0M795 211.9h0M800.4 222.9h0M809.5 233.8h0M808.3 242.6h0M823.6 252.2h0M816.4 261.8h0M813.3 272.5h0M814.6 283.2h0M810.7 293.3h0M815.1 303.6h0M814.2 313.2h0M818.5 323.4h0M820.9 334.7h0M819.6 343.8h0M816.9 354.3h0M814.4 362.8h0M816.2 372.6h0M813.1 384h0M813.5 392.9h0M820.3 403h0M816.1 412.3h0M815.5 421.1h0M819.8 431h0M820.3 441.4h0M818.8 451h0M823.9 459.6h0M825.1 469.6h0M820.5 479.1h0M821.8 490.4h0M822.7 500.6h0M821.1 511.2h0M818.2 520.9h0M821.8 529.6h0M823 539h0M823.6 549h0M822.2 557.7h0M821.7 567.8h0M820.9 578.6h0M818.9 588.2h0M820.1 596.8h0M817.3 607.8h0M816.3 617.2h0M821.9 626.5h0M816.1 636.6h0M816.1 647.5h0M820.3 658.9h0M817.5 669.6h0M818.8 678.3h0M816.1 687.7h0M816.9 696.5h0M819.4 707.5h0M816.1 718.5h0M823.1 728.8h0M821 739.5h0M821.5 749.7h0M820.8 759.4h0M818.4 768.6h0M819.1 777.8h0M820.4 786.5h0M822.4 798h0M821.7 807.3h0M637.8 55.7h0M640.4 64.9h0M658.5 74.6h0M658.7 85.8h0M659.5 94.4h0M658 103.6h0M648.5 112.2h0M649.5 123h0M659.4 132h0M666.9 141.5h0M707.5 152.2h0M708.3 163.1h0M765.9 173.2h0M760.4 182.9h0M789.7 194.1h0M806 203.5h0M826.5 214.6h0M828.7 224.3h0M829.4 234.8h0M835.2 243.4h0M831 253.6h0M829.7 264.8h0M825.5 275.4h0M831 284.8h0M828.5 293.9h0M830.5 304.3h0M830 314.4h0M826.2 323.3h0M826.2 333.5h0M826.8 342.4h0M825 351.4h0M827.1 361.8h0M819.6 373.3h0M820.7 383.9h0M829.3 394.5h0M826.3 404h0M830.8 413h0M813.3 422.2h0M823.7 432.1h0M824.5 443.6h0M825.2 453.2h0M813.7 463.3h0M855.8 474.4h0M819.1 485.6h0M817.6 496.4h0M822.2 507.6h0M839.2 516.5h0M817.6 526.9h0M849.5 538.3h0M814.9 547.5h0M857.8 557.6h0M858.1 567.6h0M858.3 576.8h0M857.8 585.6h0M857.7 597h0M858.1 606.5h0M857.8 616.7h0M857.8 625.5h0M858 637h0M858.3 646.3h0M858.3 657.6h0M858 666.6h0M857.8 677.3h0M858.4 688.3h0M858.1 697.3h0M858.5 708h0M858.3 718.1h0M858.4 728.8h0M651.2 59.6h0M651.5 70.4h0M658.8 80.4h0M652.2 90h0M649.5 100.8h0M650.1 111.6h0M652.3 120.2h0M640 130.5h0M643.4 140.3h0M707 149.4h0M709.2 159.6h0M727.2 171h0M764.3 181.6h0M811.9 192.9h0M799.6 203h0M812 213h0M827.1 222.8h0M832.3 233.8h0M826.6 243.7h0M825.6 255.1h0M833.3 265.9h0M826.1 274.8h0M829.8 285.5h0M832.8 294.9h0M827.9 303.8h0M832.9 315.2h0M821 324.5h0M824.2 334.1h0M822.7 344.9h0M821.1 354.9h0M822.5 364.4h0M828.5 373.4h0M822.7 383.4h0M828.6 392.7h0M829.8 402.4h0M827 413.2h0M826.9 422.9h0M819.5 432.3h0M816 442.5h0M818.2 453.6h0M822.7 464.3h0M816.5 475.4h0M852.4 486.5h0M820.4 496.3h0M849.4 506.9h0M816.8 515.9h0M840.5 525.4h0M814.8 534.3h0M854.4 543.5h0M857.9 552.7h0M858.2 563.6h0M858.2 573.7h0M857.8 584.5h0M857.8 595.5h0M857.8 606.3h0M858.2 616.9h0M857.5 627.3h0M857.7 638h0M857.7 647.9h0M858 659.1h0M857.8 670.5h0M858.1 680.8h0M858.1 690.6h0M857.7 702.1h0M858 711.8h0M858.1 722.3h0M857.9 732.7h0M643 60.5h0M658.3 70.9h0M652.4 79.7h0M659.4 91.1h0M641 100.8h0M642.8 109.4h0M638.4 118.5h0M628.6 129.2h0M652.1 138.5h0M676.7 149h0M707.2 158.1h0M739.3 168.2h0M757.2 178.9h0M789.4 189.1h0M758.2 198.8h0M765.7 208.4h0M779.6 218h0M773.7 228.4h0M787.4 237.4h0M804.3 247.1h0M814.3 257.8h0M816 266.5h0M824.5 277.6h0M823.2 286.7h0M828 295.9h0M821.9 305.1h0M825.4 313.7h0M822.7 324.4h0M823.8 335.2h0M827.2 345.5h0M823.4 355.4h0M823.7 366.1h0M821.9 377.3h0M825 386.4h0M829.3 396.3h0M826.6 406.2h0M823.2 417.1h0M823.6 427.7h0M823 437.1h0M815.6 446.9h0M817.1 456.7h0M814.5 465.2h0M813.2 474.8h0M845.2 484.6h0M819.9 493.4h0M848.3 502.3h0M849.3 513.3h0M849.1 523.3h0M817.1 532.9h0M822.5 542.3h0M857.6 553.4h0M857.5 562.8h0M858 572.4h0M857.3 581.1h0M857.6 591.2h0M857.4 600.9h0M857.9 611.6h0M858 622.5h0M857.3 631.1h0M857.4 641.2h0M858 652.1h0M857.3 662.4h0M857.6 673.1h0M858 683h0M858 691.5h0M609.7 56.2h0M628.6 66.7h0M615.7 77.9h0M617.1 88.8h0M623.2 98.6h0M622.3 108.9h0M614 118.6h0M612.1 127.2h0M607.5 137.2h0M636.3 146.8h0M653.4 157.1h0M677.6 167.9h0M701.9 177.4h0M726.8 186h0M750.4 194.7h0M765.3 203.7h0M779.6 213.5h0M792.1 224.5h0M789.6 234.4h0M808.1 244.5h0M813.5 255.5h0M821.9 266.7h0M815.4 275.8h0M816.5 287h0M814.6 297.4h0M821 306.1h0M819.4 316.4h0M808.2 326.9h0M809.4 337.1h0M812.7 346.5h0M810.4 356.2h0M810.6 365.8h0M810.4 377.1h0M815.3 387.4h0M816.1 397.9h0M818.3 407.2h0M815.4 418.6h0M824.8 429.5h0M816.7 438.4h0M814.4 447.3h0M815.5 456.5h0M819.6 465.5h0M820.4 474.8h0M818.1 485.4h0M824.4 496.7h0M822.4 507.2h0M821.6 518.2h0M818 527.5h0M815.6 538.7h0M816.7 547.5h0M815.3 558.8h0M821.2 569.3h0M818.4 580.5h0M818.4 589.8h0M818.1 598.4h0M821.1 608.3h0M814.5 618.4h0M815.7 627.4h0M815.5 637.5h0M817.5 647h0M822.6 658.3h0M819.9 666.9h0M817 678.4h0M817.6 688.2h0M819.4 698.1h0M815.3 707.4h0M819.7 718.1h0M818.5 728.3h0M627.2 56h0M631.2 64.8h0M644.9 76.3h0M648 85.5h0M651.9 95.5h0M638 104.1h0M646.4 113.2h0M632.2 124h0M631.7 135.1h0M675.7 144h0M674.3 154.9h0M679.8 166.2h0M703.4 175.7h0M760.1 184.8h0M775.8 194.3h0M804.7 204h0M808.9 213.1h0M824.2 221.7h0M815.5 233.1h0M821.2 243.5h0M816.7 252.9h0M831.3 263.4h0M822.9 271.9h0M826.2 280.6h0M826.1 291.9h0M826 303.1h0M828.7 314.5h0M827.3 324.8h0M825.3 335.3h0M820.9 344.6h0M817.4 355.3h0M813.9 365.7h0M819.2 375.1h0M819 384.3h0M825.4 394.9h0M821.9 403.9h0M829.1 413.9h0M816.2 423.9h0M818.1 433.1h0M813.9 443.9h0M820.1 454h0M822.2 464h0M816.3 473.7h0M814 483.7h0M819.1 493.6h0M814.3 503.9h0M823.4 514.5h0M820.1 524.2h0M814 534.4h0M817 545.8h0M823 556h0M822 566.1h0M818.2 574.8h0M820.4 584.9h0M823.4 594h0M820.5 603.5h0M818.1 614.6h0M820.3 625.9h0M821.5 635.5h0M822.1 644.2h0M821.9 652.9h0M820.2 662h0M821.3 673.2h0M816.5 683.2h0M820.4 694.5h0M819.3 705.3h0M821.3 714.1h0M819.9 725.2h0M821.5 735h0M822 746.2h0M822.8 757.2h0M626.5 60h0M632.6 70.9h0M629.4 79.8h0M626.1 88.8h0M611.1 99.2h0M606.2 108.8h0M613.7 119.2h0M609.6 128.9h0M613.7 139.3h0M629.2 148.3h0M661.9 157.4h0M676.5 166.3h0M706.7 175h0M733.9 184h0M759.8 195.5h0M778.5 205.4h0M792 214h0M794.3 222.9h0M802.7 232h0M808.8 240.9h0M804.8 250.5h0M822.2 260h0M829.1 270.8h0M827 280.4h0M821.3 289.8h0M820.8 300h0M819 309h0M813.3 320.4h0M819.5 331.3h0M809.7 341.3h0M810.1 350.2h0M813.9 360.4h0M813.9 371.2h0M818.3 380.1h0M819.5 390h0M820.7 401.4h0M826.2 410.4h0M820.2 419.2h0M826.9 429h0M825 439.4h0M817.9 448.9h0M821.3 457.8h0M814.3 468.8h0M824.1 478.7h0M815.1 489.8h0M822.3 499.6h0M814.1 511h0M822.7 521.7h0M815.4 530.9h0M823 540.2h0M813.8 550.7h0M818 560.1h0M822.6 569.9h0M815.7 580.4h0M815.8 591.3h0M814.5 602.2h0M815.6 612.8h0M816.1 623.3h0M815.1 632.4h0M814.9 643.5h0M818.6 652.6h0M821.8 661.3h0M821.5 672.1h0M820.2 682.6h0M815.8 691.9h0M818.7 701h0M819.7 711.3h0M821.2 721.8h0M817.7 730.5h0M819.5 740.5h0M817.2 750.3h0M821.1 761.1h0M818 772.3h0M818.5 781.2h0M823.7 791.9h0M817.5 801h0M820 809.6h0M620.3 61.4h0M621.6 72.9h0M623.4 83h0M628.8 93.5h0M609.2 104.5h0M614.4 114.6h0M620.4 126.1h0M629.2 135.3h0M659.9 144.4h0M715.5 153.4h0M708.1 164.1h0M699.7 174.8h0M716.2 184.7h0M734.3 194.9h0M764.9 204.9h0M770.5 215.1h0M795.2 226h0M819.8 236.3h0M817.1 247.2h0M832.7 256.6h0M822 265.8h0M822 276h0M817.6 286.1h0M816.2 295.3h0M820.1 304.1h0M805.5 315.3h0M807.5 324.7h0M810.8 335.4h0M814.2 346.5h0M817.9 355.6h0M819.5 365h0M814.6 375h0M814.7 384.1h0M817 394.6h0M809.7 404.5h0M811.8 413h0M822.9 423.2h0M819.3 432.1h0M825.1 441.1h0M814.9 451.4h0M825 461.9h0M814.4 470.8h0M822.3 481.7h0M817.5 491.9h0M823.1 502.9h0M814.1 511.4h0M818.7 520.1h0M822.3 529.1h0M817.6 538.4h0M815.8 547.2h0M823.4 557.8h0M823.1 567.9h0M823.1 578.9h0M821.3 590.4h0M820.1 599.4h0M814.8 609.1h0M816.1 619h0M818.5 630.2h0M821.1 639.7h0M816.6 650h0M816.1 661.3h0M822.9 670.3h0M820.9 680.8h0M821.9 690h0M822.1 701.3h0M817.2 709.8h0M820.5 719.6h0M821.1 731h0M817.8 739.5h0M815.8 750.2h0M818 759.5h0M821.9 768.3h0M820.1 779h0M821.3 789.7h0M821.2 800.4h0M822.1 810.4h0M613.6 60.7h0M609.3 69.4h0M616.4 79.6h0M619.6 89.7h0M629 99.9h0M624.7 109.3h0M614.7 119.6h0M618.5 128.7h0M611.2 138.8h0M619 150.2h0M636.6 161.6h0M648.6 171.5h0M669.5 182.4h0M748.5 193h0M792.1 203.4h0M791.7 212.7h0M797.2 223h0M796.7 232.5h0M795.7 242.9h0M800.5 253.6h0M811.7 263.6h0M807.1 273.7h0M807.7 284.3h0M814.8 294.6h0M820 303.5h0M822.1 313.9h0M816.6 324.8h0M814.6 334.2h0M809.8 344.2h0M810.3 354.7h0M810.4 364.3h0M810.4 374.7h0M810.1 383.4h0M812.8 394.2h0M814 403.2h0M814.7 413.7h0M818 423.4h0M813.5 434.9h0M824 445.2h0M822.9 454h0M822.1 463.4h0M822.4 474.2h0M823.8 483.7h0M816.9 493.7h0M822.9 503.5h0M814.9 514.6h0M824.2 523.8h0M820.1 533h0M816.5 542.1h0M815.4 553.5h0M815.2 563.8h0M815.7 573.1h0M816.7 582.9h0M819.5 591.4h0M819 600.4h0M816 610.5h0M822.7 619.8h0M818.3 629.9h0M816.2 639.1h0M821.8 649.1h0M822.1 660.6h0M814.9 670.1h0M822.6 679.3h0M819.9 689.3h0M816.1 698.7h0M820.7 707.5h0M818.6 718h0M816.8 727.7h0M608.6 56.2h0M612.1 66.3h0M606.7 76.6h0M613.9 87.3h0M624.4 98.8h0M612.2 110.2h0M616.2 118.9h0M612.2 127.5h0M617.7 137.1h0M612.1 146.4h0M631.5 156.3h0M650.1 164.9h0M665.9 175.2h0M721.6 186.2h0M741.4 197.3h0M775.9 206.2h0M791 217.5h0M797.4 228.5h0M800.5 237.1h0M799.3 247.8h0M807.4 258.2h0M811.3 267.6h0M812.1 277.1h0M808.9 286.6h0M816.5 297.9h0M813.9 307h0M811 316.3h0M810.2 326.7h0M809.4 336h0M809.9 346.6h0M810.4 357.9h0M810.4 366.6h0M811.9 376.1h0M810.4 386.9h0M817.9 397.7h0M818.3 407.2h0M814.6 416.9h0M820.3 425.4h0M815.2 434.3h0M825.4 445.6h0M820.9 454.6h0M822.9 466.1h0M819.2 475.5h0M818.4 484.3h0M823.7 493h0M820.9 504.2h0M821.5 513.1h0M815.5 523.8h0M817.4 534.5h0M817.9 544.9h0M815.3 554.9h0M823.1 565.7h0M818.4 575h0M823.6 586.1h0M815.7 594.7h0M820.1 605.8h0M814.5 615.5h0M815.4 625h0M822.9 635.4h0M815.1 644.6h0M819 655.5h0M818.8 665.3h0M820.3 675.1h0M818.3 684.9h0M822.8 695.2h0M818.1 705.4h0M817 715h0M818.6 725.7h0M608.5 57.3h0M610.9 67.4h0M611 76.4h0M611.6 87.9h0M625.7 98.7h0M620.4 109.3h0M617 118.6h0M615.2 129.5h0M620.7 140.9h0M617.8 152h0M637 163.2h0M651 173.3h0M664.3 184h0M721.8 194.4h0M752.9 203h0M772.2 214h0M781.4 223.9h0M792.7 234.7h0M806.6 244.6h0M802.3 254.7h0M808 266.1h0M810.6 275.3h0M803.6 286.7h0M806.9 297.5h0M810.5 306.2h0M813.3 315.6h0M809.1 324.5h0M812.6 334.1h0M809.8 343.3h0M815.4 352h0M810.4 361.9h0M810.4 371.9h0M810.3 380.5h0M809.7 391.1h0M813.2 400.7h0M810.3 410.7h0M827.1 420h0M821.8 430.5h0M813 441.2h0M822.4 451.3h0M823.1 461h0M816 472.2h0M818.1 483.7h0M815.8 493.7h0M821.2 504.7h0M818.2 516.1h0M824.6 524.6h0M815.5 533.7h0M815.2 543.4h0M819.9 553.3h0M818.2 564.8h0M814.5 574.4h0M814.5 583.4h0M815.2 594.7h0M815.1 604.7h0M821.5 615.8h0M822.1 626.9h0M822.2 637.5h0M822.4 646h0M816.5 656.7h0M635.6 56.5h0M636.3 67.9h0M629.6 76.7h0M639.5 86.7h0M652.1 96.1h0M648.8 105.5h0M625.9 114.1h0M619.2 125h0M621.3 135.9h0M653.2 146.8h0M654.4 155.7h0M694.2 165.6h0M739.1 174.4h0M754.4 185.6h0M770.3 195.8h0M814.1 207.2h0M818.5 216.9h0M810.8 227.5h0M811.6 236.8h0M820.5 247.3h0M820.9 256h0M819.9 267.3h0M830.6 276.2h0M822.5 287.4h0M825.9 297.9h0M827.3 308.3h0M828.3 318.5h0M826.4 329.4h0M825 340.1h0M819.4 349.6h0M815.1 358.3h0M819.4 368h0M823.8 377.4h0M820.3 386.8h0M822 396.9h0M822.8 408.1h0M827.1 418.7h0M814.4 428.8h0M822.1 439.9h0M825 451.2h0M815.8 460.5h0M814.2 470.3h0M824.9 478.9h0M816.7 489.6h0M813.1 498.3h0M814.3 508.4h0M822.7 519.9h0M816.2 528.7h0M822.7 538.1h0M815.8 548.8h0M823.2 559.3h0M817.1 570.4h0M822.8 580.7h0M821.2 590.1h0M819.6 601.2h0M823.3 611.8h0M816.2 620.4h0M815.7 629.9h0M816.9 640.2h0M817.3 650.3h0M820.7 659.4h0M814.9 668.3h0M817.5 679.6h0M818.6 689.6h0M819.2 701.1h0M822.6 711.5h0M816 720.6h0M815.3 729.5h0M818.1 739.3h0M820.4 750.6h0M820.2 759.7h0M823.2 769.8h0M821.9 781.1h0M818.6 790.1h0M820.2 800.9h0M816.9 810h0M635.3 59.3h0M642.6 69.4h0M658.8 79.2h0M641 90.7h0M641.6 100.2h0M636 109h0M623.1 119.5h0M626.2 129h0M644.2 139.5h0M680.6 150.1h0M733.1 161.1h0M743.6 171.2h0M744.3 180.7h0M764.5 189.3h0M803.1 200.3h0M777.9 209.2h0M802.8 218.4h0M804 229.5h0M819.8 240.2h0M827.3 250.8h0M825 260.1h0M828.5 270.4h0M831.8 280.3h0M828 289.6h0M829.3 299.4h0M820.3 309.6h0M817.6 318.4h0M814.5 327.6h0M812.4 338.7h0M822.6 349.8h0M817.5 360.7h0M817.2 371.7h0M820.9 380.3h0M823.2 391.3h0M825.9 402.2h0M822 411.7h0M814.5 421.8h0M826.1 430.3h0M826.1 441.3h0M816.6 450.9h0M824.2 462.3h0M818.9 473.2h0M824.4 482.7h0M819.4 491.8h0M821.6 503h0M816.4 513.8h0M820.3 523.6h0M821.8 535.1h0M822.1 546.2h0M817.8 555.1h0M821 566.1h0M819.4 576.8h0M817.4 585.3h0M815.2 594h0M818.9 603.6h0M818.3 612.9h0M822.3 621.7h0M822.5 631.6h0M820.8 642.7h0M822.9 652.2h0M820 660.9h0M818.2 671.6h0M818.4 682.3h0M818.9 692.8h0M821.2 704.2h0M819.2 715.5h0M818.3 725.3h0M623.9 56.1h0M615.4 66.1h0M621 75.9h0M615.1 86.7h0M606.2 95.9h0M608.8 105.6h0M606.3 115.3h0M614.3 123.9h0M622.2 132.6h0M654.5 142.6h0M669.5 153.9h0M668.7 163.4h0M671.6 173.8h0M727.7 182.8h0M725.4 194.2h0M753.7 203.6h0M764.2 212.6h0M784.8 221.6h0M798.9 231.1h0M811.4 242.4h0M824.5 251.6h0M816.6 261h0M818.7 269.9h0M819.4 280.9h0M810.1 290.7h0M808.8 301.5h0M805.4 312.3h0M808.9 322.1h0M813.1 331.8h0M813.4 341.8h0M814.8 352.9h0M814.9 361.9h0M812.4 371.3h0M816.6 381h0M811.6 392.2h0M814.6 401.3h0M810.3 410.9h0M821.9 421h0M818.5 429.9h0M817.6 439.5h0M817.1 449.2h0M819.7 459.1h0M820.8 470.3h0M814.5 481.5h0M817.2 492.1h0M819.5 503.5h0M815.7 513.7h0M819.5 524.3h0M821.1 534.7h0M816.4 545.1h0M823.6 555.6h0M822.9 566h0M820.1 575.4h0M818.1 585.8h0M823 594.6h0M814.9 605.1h0M815.3 616.6h0M815.3 626.7h0M822.6 635.9h0M819.7 645h0M816 654.1h0M818.8 662.7h0M818.6 673.3h0M822.3 681.9h0M820.7 691.6h0M816.2 700.8h0M821.6 709.5h0M819.1 720.2h0M817.5 729.5h0M820.1 739.9h0M823.3 750.1h0M631.2 55.5h0M630.6 65.5h0M620.7 74.9h0M628.6 83.7h0M628.5 95.2h0M640 105.9h0M633.7 116.6h0M635.9 126.8h0M634 137h0M628.4 148.2h0M663.4 158.5h0M668 167.6h0M687.6 176.7h0M723.4 186.1h0M748.9 197.3h0M784 206.7h0M795 217h0M824.9 226.5h0M811.8 236.6h0M826.4 245.2h0M824.6 254.1h0M818.7 264h0M819 274.5h0M816.7 284.9h0M811.8 295.7h0M818.1 304.2h0M818.7 314.3h0M820 323.3h0M823.6 333.2h0M816.9 342.9h0M819.7 353.2h0M817.3 362.1h0M814.9 371.7h0M814.1 382.7h0M817.2 391.6h0M817.1 401.7h0M818.7 410.5h0M816.4 421.3h0M820.1 431.6h0M814.7 442h0M823 452.2h0M818 460.8h0M819.5 470.9h0M820.2 481.5h0M820.5 490.6h0M824.1 500.6h0M816.4 510h0M820.3 518.9h0M815.4 530h0M814.3 541.5h0M822.9 552.9h0M821.4 564.1h0M820.6 574.2h0M817.6 583.5h0M821.4 592.6h0M816.9 603.7h0M816.2 614.6h0M818.8 623.6h0M817.4 634.8h0M815.8 644h0M821.6 653.2h0M817 662.5h0M821 672.7h0M818.7 682.8h0M819.4 691.7h0M818.8 701.1h0M817.9 710h0M816.7 718.9h0M822.1 728.8h0M823 739.8h0M816.9 751.1h0M819.2 759.9h0M821 770h0M822.5 780h0M822.6 789.8h0M820.5 800.1h0M823.6 811.5h0M656.1 61.3h0M658.4 71.4h0M658.9 82.4h0M659.3 93h0M658.4 102.7h0M645.5 113.1h0M648.5 123.2h0M640.9 133.8h0M704.6 145.1h0M753.2 156.2h0M759.6 164.8h0M774.4 174.1h0M789.3 183.1h0M810.5 192.4h0M823.1 202.9h0M812.9 213.2h0M817.9 224.3h0M819.8 233.1h0M828.8 243.9h0M842.9 254.5h0M837.4 265.2h0M844.3 274.9h0M838.8 285.6h0M837.2 294.5h0M822.2 303.2h0M833.2 312.4h0M831.7 321h0M827 330.7h0M825.8 340.8h0M823.9 349.7h0M823.9 359.6h0M827.4 370.5h0M829.4 379.1h0M831.6 390.2h0M833.5 399.8h0M832.8 410.7h0M820.3 421.2h0M821 430.6h0M816.3 440h0M821.4 449.7h0M819.7 459.9h0M819 469.1h0M823.7 478.3h0M821.1 487h0M821.6 496h0M815 505.4h0M842.5 515.7h0M851.7 524.3h0M844.7 533.2h0M814 541.9h0M858.4 551.5h0M858.1 560.1h0M858.1 571.2h0M858.6 582.1h0M858.8 590.8h0M858.2 601.6h0M858.8 611.6h0M858.1 620.4h0M858.5 630.5h0M858.1 640.9h0M858.4 651.3h0M858.6 660.2h0M858.3 669.9h0M858.4 681.3h0M858.8 690.2h0M858.2 700.1h0M858.7 711h0M858.2 720.9h0M858.5 731.4h0M633.8 60.2h0M641 70h0M632.6 80.3h0M635.6 88.9h0M631 98.2h0M622.7 108.1h0M624 118.6h0M633.8 129.5h0M632.2 140.7h0M699.8 149.5h0M705.2 159.8h0M734 168.4h0M746.9 179.1h0M791.5 190.1h0M791.2 200.1h0M784.5 210.1h0M804.5 219.4h0M815.1 228.5h0M811.3 237.5h0M817.8 247.5h0M819.5 257.1h0M835.2 268.3h0M836 278.4h0M839.7 288.6h0M831.4 299h0M826.1 308.2h0M821 318.9h0M818.2 329.5h0M822.4 340.3h0M816.6 351.1h0M823.4 362h0M820.7 372.4h0M823.5 382h0M827.5 392.8h0M823.6 402.8h0M825.7 411.4h0M821.2 421.8h0M820.2 430.3h0M819.5 439.6h0M823.8 450.5h0M814 459.9h0M821.7 470.3h0M820.2 480.1h0M820.8 490.3h0M825.4 501.7h0M818.7 511.4h0M818.5 521.7h0M816 532.6h0M821.7 543.5h0M818.3 552.3h0M819.2 562.7h0M815.1 572.2h0M814.9 583.6h0M820.6 593.8h0M820.5 603.3h0M816.6 613.7h0M815.9 623.8h0M819.4 634h0M816.6 645h0M817.9 654.3h0M818.3 663.8h0M817.6 674h0M821.3 684.2h0M821.9 693.9h0M816.4 702.9h0M816.7 712.1h0M815.5 722.6h0M819.6 732h0M821.8 740.5h0M820.6 749.9h0M821.8 761.1h0M817 770.2h0M816.5 779.6h0M821.8 789.3h0M626.9 57.6h0M631.8 66.3h0M630.7 75.3h0M623.8 85.5h0M620.3 95.1h0M621.6 105.7h0M612.7 114.7h0M618.2 125.2h0M618.4 134.6h0M676.7 145.5h0M671.6 155.3h0M703.5 165.7h0M686.8 175.3h0M726.7 185.4h0M742.7 195.3h0M762.4 204.4h0M774.3 214.9h0M789.5 223.8h0M798.5 233.5h0M808.3 242.4h0M816.2 251.2h0M831.4 262.4h0M823 271.9h0M822.5 281.5h0M820.4 290h0M812.1 300.3h0M813.1 311.1h0M815.7 320.7h0M812.3 330.9h0M814.1 341.4h0M812.2 351.3h0M816.8 360.9h0M823.8 369.5h0M820.3 380.3h0M822.8 390.9h0M814 400.3h0M812.4 411.4h0M814.5 421.4h0M821.4 430.7h0M816.6 440.2h0M823.4 451.2h0M822.9 461.1h0M815.9 470.8h0M820.7 480.6h0M814 491.9h0M822.6 502.7h0M815.9 512.1h0M818.3 523.1h0M821.5 533h0M815.7 542.9h0M823.3 552.2h0M818.8 563.5h0M817.1 573.7h0M817.8 583.8h0M820.3 592.8h0M816.1 601.7h0M820.6 612.6h0M816 623.6h0M817.2 633.3h0M821.8 642.1h0M819 653h0M819.1 663.4h0M822.1 672.7h0M820.6 684h0M820.9 692.8h0M815.5 703.6h0M822.8 712.2h0M816.7 723.2h0M816.6 732.9h0M631 59.4h0M642.5 69.9h0M644.2 79.5h0M644.6 88.2h0M658.1 97.6h0M646.9 108.5h0M653.5 118.7h0M660.6 127.5h0M648.8 136.1h0M708.4 145.6h0M727.3 155.8h0M716 167.2h0M749.5 177.6h0M762.1 188.5h0M792.4 198.7h0M818.5 208.4h0M812.8 218h0M815.8 229.3h0M834.2 240.5h0M825.1 251.9h0M832.2 260.5h0M824.9 271.3h0M829.9 280.8h0M828.1 290.3h0M826.4 299.8h0M828.3 309.9h0M833.2 321h0M830 330.6h0M828 339.1h0M822.5 349.3h0M814.1 359.6h0M817.1 369.7h0M823.5 378.3h0M828.4 386.9h0M828.7 395.6h0M827.1 405.8h0M829.7 417h0M822.1 427h0M818.4 437h0M822.4 445.9h0M824.3 455.6h0M820.4 466.9h0M824.4 476.2h0M840.1 486.6h0M820.9 496.1h0M818.8 505.4h0M813.7 516.2h0M842 525.5h0M819.4 534.6h0M820.4 545.9h0M857.5 554.8h0M857.4 566h0M857.6 576.2h0M858 587.2h0M857.8 598.1h0M857.7 608.3h0M858.1 618.1h0M857.6 627.4h0M857.5 636.1h0M857.7 645.2h0M857.5 653.9h0M857.7 665.3h0M858 675.3h0M857.7 686.2h0M858 697.5h0M857.5 707.5h0M857.7 717.8h0M857.9 727.7h0M857.7 736.4h0M652.3 54.8h0M637.5 65.8h0M652.3 74.9h0M639 85.6h0M643.2 96.7h0M649.5 106.6h0M652.2 116.8h0M663.1 125.4h0M656.9 134.2h0M693.8 144h0M725.5 153.8h0M708.9 163.1h0M736.6 174.3h0M742.8 185.7h0M791.3 196.5h0M811.2 206.3h0M810.9 216.3h0M834.2 226.1h0M838 236.8h0M838.2 246h0M844.2 254.8h0M839.9 264h0M827.3 273.4h0M826.2 283.6h0M821 294.3h0M828.9 303.4h0M819.9 313.2h0M826.9 324.4h0M832.8 333.7h0M832.5 343.5h0M831 354.3h0M822.4 363.3h0M820.4 373.6h0M821.3 383.9h0M822.2 393.6h0M829.8 403.7h0M826.6 414.2h0M819.2 425.3h0M825 434.9h0M817.8 443.7h0M813.2 453.3h0M817.9 463.5h0M814.6 474.8h0M842.6 486.3h0M824 496.6h0M844.3 506.3h0M849.8 517.6h0M848.3 528.3h0M823.7 538.9h0M858.2 548.8h0M857.8 559.6h0M857.6 568.9h0M857.7 578.5h0M857.9 588.3h0M858.1 598.7h0M857.8 607.8h0M858 618.9h0M858.3 627.5h0M857.6 636.2h0M857.8 645.7h0M858.3 656.6h0M858.1 666.5h0M857.6 677.9h0M857.7 688.8h0M857.7 699.2h0M857.7 710h0M857.9 720.4h0M857.7 730.5h0M631.9 54.8h0M633 64.6h0M633.3 74h0M619.8 84h0M619 94.6h0M624.9 105h0M614.8 113.9h0M611.8 123.8h0M619.2 134.9h0M649.8 145.1h0M686.8 154.8h0M710.1 164.2h0M704.8 174.4h0M719.1 184h0M762.6 195.2h0M765.3 205h0M786.6 216.3h0M792.6 227.4h0M809.1 236.9h0M809.6 246.1h0M813.7 256.2h0M824.1 267.6h0M825.1 276.1h0M820.7 285.1h0M815.5 296.1h0M807.7 307.5h0M816.3 318.5h0M814.1 329.2h0M810.5 339h0M810.1 349.9h0M810.4 359.7h0M815 369.8h0M820.3 380.8h0M816.6 391.6h0M820.3 401.3h0M815.7 411.1h0M815.2 420.8h0M826 430.1h0M824.8 440.7h0M813.8 451.3h0M822.6 461.4h0M814.6 470.3h0M818.6 481h0M817.6 490.6h0M821.5 501.1h0M821.5 509.8h0M815 519.8h0M819.2 529.6h0M821.4 538.7h0M815.2 548.2h0M822.5 559.6h0M821.5 569.9h0M821.2 580.7h0M815.6 590.5h0M816.7 599.9h0M819.9 611.3h0M820.4 621.1h0M818.5 630.6h0M815.1 641h0M817.7 651.1h0M820.9 659.6h0M822 671h0M818.4 682.5h0M821.8 692.2h0M818.5 701h0M819.2 710.3h0M821.1 719.9h0M823.1 730.6h0M645 57.3h0M639.1 66.9h0M633.1 77.2h0M631.4 86.2h0M635.9 95h0M638.2 106.4h0M632.2 116.2h0M643 127.3h0M653.4 136.8h0M696.3 147.7h0M740.2 157.3h0M704.4 168h0M730.8 178.7h0M780.3 188.8h0M768.1 198.7h0M790.5 208.2h0M817.2 219.1h0M827.3 230.3h0M840.3 239.8h0M843.4 250.6h0M836.9 261.9h0M835.8 272.8h0M816.9 283.6h0M820.5 293.8h0M821.1 302.5h0M824.5 312.1h0M824.9 321.7h0M824.3 333.1h0M825.6 341.6h0M825.5 351.8h0M828.6 362.7h0M822.1 373.8h0M822.4 385.2h0M820.4 393.8h0M819 403.8h0M828.3 414h0M825.7 425.4h0M824 434.3h0M815.2 443.3h0M816.3 452.1h0M822 461h0M821.6 470.2h0M820 478.9h0M819.9 490.3h0M820.2 500.8h0M851.3 510.9h0M842 521.5h0M842.2 532.8h0M822.9 542h0M857.9 552.5h0M857.3 563.1h0M857.9 573.9h0M857.3 582.7h0M857.7 593.1h0M857.2 602.7h0M857.3 613.9h0M857.5 625.3h0M857.8 635.6h0M858 645.2h0M857.6 655.3h0M631.1 57.6h0M618.5 67.8h0M633.4 78.4h0M618.9 87.9h0M627.8 99h0M629.4 108.3h0M635.6 119.5h0M620.1 130.5h0M647.4 140.3h0M669.7 149.3h0M710.1 160.3h0M699.9 171.1h0M689.4 180.5h0M696.6 190.3h0M760.8 201.8h0M792.5 212.3h0M790.8 221.2h0M802.1 230.6h0M820.2 240h0M830.4 248.9h0M821.3 260.2h0M826.8 271h0M818 280h0M813 291.2h0M814.2 301.2h0M817.3 311.7h0M819.6 322.3h0M813.6 332.7h0M815.6 343.2h0M820.6 353.3h0M821.7 364.4h0M812.8 374.8h0M812.8 385.7h0M814.8 397.2h0M812.8 406.2h0M811 417.5h0M827.3 427.5h0M821.5 439h0M826 450.2h0M825.1 460h0M814.7 469.6h0M812.7 480.3h0M821.5 490.9h0M819.5 500.9h0M823.8 509.5h0M813.9 520.6h0M822.4 531h0M816.9 541.6h0M815.1 552.5h0M816.8 563.8h0M821.8 573.2h0M817.2 582.2h0M820.9 591.6h0M816.2 602.3h0M822.9 613.4h0M816.9 623.4h0M821.5 632.2h0M815.3 643.4h0M821 652.6h0M815 662.9h0M817 673.4h0M820.5 684.2h0M820.5 694.2h0M822.1 703.6h0M816.7 712.8h0M819.8 722.6h0M816.5 731.6h0M820.3 741.7h0M819.9 750.8h0M821.1 759.7h0M822 771.2h0M818.1 782.6h0M823 791.2h0M823.4 801.1h0M821 810.8h0M620.5 57.3h0M612.6 66.3h0M616.5 76.3h0M609.9 85.2h0M606.2 96.7h0M620.9 106.1h0M616.5 115.8h0M622.5 127.2h0M620.3 137h0M643.5 148.5h0M665.5 158.4h0M710.8 169h0M672.6 178.4h0M723.7 189.8h0M750.5 201h0M757.8 211h0M793.5 220.2h0M801 231.7h0M809.3 242.8h0M815.2 252.1h0M820.7 262.1h0M817.7 272.2h0M814.1 282.1h0M807.1 291h0M805.4 299.7h0M805.2 309h0M814.5 318.5h0M808.1 327.8h0M809.8 337.4h0M816.5 348h0M816.5 358.9h0M814.4 367.6h0M810.7 378.2h0M811.2 388.9h0M810.4 400.4h0M810.4 411.5h0M819.8 421.3h0M814.3 430.9h0M814.5 441.8h0M824.5 452.6h0M821.9 463.8h0M816.3 472.8h0M814.1 482.6h0M824.4 492.5h0M817.5 502h0M813.8 511.7h0M813.4 521.9h0M817.6 531.1h0M817.6 542h0M814.1 550.6h0M822.3 560h0M819.1 569.7h0M823.3 581.2h0M815.5 592.7h0M815 602.3h0M816.5 612h0M821.4 623.5h0M816.8 633.8h0M821 645h0M823 654.6h0M818.5 663.7h0M819.7 673.4h0M820.3 682.7h0M821.9 693.5h0M820.8 703.1h0M820 714h0M819.7 724.5h0M818.2 735.2h0M820.8 746.3h0M820.6 756.5h0M821.9 765.7h0M822.2 775.5h0M823.4 786.9h0M817.8 797.8h0M820.6 808.4h0M630.7 58.8h0M632.7 68.6h0M633.8 77.6h0M641.2 88.9h0M658.8 99.2h0M625.4 110.6h0M632.6 120.8h0M630.2 131.4h0M647.1 141.9h0M684.4 152.1h0M680.3 163.3h0M686.8 172h0M715.7 182.1h0M745.3 192.1h0M775.6 201.7h0M775.8 211.1h0M781.5 220.8h0M771.4 229.3h0M775.8 238.6h0M779.5 249.5h0M783.7 260.7h0M796.5 270.6h0M806.2 279.7h0M820.6 289.4h0M823.3 299.1h0M825.4 308.6h0M814.2 319.9h0M820.3 330.9h0M813.8 339.8h0M815.5 350.2h0M814.2 360.8h0M814 369.8h0M815.9 378.9h0M821.8 390.3h0M822.2 399.4h0M828.3 408.8h0M822.4 418h0M820.3 428.1h0M814.6 437.9h0M815.8 446.7h0M821.5 455.8h0M821.8 466.7h0M813 475.4h0M813.2 486.3h0M821 495.9h0M814.2 504.4h0M820.8 513.3h0M819.4 522.4h0M818.3 531.1h0M820.9 540.4h0M818.6 549.3h0M823.8 559.8h0M821 569.2h0M819.7 579.4h0M817.4 589.3h0M818.9 599.6h0M815.9 608.8h0M823 617.3h0M821.9 627.4h0M820.6 638.1h0M821 647.5h0M815.8 656.9h0M643.3 60.7h0M647.6 71.5h0M645.3 80.5h0M650.5 90.8h0M659.9 101.8h0M660.6 111.7h0M662.2 121.5h0M643.6 131.1h0M674.3 141.5h0M719.3 151.2h0M730.7 162.1h0M744 172.3h0M777.4 183.1h0M788.3 193.6h0M796.8 203.2h0M822.9 214.5h0M828.9 225.9h0M832.4 236.5h0M841.4 245.7h0M842.6 257.1h0M842.8 267.8h0M828.5 276.8h0M834.8 286h0M822.4 294.9h0M833.6 303.5h0M833.8 312.3h0M833.5 321.6h0M828.7 331.7h0M833 341.4h0M831 350.2h0M823.2 360.2h0M827.1 371h0M824.8 380.5h0M822.8 390.3h0M823.5 399.7h0M823.6 409.3h0M831.6 418.8h0M819.7 427.5h0M826.4 436.8h0M825.6 446.9h0M823.3 457.6h0M817.9 469h0M850.9 477.7h0M845.8 487h0M815.6 498.1h0M822.5 508.1h0M823.5 517.5h0M821.4 526.4h0M844.9 536.5h0M822.9 546.5h0M857.9 557.1h0M857.9 566.1h0M858.4 575.4h0M858.5 585.3h0M858.3 594.1h0M858.2 605.2h0M858.3 615.8h0M858.2 625.2h0M858.1 635.6h0M858.3 644.1h0M858.2 654.5h0M858.1 663.5h0M857.9 673h0M858.2 682.3h0M857.9 691.7h0M857.9 701.5h0M858.5 710.6h0M858.4 720.4h0M858.4 731.8h0M655.5 59.7h0M658.2 68.9h0M658.7 78.5h0M648.5 88.9h0M635.6 99.9h0M653.4 110.2h0M650.2 119.6h0M644.7 130.7h0M696.1 142h0M744.5 152.7h0M749.6 162h0M772.2 171.6h0M785.3 182h0M797 191.8h0M800.6 201h0M812.6 211.1h0M814.4 222.5h0M826.8 231.7h0M833.3 242.6h0M841.4 253.4h0M847.1 262.1h0M839.5 270.7h0M832 280.6h0M836 289.9h0M831 301.2h0M820.6 309.9h0M822.9 321h0M824.8 332.4h0M822.9 342.1h0M825.9 350.9h0M830.7 361.7h0M827 370.5h0M826.4 379.9h0M830.5 390h0M829.1 399.7h0M828.1 409.6h0M823.9 419.7h0M825.4 430.3h0M814.1 441.4h0M819.5 451.2h0M823.2 462.5h0M813.5 471.3h0M839.7 481.3h0M851.1 490.6h0M849.8 500.9h0M823 510h0M852.3 521.4h0M817.4 530.2h0M854.8 539.7h0M858.5 549.4h0M858.3 559.1h0M858.5 568.9h0M858.7 578.7h0M858.3 588.9h0M858.4 597.5h0M858.2 606.2h0M858.3 617.4h0M858.1 627.3h0M858.2 637.1h0M858.6 645.9h0M858.4 656.3h0M858.5 665h0M858.1 675.3h0M858.3 683.9h0M858.6 693.1h0M858.5 702.9h0M858.1 712.8h0M857.9 722.8h0M858.2 732.5h0M656.2 61.5h0M641.3 70.7h0M643 80.1h0M636.5 89.8h0M627.1 100.4h0M625.1 111h0M631.9 120.1h0M639.5 129.9h0M645.6 138.9h0M726.7 149.6h0M695.5 159.2h0M729.2 168.2h0M792.1 178h0M760.1 188.4h0M777.5 197h0M795.5 207.6h0M800.6 217.2h0M821.2 226.8h0M825.1 235.6h0M829.7 244.7h0M831.2 253.6h0M830.2 262.2h0M840.6 272h0M833.4 282.8h0M827.9 291.7h0M826.4 300.4h0M828.2 309.1h0M826.9 318.6h0M826.5 330h0M832.2 338.8h0M832.6 349.6h0M832.1 360.6h0M829.3 369.5h0M826.5 379h0M826.3 389.5h0M827.1 400.7h0M825.8 410.3h0M825.9 420.7h0M816.7 430.7h0M821.7 441.6h0M814.5 452.7h0M821.1 463.6h0M814.9 473.6h0M819.7 483h0M815.2 492.4h0M819 503.3h0M817.6 512.5h0M813.6 522.9h0M821.4 533h0M822.7 543.5h0M813.9 553.4h0M817.7 563.5h0M821.9 573.7h0M815.5 584h0M818.1 593.5h0M817.2 603.5h0M822 614.7h0M822.3 623.8h0M816.1 635.3h0M820.9 644.5h0M822 654.4h0M821.7 665.9h0M822.4 675.8h0M817.4 684.9h0M821.9 694h0M645.3 59.3h0M656.4 69.7h0M653.7 80.7h0M659.4 91.4h0M659.9 101.9h0M651 112.5h0M634.8 121.6h0M642.3 131.2h0M661.5 141.7h0M708 152.7h0M738 162.1h0M757.5 173.4h0M751.7 183.1h0M788.2 193.6h0M817.8 204.9h0M820.8 215h0M824.9 224.3h0M828.3 233.8h0M826.1 242.9h0M820.8 253.4h0M833.5 262h0M826.4 271.9h0M828.1 282.7h0M830.3 292.9h0M830.9 302.4h0M827.9 313.6h0M828.4 322.4h0M822.8 331.8h0M825.5 343h0M817.7 352.1h0M822 363.2h0M821.9 373.5h0M824.5 382.6h0M825.4 391.9h0M829.5 401.5h0M823.3 411h0M818.7 420.6h0M814.7 431.5h0M823.9 442.7h0M815.3 451.6h0M825.9 461.7h0M854.6 471.5h0M843 481.5h0M819.5 491.4h0M820.2 500.1h0M818.7 509h0M818.9 520.1h0M841.9 530.4h0M815.2 541.5h0M857.5 550.9h0M857.9 560.5h0M857.7 571.4h0M857.6 582.4h0M858 591.4h0M857.9 600.7h0M857.8 611.6h0M858.1 622.7h0M857.9 632.5h0M857.8 643.5h0M857.9 653.5h0M857.7 662.4h0M857.9 673.7h0M857.9 684.1h0M857.7 694.5h0M857.7 704.2h0M857.7 712.7h0M858.2 722.8h0M857.8 732.8h0M630.3 60.7h0M621.6 71.6h0M627.1 82.9h0M623.9 92.6h0M621.6 103.8h0M635 112.8h0M624.6 123.7h0M639.5 134.5h0M663.9 143.7h0M714.5 153.3h0M730.5 163.6h0M715.9 174.2h0M734.9 183.3h0M744 192.6h0M770.4 203.7h0M791.7 214.3h0M804.7 223.6h0M799.4 233.5h0M820.9 244.4h0M826.7 255.7h0M826.8 266h0M826.5 275.3h0M815.7 286.5h0M814.5 297.6h0M811.9 308.3h0M811.4 319.8h0M818.1 328.8h0M822.9 339.2h0M819.1 348.8h0M816.4 359.1h0M822.2 370.3h0M820.1 379.9h0M818 390.3h0M813.9 400.5h0M811.9 411.8h0M822.6 422.4h0M825.9 433.9h0M826.2 444.5h0M825.4 453.5h0M820.6 464.3h0M813.2 473h0M823.2 484.3h0M823.6 495.1h0M820.8 505.7h0M818.7 515.2h0M820 526.1h0M817.9 535.7h0M816.1 545.6h0M817.1 555.6h0M822.7 564.7h0M821.2 573.6h0M816.6 584.7h0M817.6 593.2h0M823 603.8h0M816.2 614h0M818.1 622.8h0M815.3 632h0M818.3 643.2h0M820.5 654h0M822.8 665h0M821.7 675h0M821.7 686.2h0M817.4 695.9h0M815.7 704.9h0M817.8 716.3h0M815.6 727h0M816.3 735.8h0M817.7 745.1h0M821.5 756.5h0M819.7 767h0M817.4 775.8h0M822.1 785h0M817.8 796.3h0M823.5 806.1h0M622.7 55.3h0M611.7 64.9h0M631.8 74.1h0M611.7 85h0M614.2 94.9h0M628.7 104.4h0M615.9 113.7h0M608.8 124.6h0M612.4 135.1h0M635.6 146.4h0M674.7 156.2h0M678.5 166.9h0M719 176.4h0M715.8 185h0M749.8 193.9h0M785.1 203.2h0M784.6 214.3h0M795.6 225.3h0M803.7 234.5h0M819.3 244.1h0M807.2 254h0M824 264.8h0M837.6 274.6h0M830.6 283.7h0M834.2 292.5h0M822.7 304h0M824.2 314h0M816.5 324.5h0M823.1 335.5h0M819.6 344.7h0M816 353.8h0M819.5 362.9h0M814.7 373.4h0M820.4 382.1h0M820.7 391.3h0M820.5 400.5h0M821.2 410.1h0M826.2 421.5h0M820.3 432.5h0M822.8 442h0M822.1 453.1h0M821.2 463.1h0M820.3 474.4h0M814.9 483.7h0M823.2 493.5h0M819.3 502.3h0M822.5 510.8h0M823.6 522h0M815.7 531.1h0M814.3 542.4h0M822.4 551.6h0M814 561.5h0M816.7 571h0M820.1 580.1h0M820 590.3h0M822.8 599.3h0M821.3 608.2h0M817.6 617.5h0M816.8 627.4h0M820.1 636.5h0M815.6 646.7h0M818.3 657.9h0M817.2 668h0M821 678.8h0M820 687.7h0M820.3 697.3h0M818.3 706.6h0M820.4 715.5h0M817.5 726.9h0M818.8 736.8h0M819 747h0M820.9 757h0M823 767.6h0M820.5 778.8h0M821.3 787.9h0M822.8 796.9h0M817.5 807.4h0M625.7 57.7h0M631.4 67.5h0M635.7 78.9h0M613.4 90.3h0M621 101.3h0M614.6 112.3h0M631.7 122.3h0M621.8 131.5h0M623.9 140.5h0M648.8 149.4h0M691.3 158.3h0M704.1 169.4h0M752.4 180.7h0M738.4 192.2h0M766.3 202h0M778.7 210.6h0M779.4 219.1h0M798.6 228.7h0M810.8 238.6h0M826.4 247.4h0M823.4 257h0M826 268.4h0M821.3 278.6h0M823.1 288.8h0M821.9 297.9h0M815.5 308.7h0M815.7 318.2h0M813.4 327.8h0M810 338h0M812.9 346.6h0M819.5 355.9h0M820.4 365.9h0M824.6 374.9h0M819.3 385h0M818.6 395.6h0M816.2 404.7h0M814.1 414.3h0M823.4 423h0M818.7 434.1h0M826.5 444.9h0M825.6 454.9h0M821.4 463.7h0M820.8 474.8h0M814 485.9h0M819 496.2h0M817.3 506.7h0M822.4 516.3h0M816.3 527.2h0M821.8 535.7h0M814.3 546.3h0M819.3 556.8h0M817.7 565.7h0M821.3 575.1h0M823.4 584.1h0M819 594.6h0M817.7 603.4h0M814 612.3h0M820 621.3h0M819.4 630.8h0M814.3 640.5h0M816.1 650.6h0M821.6 659.3h0M818.7 669.1h0M819.7 679h0M820.6 689.4h0M815.1 698.6h0M819.7 709.2h0M818.7 719.4h0M820 730.9h0M821.1 739.8h0M820.9 748.9h0M820.8 757.8h0M820.3 766.7h0M822.3 778h0M820.7 786.7h0M818 795.8h0M820.6 805.2h0M654.9 57.8h0M658.2 67.1h0M651.7 78.2h0M649.6 86.8h0M644 97h0M642 107.5h0M644.3 117.2h0M635.2 127.4h0M652.6 136.6h0M703.2 145.4h0M755.5 154.9h0M763.4 164.8h0M770.2 173.8h0M797.4 182.6h0M788 192.9h0M804.6 201.4h0M810.9 212.6h0M818.8 223.9h0M826.9 234.7h0M829.3 243.9h0M830.9 253.7h0M838.9 263.5h0M839.5 274.9h0M836.6 284h0M831.6 293.3h0M834.5 304.4h0M825.7 313h0M825.8 322.5h0M823.3 333.4h0M824.1 342.7h0M826.5 351.9h0M826.2 360.4h0M826.5 370.8h0M829.9 379.7h0M833 389.4h0M826 399h0M828.6 408.9h0M825.7 417.6h0M813.5 428.5h0M822.3 440h0M823.2 449h0M817.1 460.1h0M820.8 471.1h0M844.9 481.8h0M852.8 493.2h0M824.3 503.4h0M814 512.4h0M815.9 521.8h0M819.8 531.3h0M853.1 540h0M858.3 550.5h0M857.7 559.8h0M858.4 569.8h0M858.3 579.4h0M857.7 588.8h0M857.6 597.6h0M858 607.7h0M857.9 616.8h0M858.1 628h0M857.7 638.6h0M857.8 648.7h0M857.7 657.8h0M858 667.6h0M857.8 677.1h0M858.3 686.6h0M857.8 697.5h0M857.7 708.9h0M857.7 719.4h0M857.7 729.3h0M625.1 61.5h0M621.1 70.8h0M642.2 80.3h0M629.7 90.6h0M648.2 100.5h0M654.3 110.1h0M654.6 119.8h0M633.5 130h0M665.6 140.6h0M709.4 149.4h0M705.2 159.6h0M706.2 168.9h0M721.7 179h0M749.9 187.8h0M763 196.9h0M777.3 205.7h0M775.4 216.2h0M778 227.1h0M789.4 236.8h0M791 245.8h0M797.4 255.2h0M806.8 264.6h0M815.1 273.4h0M810.8 283.5h0M819.8 292.9h0M821.6 303.5h0M826.8 312.9h0M824.8 322.3h0M821.5 333.2h0M822.5 343h0M820.8 353.8h0M821.7 363.6h0M818 373.7h0M816.2 385.1h0M825.4 394.7h0M820.4 405.3h0M823.1 415.1h0M815 424.4h0M814 434h0M819.4 444.3h0M816.8 453.5h0M826.4 463.2h0M820.6 473.3h0M824.8 484h0M820.5 493.4h0M839.4 502.6h0M853.4 513.1h0M842.6 522.6h0M818.4 532.1h0M818.4 541.6h0M857.4 552.6h0M857 562.5h0M857.6 573.1h0M857.7 582h0M857.4 591.2h0M857 599.8h0M857.5 611.2h0M857 620.9h0M857.6 630.9h0M857.5 641.6h0M857.1 651h0M857.3 659.6h0M857.1 669h0M857.5 678.1h0M857.4 687.4h0M856.9 697.1h0M857.3 707.1h0M857.1 717.5h0M857.1 728h0M622.6 56.8h0M619.8 67.8h0M614.6 78.8h0M626.3 88.8h0M618.7 98.2h0M625.2 107.3h0M630 118.4h0M640.9 128.6h0M640.5 138.9h0M652.6 148.7h0M687.8 158.8h0M649.3 168.2h0M698.4 178.8h0M688 189.7h0M737.7 199h0M759.3 210.2h0M772.9 220.8h0M788.5 231.1h0M797.9 241.5h0M804.2 252.5h0M808 263.2h0M802.1 274.6h0M805.9 284.5h0M809.6 295.7h0M808.2 305.4h0M811.1 315.4h0M813 324.3h0M812.5 335.6h0M820.7 345.5h0M818 356h0M817.3 366h0M818.8 377.5h0M812.8 388.3h0M809.4 397.4h0M810 407.4h0M811.1 418.5h0M818.8 429.7h0M814.7 439.9h0M824.2 449h0M816.1 458.7h0M822.6 467.8h0M822.8 478.6h0M817.1 489.4h0M813.7 499.6h0M817.7 509.5h0M823.4 520.7h0M815.5 531.4h0M815.4 541.6h0M816.8 552.1h0M815.6 563.3h0M816 572.6h0M814.4 581.7h0M818.5 592.7h0M818.4 603h0M816.8 611.9h0M817.5 621.4h0M815.6 630.9h0M819.6 641.5h0M819 652.3h0M816.6 661.2h0M815.7 669.9h0M816.4 678.8h0M820.1 687.7h0M819.8 699.1h0M816.4 709.2h0M821.4 719.6h0M820.3 728.5h0M816.4 738.6h0M816.7 749h0M822.5 758h0M821.6 766.8h0M820.5 777.3h0M818.8 787.1h0M818.8 797.4h0M817.2 806.6h0M640.6 57.9h0M638.6 67.1h0M648.7 76.3h0M639.7 85.5h0M649.5 95.2h0M642.4 106.3h0M636.2 117.6h0M635.1 128.2h0M641.9 137.3h0M700.1 148.7h0M685.3 158.7h0M726.7 168.6h0M734.9 179.4h0M789.7 187.9h0M799.7 198.2h0M814 208.5h0M809.9 218h0M819.7 227.2h0M818.6 236h0M814.8 244.7h0M818.7 253.7h0M831.7 263.6h0M825.9 274.7h0M834.5 285.6h0M829.7 295.6h0M831.4 305.2h0M828.2 315h0M830.3 325.8h0M822.2 334.7h0M819.9 344.8h0M816.3 355.3h0M818.4 366.7h0M822.1 377.4h0M824.1 388.9h0M826.6 398.3h0M826.8 409.8h0M828 419.9h0M815 430.8h0M825.3 439.6h0M817.7 449.2h0M813.9 459.1h0M823 469.8h0M847.7 480.7h0M815.2 489.2h0M815.4 500h0M851.1 510.5h0M824.8 520h0M821.1 529.6h0M815.5 538.4h0M857.3 549.4h0M857.3 560.8h0M857.3 569.4h0M857.1 579.3h0M857.1 588.8h0M857.4 598.6h0M857.4 610h0M857.5 620.2h0M857.7 629.5h0M857.5 639.5h0M857.1 648.3h0M857.5 657.1h0M857.6 667.8h0M857.4 677.9h0M857.8 687.4h0M857.2 696.2h0M857.2 706.4h0M857.3 717.8h0M857.6 727.8h0M857.7 736.8h0M609 55.3h0M616.5 64.2h0M606.8 74.3h0M609.1 85.4h0M624.3 95.1h0M620.3 105.9h0M614.8 114.7h0M611.8 125h0M607.4 136.4h0M611.7 146.2h0M622.2 155.2h0M649.5 164.8h0M653.2 174.8h0M702.4 184.5h0M755.5 194.6h0M761.8 204.9h0M789 215.5h0M795.7 224.9h0M790.5 236.3h0M799.5 246.5h0M804.5 256.5h0M813.4 266.8h0M815.5 276.3h0M816.6 285.5h0M812 296.3h0M806.2 306.7h0M807.4 316.4h0M815.2 325.1h0M809.4 335.4h0M809.8 344.5h0M810.2 353.1h0M810.4 362.5h0M810.4 371h0M810.3 379.6h0M811.5 390.7h0M810.5 401.9h0M811.9 410.5h0M812.7 421.1h0M816.5 432h0M824.5 440.7h0M821.9 450.1h0M825.8 461.2h0M816.9 472.4h0M817.6 481.5h0M824.5 490.2h0M822.9 499.6h0M818 509.4h0M823.8 519.8h0M816.6 530.5h0M818.2 539.9h0M814.2 551h0M822.1 560.6h0M819.6 571.9h0M816.6 581.3h0M814.8 590.8h0M815.7 601.3h0M816.5 610h0M817 619.3h0M819.4 629.6h0M821.3 639.7h0M819.8 649h0M822 659h0M633.3 60.7h0M629 71h0M629.7 80.5h0M625.6 89.2h0M636.6 98.6h0M641.2 108.6h0M639.6 119.2h0M640.5 130.1h0M648.7 141.6h0M713.3 152.3h0M677.1 162h0M686.1 171.4h0M718.3 181.7h0M757.3 191.2h0M795.8 200.8h0M813.9 210.6h0M818.6 219.1h0M832.5 230.1h0M825.8 240.9h0M826.1 251.7h0M825.5 261.8h0M830.6 271.5h0M836.7 281.9h0M832.9 292.5h0M825.5 303.3h0M831.2 312.3h0M822.9 322.5h0M827.7 333.1h0M827.5 344h0M822 354.7h0M820 365.5h0M816.6 375.5h0M816.6 386.9h0M818.5 397.7h0M825.7 408.5h0M833.3 417.5h0M824.9 426.2h0M820.7 435.9h0M814.1 445.2h0M813.5 454.7h0M818.3 463.5h0M813.7 474.8h0M819.8 484.3h0M818.3 494.5h0M824 505.7h0M821.7 515.8h0M816 525.4h0M814.9 534.7h0M817.4 545.4h0M821.7 554.9h0M820.2 564.9h0M816.7 574.9h0M820.5 586h0M823.6 597.4h0M817.6 606.3h0M817.8 615.6h0M817.5 625.4h0M820.8 636h0M818.2 646.7h0M817.1 656.8h0M820.2 667.3h0M819.3 677.8h0M820.4 687.1h0M820.9 698.2h0M643.6 60h0M655.5 71.1h0M644.6 81.8h0M655.9 93.1h0M641.3 103.6h0M633.6 113.7h0M635.2 122.8h0M630 133.9h0M650.4 144.2h0M702.8 152.9h0M725.7 164h0M743 174.2h0M802.2 184.4h0M804.4 194.4h0M799.7 205.8h0M798.6 214.6h0M813 225.6h0M811.6 235.9h0M818.7 244.5h0M813.3 254.7h0M838.7 264.3h0M831.6 273h0M831.5 281.9h0M836.5 291.9h0M831.6 301.3h0M828.5 311.7h0M823 320.6h0M817.2 330.7h0M823.2 340.3h0M810.1 349.2h0M821.5 360.5h0M825.2 371.6h0M822.3 381.5h0M825.1 391.4h0M831.1 400.2h0M824.3 410.7h0M827.2 420h0M823.7 431.4h0M814 440.5h0M826.5 452h0M825.6 461.2h0M823.6 470.5h0M844.9 479.1h0M822.4 489.7h0M820.2 499.6h0M817 508.8h0M820.5 519.3h0M821.9 530.6h0M821.1 541.8h0M857.5 550.8h0M857.1 559.4h0M857.9 569.4h0M857.6 580.1h0M857.8 590.8h0M857.5 601.1h0M857.2 611.5h0M857.5 622.3h0M857.3 633.4h0M857.9 644.7h0M857.7 654.2h0M857.3 664.6h0M857.6 673.9h0M857.6 683.9h0M857.3 693.1h0M857.5 702.2h0M857.3 711.3h0M857.9 722.1h0M857.4 732.5h0M650.7 59.4h0M658.3 70.7h0M658.8 80.6h0M658.1 89.7h0M655.8 99.9h0M654.2 111.1h0M653.5 122.4h0M644.1 133.6h0M685.4 143.5h0M751.2 154h0M743.4 163.4h0M765.7 172.4h0M783.6 181.8h0M809.6 191.6h0M818 202.7h0M806.1 212.4h0M825.3 223.6h0M814.5 234.4h0M819.7 245.6h0M835 255.1h0M836.4 266.5h0M842 276.4h0M830.6 286.1h0M836.5 295.1h0M834.4 304h0M833.3 314.7h0M831.1 326.1h0M827.1 334.8h0M827.1 346h0M822.6 356.7h0M826.9 368.2h0M828.8 378.9h0M826.8 389.4h0M830.4 400.2h0M832 411.2h0M817.6 422h0M815.3 433h0M814.2 443.8h0M818.8 452.9h0M817.2 463.3h0M820.8 472.4h0M846.8 483.7h0M842.9 494.2h0M815.2 504.3h0M824.1 514.6h0M848.6 524.5h0M821.8 534.6h0M855.5 545.4h0M858.5 554.1h0M858 564.3h0M858.3 573.4h0M858.6 582.4h0M858.5 592.6h0M858.4 604h0M857.9 614.1h0M857.9 624.8h0M858.2 634.7h0M858.5 645.5h0M858.1 655.3h0M858.2 664h0M858.3 672.9h0M858.1 682.4h0M857.9 693.1h0M643 60.6h0M646.4 69.3h0M645.3 80.1h0M628.2 89.5h0M640.3 98.3h0M627.8 108.2h0M647.7 117.7h0M647.3 128.8h0M664.4 139.6h0M684.7 149.5h0M749.8 160.9h0M724.7 171.3h0M729.7 180.5h0M739.4 190.8h0M790.7 199.5h0M795.9 208.9h0M810.9 218.4h0M817.2 228.9h0M821.5 240.1h0M837.8 251.5h0M843.3 261.1h0M832.8 272.5h0M837.8 282.6h0M828.5 291.2h0M825.7 301.1h0M814.1 310.6h0M821.4 320.9h0M817.1 330.3h0M822 341.5h0M822.9 352.9h0M826.8 364.2h0M823.1 374h0M823.5 383.2h0M821.9 391.9h0M821.1 402.7h0M823.7 414h0M826.3 424.1h0M816.9 433.7h0M815 445h0M816 454.9h0M822.7 465.1h0M849.4 474.2h0M815.8 483.7h0M848.3 494.7h0M815.4 505.1h0M848.4 514.8h0M846.3 525.3h0M855.7 535.4h0M815.4 544.1h0M857.3 553.7h0M857.5 564.7h0M857.7 575.5h0M857.5 584.5h0M857.2 594.5h0M857.1 605.9h0M857.5 614.6h0M857.7 623.3h0M857.7 632.1h0M857.7 642.5h0M857 652.2h0M857.6 661.5h0M857.4 671.1h0M857.2 682.5h0M857.7 693.7h0M857.3 702.9h0M857.1 712.4h0M857.3 723.3h0M857.3 734.1h0M842.1 195.5h0M852.4 203.1h0M814.3 179.3h0M852.4 203.3h0M853.3 233.4h0M862.9 276.4h0M856.2 311.3h0M866.2 390.4h0M773.3 303.1h0M770.4 270.6h0M785.4 282.4h0M796.1 316.9h0M724.4 236.1h0M800.5 406.2h0M854.4 423.4h0M708 194.7h0M757.9 219.1h0M707.6 182h0M786.3 242.9h0M688.7 177.4h0M670.6 170.2h0M747.2 206.7h0M691.1 183.6h0M755.4 237.1h0M711.8 186.4h0M687.2 195h0M727.5 228.2h0M737.3 211.3h0M761 255.2h0M769.8 271.1h0M750.6 214.7h0M745.9 230.8h0M726.3 229.3h0M721 216.6h0M724.5 227.1h0M760 239.6h0M785.4 259.9h0M788.6 256.2h0M714.5 190.8h0M744 227.6h0M770.4 235.5h0M723.6 195h0M704.7 207.5h0M722.5 226.3h0M730 225.3h0M714.8 221.7h0M789.8 254.3h0M771.2 267.7h0M771.9 245.3h0M777.4 253.4h0M731.2 203.7h0M730.2 205.4h0M751.5 231.5h0M697.6 196.7h0M749.3 236.5h0M689.4 178.3h0M767.6 234.3h0M701.2 199.8h0M705.6 215.6h0M717.4 195.3h0M857.9 279.8h0M831.3 219.1h0M853.5 249.9h0M849.6 293.9h0M854.4 294.1h0M837.7 234.1h0M856.2 265.7h0M846.1 234.1h0M852.6 294h0M859.3 287.6h0M851.9 254.9h0M845.1 298.1h0M826.8 210.7h0M841.5 243.4h0M842.3 218.7h0M854.7 310.8h0M851.6 311.3h0M860 310.1h0M855.5 282.8h0M845.6 252.6h0M850.7 265.7h0M864.2 303.6h0M842.8 239.9h0M841.2 214.2h0M843.5 219.7h0M611.4 143.3h0M629 129.5h0M657.7 144.9h0M641.8 133.1h0M638.4 153.8h0M617.4 132.2h0M624.9 143.7h0M632.5 142.8h0M641.1 156.2h0M649 147.9h0M652.9 137.5h0M626.4 130.1h0M648.3 137.4h0M627.9 149.4h0M626.2 151.2h0M641.8 143.3h0M643.5 149.2h0M625.6 150.3h0M618.8 132h0M638.5 127.7h0M640.7 159.6h0M656 134.7h0M614.9 132.4h0M645.9 145.9h0M637.8 156.9h0M634.4 139.6h0M648.4 131.8h0M659.9 148.1h0M654.4 124h0M606.4 131.9h0M621.9 158.8h0M624.1 129.9h0M606.9 133.4h0M656.9 144.9h0M607.6 124h0M621.2 155.5h0M617.3 120.7h0M642.4 129.6h0M640.2 130.8h0M644.4 121.7h0M649 161.1h0M653.1 131.3h0M632.7 154.3h0M661.4 131.9h0M642.5 156.1h0M637.9 151.3h0M629.5 121h0M632.1 160.2h0M622.8 154.1h0M632.4 155.2h0M644.2 126.2h0M616.2 143.7h0M651.7 151.5h0M643.9 139.6h0M618.5 136h0"/>
<polyline class="ln" style="stroke:#0000ff;stroke-width:3" points="634.2,35.6 631.9,95.7 677.6,153.6 784.3,213.4 813.9,272.4 816.8,332.5 818.3,391.1 818.3,450.3 819.4,509.1 821.2,568.1 823.4,627.2 825.2,686.4 825.2,745.4 821.4,803.7"/><g fill="#0000ff"><circle cx="634.2" cy="35.6" r="6"/><circle cx="631.9" cy="95.7" r="6"/><circle cx="677.6" cy="153.6" r="6"/><circle cx="784.3" cy="213.4" r="6"/><circle cx="813.9" cy="272.4" r="6"/><circle cx="816.8" cy="332.5" r="6"/><circle cx="818.3" cy="391.1" r="6"/><circle cx="818.3" cy="450.3" r="6"/><circle cx="819.4" cy="509.1" r="6"/><circle cx="821.2" cy="568.1" r="6"/><circle cx="823.4" cy="627.2" r="6"/><circle cx="825.2" cy="686.4" r="6"/><circle cx="825.2" cy="745.4" r="6"/><circle cx="821.4" cy="803.7" r="6"/></g>
<polyline class="ln" style="stroke:#ff0000;stroke-width:7.9" points="653.1,19.4 653.1,43 653.1,66.6 653.1,90.2 652.4,113.8 652,137.4 654.2,161 681.4,196.4 765.5,255.4 837.2,314.4 892.9,373.4 923.6,432.4 928.1,491.4 939.2,550.4 943.2,609.4"/><g fill="#ff0000"><circle cx="653.1" cy="19.4" r="5.5"/><circle cx="653.1" cy="43" r="5.5"/><circle cx="653.1" cy="66.6" r="5.5"/><circle cx="653.1" cy="90.2" r="5.5"/><circle cx="652.4" cy="113.8" r="5.5"/><circle cx="652" cy="137.4" r="5.5"/><circle cx="654.2" cy="161" r="5.5"/><circle cx="681.4" cy="196.4" r="5.5"/><circle cx="765.5" cy="255.4" r="5.5"/><circle cx="837.2" cy="314.4" r="5.5"/><circle cx="892.9" cy="373.4" r="5.5"/><circle cx="923.6" cy="432.4" r="5.5"/><circle cx="928.1" cy="491.4" r="5.5"/><circle cx="939.2" cy="550.4" r="5.5"/><circle cx="943.2" cy="609.4" r="5.5"/></g>
<polyline class="ln" style="stroke:#9a6200;stroke-width:3.2;stroke-dasharray:2.5 1.5;stroke-opacity:.75" points="635.5,19.4 635.5,43 635.5,66.6 635.5,90.2 635.5,113.8 637.5,137.4 673.6,161 721.5,196.4 782.5,255.4 822.8,314.4 841.3,373.4 850.6,432.4 851.1,491.4 852.2,550.4 853.3,609.4"/><circle cx="635.5" cy="19.4" r="6.5" fill="#9a6200" fill-opacity=".75"/><circle cx="635.5" cy="43" r="6.5" fill="#9a6200" fill-opacity=".75"/><circle cx="635.5" cy="66.6" r="6.5" fill="#9a6200" fill-opacity=".75"/><circle cx="635.5" cy="90.2" r="6.5" fill="#9a6200" fill-opacity=".75"/><circle cx="635.5" cy="113.8" r="6.5" fill="#9a6200" fill-opacity=".75"/><circle cx="637.5" cy="137.4" r="6.5" fill="#9a6200" fill-opacity=".75"/><circle cx="673.6" cy="161" r="6.5" fill="#9a6200" fill-opacity=".75"/><circle cx="721.5" cy="196.4" r="6.5" fill="#9a6200" fill-opacity=".75"/><circle cx="782.5" cy="255.4" r="6.5" fill="#9a6200" fill-opacity=".75"/><circle cx="822.8" cy="314.4" r="6.5" fill="#9a6200" fill-opacity=".75"/><circle cx="841.3" cy="373.4" r="6.5" fill="#9a6200" fill-opacity=".75"/><circle cx="850.6" cy="432.4" r="6.5" fill="#9a6200" fill-opacity=".75"/><circle cx="851.1" cy="491.4" r="6.5" fill="#9a6200" fill-opacity=".75"/><circle cx="852.2" cy="550.4" r="6.5" fill="#9a6200" fill-opacity=".75"/><circle cx="853.3" cy="609.4" r="6.5" fill="#9a6200" fill-opacity=".75"/><polyline class="ln" style="stroke:#ffa500;stroke-width:2.4" points="635.5,19.4 635.5,43 635.5,66.6 635.5,90.2 635.5,113.8 637.5,137.4 673.6,161 721.5,196.4 782.5,255.4 822.8,314.4 841.3,373.4 850.6,432.4 851.1,491.4 852.2,550.4 853.3,609.4"/><g fill="#ffa500"><circle cx="635.5" cy="19.4" r="6"/><circle cx="635.5" cy="43" r="6"/><circle cx="635.5" cy="66.6" r="6"/><circle cx="635.5" cy="90.2" r="6"/><circle cx="635.5" cy="113.8" r="6"/><circle cx="637.5" cy="137.4" r="6"/><circle cx="673.6" cy="161" r="6"/><circle cx="721.5" cy="196.4" r="6"/><circle cx="782.5" cy="255.4" r="6"/><circle cx="822.8" cy="314.4" r="6"/><circle cx="841.3" cy="373.4" r="6"/><circle cx="850.6" cy="432.4" r="6"/><circle cx="851.1" cy="491.4" r="6"/><circle cx="852.2" cy="550.4" r="6"/><circle cx="853.3" cy="609.4" r="6"/></g>
<polyline class="ln" style="stroke:#008000;stroke-width:3" points="691.8,19.4 691.8,43 691.8,66.6 691.8,90.2 697,113.8 714.3,137.4 739.7,161 781.6,196.4 821.4,255.4 841.3,314.4 845.5,373.4 845.5,432.4 846.6,491.4 848.4,550.4 848.8,609.4 850.4,727.4"/><g fill="#008000"><circle cx="691.8" cy="19.4" r="6"/><circle cx="691.8" cy="43" r="6"/><circle cx="691.8" cy="66.6" r="6"/><circle cx="691.8" cy="90.2" r="6"/><circle cx="697" cy="113.8" r="6"/><circle cx="714.3" cy="137.4" r="6"/><circle cx="739.7" cy="161" r="6"/><circle cx="781.6" cy="196.4" r="6"/><circle cx="821.4" cy="255.4" r="6"/><circle cx="841.3" cy="314.4" r="6"/><circle cx="845.5" cy="373.4" r="6"/><circle cx="845.5" cy="432.4" r="6"/><circle cx="846.6" cy="491.4" r="6"/><circle cx="848.4" cy="550.4" r="6"/><circle cx="848.8" cy="609.4" r="6"/><circle cx="850.4" cy="727.4" r="6"/></g>
<polyline class="ln" style="stroke:#ff00ff;stroke-width:3" points="690.3,24.5 690.3,37.2 690.3,50.3 690.3,64.1 690.3,78.4 690.3,95.7 689.2,112.4 694.3,132.5 720.3,153.2 765.5,178.1 791.2,204.9 807.4,237.2 817.2,273.9 822.1,315.8 826.6,365.9 830.3,425.2 836.4,495.3 853.3,578.1 876.2,677.5"/><g fill="#ff00ff"><circle cx="690.3" cy="24.5" r="6"/><circle cx="690.3" cy="37.2" r="6"/><circle cx="690.3" cy="50.3" r="6"/><circle cx="690.3" cy="64.1" r="6"/><circle cx="690.3" cy="78.4" r="6"/><circle cx="690.3" cy="95.7" r="6"/><circle cx="689.2" cy="112.4" r="6"/><circle cx="694.3" cy="132.5" r="6"/><circle cx="720.3" cy="153.2" r="6"/><circle cx="765.5" cy="178.1" r="6"/><circle cx="791.2" cy="204.9" r="6"/><circle cx="807.4" cy="237.2" r="6"/><circle cx="817.2" cy="273.9" r="6"/><circle cx="822.1" cy="315.8" r="6"/><circle cx="826.6" cy="365.9" r="6"/><circle cx="830.3" cy="425.2" r="6"/><circle cx="836.4" cy="495.3" r="6"/><circle cx="853.3" cy="578.1" r="6"/><circle cx="876.2" cy="677.5" r="6"/></g>
</g>
<path class="sp" d="M599.5 814.5v6M666.6 814.5v6M733.5 814.5v6M801.4 814.5v6M868.6 814.5v6M935.7 814.5v6M572.5 19.4h-6M572.5 137.4h-6M572.5 255.4h-6M572.5 373.4h-6M572.5 491.4h-6M572.5 609.4h-6M572.5 727.4h-6"/>
<rect class="sp" x="572.5" y="19.6" width="404.2" height="794.9"/>
<text class="tk" text-anchor="middle" x="599.5" y="841.8" textLength="38.5">31.0</text>
<text class="tk" text-anchor="middle" x="666.6" y="841.8" textLength="38.5">31.5</text>
<text class="tk" text-anchor="middle" x="733.5" y="841.8" textLength="38.5">32.0</text>
<text class="tk" text-anchor="middle" x="801.4" y="841.8" textLength="38.5">32.5</text>
<text class="tk" text-anchor="middle" x="868.6" y="841.8" textLength="38.5">33.0</text>
<text class="tk" text-anchor="middle" x="935.7" y="841.8" textLength="38.5">33.5</text>
</g>
<g id="axR">
<path class="g" d="M1083.4 814.5V19.6M1141.6 814.5V19.6M1200.5 814.5V19.6M1258.5 814.5V19.6M1316.6 814.5V19.6M1374.6 814.5V19.6M1432.6 814.5V19.6M1067.5 19.4H1471.7M1067.5 137.4H1471.7M1067.5 255.4H1471.7M1067.5 373.4H1471.7M1067.5 491.4H1471.7M1067.5 609.4H1471.7M1067.5 727.4H1471.7"/>
<g clip-path="url(#cR)">
<path fill="#0ff" d="M1096.8 60 1096.8 74.8 1096.8 89.6 1096.8 104.4 1096.8 119.2 1097.4 134 1123.5 134 1119.2 119.2 1119.2 104.4 1119.2 89.6 1119.2 74.8 1119.2 60ZM1392.6 285 1395.5 298.5 1398.1 312 1400.5 325.5 1402.8 339.1 1405.2 352.6 1407 366.1 1408.6 379.6 1410.2 393.1 1411.5 406.6 1412.4 420.1 1413.3 433.6 1414.2 447.2 1415.1 460.7 1416.1 474.2 1417 487.7 1418 501.2 1418.9 514.7 1419.8 528.2 1420.7 541.7 1421.5 555.3 1422.4 568.8 1423.3 582.3 1424.1 595.8 1424.7 609.3 1425 622.8 1425.4 636.3 1425.8 649.8 1426.1 663.4 1426.5 676.9 1426.9 690.4 1427.2 703.9 1427.6 717.4 1428 730.9 1428.3 744.4 1428.7 757.9 1429 771.5 1429.2 785 1429.4 798.5 1429.7 812 1431.3 812 1431.3 798.5 1431.3 785 1431.3 771.5 1431.2 757.9 1431.1 744.4 1431.1 730.9 1431 717.4 1430.9 703.9 1430.7 690.4 1430.6 676.9 1430.4 663.4 1430.2 649.8 1430.1 636.3 1429.9 622.8 1429.7 609.3 1429.5 595.8 1429 582.3 1428.5 568.8 1428 555.3 1427.5 541.7 1427 528.2 1426.5 514.7 1425.9 501.2 1425.3 487.7 1424.7 474.2 1424.1 460.7 1423.5 447.2 1422.8 433.6 1422 420.1 1421.3 406.6 1420.5 393.1 1419.7 379.6 1418.8 366.1 1417.9 352.6 1416.6 339.1 1415.4 325.5 1414.2 312 1413.1 298.5 1411.9 285Z"/>
<path class="cy" d="M1097.6 56.5h0M1097.3 66.2h0M1097 77.5h0M1096.8 86.6h0M1096.9 96h0M1104.9 105.9h0M1098.3 115.5h0M1101 124.2h0M1098.5 133.9h0M1115.1 143.9h0M1112.7 153.6h0M1127.8 164.3h0M1137.9 175.3h0M1205.6 185.2h0M1270.8 194.9h0M1303.8 203.9h0M1319.1 214.2h0M1349.8 224.2h0M1350.2 235.6h0M1365.8 245.1h0M1379 255h0M1381.6 264h0M1386.4 274.4h0M1386.4 284.2h0M1388.2 294h0M1395.5 304.7h0M1398.7 313.8h0M1400.2 324.6h0M1406.2 333.4h0M1403.1 342h0M1405 352.1h0M1408.5 363.3h0M1405 372.2h0M1404.9 380.9h0M1406.4 391h0M1409.2 400.8h0M1416.4 411.2h0M1417 421.6h0M1410.3 431.2h0M1415.5 440.3h0M1413.1 450.2h0M1415.2 461.2h0M1413.5 470.4h0M1416.6 479.9h0M1416.3 490.9h0M1414.7 501h0M1418.5 511.2h0M1420.6 522.4h0M1419 531.8h0M1419.1 542.5h0M1420.9 551.4h0M1420.6 561.8h0M1421.4 571.1h0M1422 580.1h0M1422.3 590.1h0M1423.2 600h0M1423.8 609.1h0M1423.5 620.6h0M1425.1 629.7h0M1427.8 638.8h0M1426.1 649.5h0M1427.2 659h0M1425.8 669.2h0M1426 679.8h0M1425.6 689.5h0M1426.3 698.2h0M1426.7 708.2h0M1427 718.2h0M1427.5 727.9h0M1100.8 56.2h0M1097.3 66h0M1110.4 74.8h0M1113.1 83.9h0M1109.8 94h0M1111.3 105h0M1108.4 114.3h0M1111.2 124.7h0M1114.3 134.9h0M1151.4 145.7h0M1151.6 154.8h0M1181.5 165.4h0M1228.6 175.2h0M1263 186.4h0M1309.6 195.3h0M1340 204.5h0M1353.2 214.4h0M1371.4 222.9h0M1385.1 231.7h0M1378.6 242.6h0M1383.7 252.1h0M1399.8 262.7h0M1394.8 271.3h0M1399.8 281.3h0M1402.4 291.2h0M1402.6 300.1h0M1408.4 309.5h0M1410.6 320.7h0M1413.2 330.5h0M1412.8 339.4h0M1415.1 349.1h0M1412 359h0M1413.4 369.4h0M1412.1 378.8h0M1414.2 389.3h0M1415.2 399.7h0M1418.8 408.8h0M1416.2 418h0M1421.7 427.5h0M1417.7 438.3h0M1422.3 448h0M1420.6 456.7h0M1417.3 465.5h0M1421.4 475.6h0M1418 486.7h0M1418.7 497.1h0M1424.9 507h0M1423.1 515.8h0M1425.9 527.1h0M1426.5 538.1h0M1424.1 548.6h0M1425.6 559h0M1427.8 569.7h0M1424.7 580.2h0M1423.5 591.7h0M1426.4 601.6h0M1426 610.2h0M1427 621h0M1428.8 630.8h0M1428.1 641.6h0M1430.2 651.8h0M1430.1 662.2h0M1429 672.5h0M1428.3 682.7h0M1427 693.7h0M1430.4 704.1h0M1428.7 712.7h0M1428.9 721.7h0M1429.1 730.8h0M1429.7 740.5h0M1429.6 750.9h0M1430.4 762.4h0M1430.4 772.5h0M1430.4 781.9h0M1430.6 791.3h0M1430.2 802.4h0M1103.9 57.5h0M1110.6 68.1h0M1115 77.7h0M1113.1 88.8h0M1115.9 98h0M1120 108.8h0M1109.3 119.2h0M1106 129.9h0M1128.8 138.6h0M1162 149.6h0M1155 160.6h0M1201.3 171.4h0M1274.1 180.1h0M1330.4 189.5h0M1330.1 200.5h0M1352.5 209.2h0M1372.3 218.2h0M1372.8 229.2h0M1375.2 240.2h0M1399.9 250.2h0M1395.1 259.6h0M1396.1 268.8h0M1408.6 278.4h0M1406.2 288.8h0M1414.8 299.5h0M1416.9 310.4h0M1413.2 319.7h0M1414.5 328.7h0M1409.2 339.8h0M1413.7 349.6h0M1410.4 358.4h0M1417.3 367h0M1415.4 377.2h0M1416.1 387.2h0M1418.7 398.3h0M1421.3 408.5h0M1422 419.8h0M1421.1 428.8h0M1421.7 439.3h0M1419.8 450.6h0M1420.3 461.5h0M1418.8 472.1h0M1421.2 482.2h0M1425.8 491.9h0M1424.6 502.4h0M1425 512.4h0M1425.9 522.5h0M1427.2 532h0M1425.2 540.5h0M1426.1 551.1h0M1424 560.6h0M1426.8 571h0M1424.8 581.4h0M1427.9 591.5h0M1427.3 600.8h0M1428.4 611.3h0M1427.1 622.7h0M1428.7 631.3h0M1430.8 640.3h0M1429.3 650.2h0M1427.4 659.5h0M1429.1 668.7h0M1427.8 679.7h0M1427.8 688.9h0M1429.7 698h0M1428.7 707.7h0M1430 718.3h0M1431 726.9h0M1431.4 735.8h0M1430.1 744.9h0M1430.4 754.8h0M1429.9 764.2h0M1429.3 773.7h0M1429.7 782.5h0M1430 792.8h0M1430.6 802.6h0M1430.4 811.2h0M1109.9 59.1h0M1108.3 69.7h0M1109.5 79.8h0M1105.2 88.4h0M1113.2 98.7h0M1112.7 109.5h0M1118.9 120.9h0M1112.4 130.1h0M1173.3 141.5h0M1186 150.3h0M1189 159.6h0M1223.1 169.5h0M1232.3 179.5h0M1290.5 189.8h0M1333.8 200.1h0M1360.3 210.1h0M1369.9 220.5h0M1377.5 231.5h0M1386.2 242.8h0M1408.9 253.1h0M1410.5 264.1h0M1406.7 274.9h0M1401.8 284.7h0M1411.2 294.9h0M1404.2 304.6h0M1408.3 315.4h0M1412.8 326.6h0M1417.2 338h0M1417.7 347.4h0M1414.2 357.8h0M1417 368.4h0M1416.3 377.6h0M1416.3 387h0M1413.2 395.7h0M1417.3 404.5h0M1417.3 413.2h0M1417.4 421.8h0M1422.5 432.5h0M1423.6 441.2h0M1424.2 452.1h0M1423.9 461.5h0M1423.1 470.4h0M1423.8 479h0M1423.1 489.8h0M1421.5 498.4h0M1423 507.8h0M1422.7 519.2h0M1426.7 528.4h0M1426 537.1h0M1424.9 548.3h0M1427.6 558.2h0M1427 568.3h0M1429.2 577.9h0M1425.9 588.4h0M1428.8 597.4h0M1425.4 608.2h0M1428.8 618.4h0M1426.8 628.1h0M1427.7 636.8h0M1430 645.8h0M1430 655.9h0M1431.8 664.8h0M1429.6 675.6h0M1430.4 686.7h0M1428.8 697.1h0M1429.1 708.2h0M1429.4 719.6h0M1430.9 730.4h0M1102.2 59.8h0M1111.8 69.9h0M1109.3 78.5h0M1109.3 87.2h0M1108 98.3h0M1109.6 109.2h0M1104.8 120.3h0M1100.4 131.2h0M1128.5 140.3h0M1147.1 151.7h0M1198.8 161.3h0M1236.5 172.6h0M1247.2 182.4h0M1297.1 191.7h0M1336.3 200.9h0M1338.2 210.7h0M1343.2 221.6h0M1364 231h0M1370.8 240.5h0M1382.7 250.8h0M1393.6 260.5h0M1393.2 269.1h0M1401.9 279.6h0M1402.2 289.2h0M1404.2 299.9h0M1402.5 310.8h0M1404.2 321h0M1405 331.8h0M1405.9 341h0M1411.8 350.1h0M1406.4 359.1h0M1412.7 370.1h0M1413.8 380.6h0M1415.9 392.1h0M1417.7 401.9h0M1418.9 412.4h0M1416 422.3h0M1414.9 432.7h0M1414.7 444.2h0M1416.1 453h0M1418.3 463.9h0M1417.3 472.7h0M1421.4 483.7h0M1420.8 494.9h0M1421.9 505.4h0M1422.2 516.8h0M1423.9 527.7h0M1423.5 537.9h0M1422.2 548h0M1422.5 558.7h0M1424.5 569.2h0M1425 579.2h0M1426.7 588.8h0M1427.2 599.1h0M1427.9 610.4h0M1427.7 619.6h0M1426.8 629.7h0M1427.3 641h0M1427.6 651h0M1108.5 60.2h0M1114 70.8h0M1101.4 81h0M1104.3 89.6h0M1104 100.4h0M1097.2 111.1h0M1104.4 120.7h0M1102.1 131.9h0M1147.3 143h0M1198.3 153.2h0M1246.4 163.2h0M1236 172.5h0M1239.5 182.2h0M1250.8 191.6h0M1322.1 200.6h0M1311.4 209.5h0M1330.3 219.8h0M1342.2 228.8h0M1371.3 240h0M1386 250.1h0M1400 259.4h0M1402.3 268.5h0M1403.2 278.6h0M1402.2 288.6h0M1401.6 297.9h0M1400.8 306.9h0M1400.8 317.3h0M1406.7 327h0M1406.8 336.1h0M1407.7 346.2h0M1411.2 355.9h0M1417.6 366.4h0M1414.6 377h0M1417.1 388.2h0M1414.7 396.9h0M1413.9 407.4h0M1414.5 418h0M1415.2 427.7h0M1415.4 436.4h0M1415.5 446.7h0M1418.2 457.7h0M1418.7 466.9h0M1422.5 475.9h0M1423.5 485.2h0M1421 494.1h0M1421.2 503.3h0M1419.6 513.5h0M1422.8 524.1h0M1421.7 535.2h0M1422.6 546.4h0M1426.7 557.2h0M1425.1 568.4h0M1426.7 579.5h0M1426.1 589.5h0M1427.6 599.2h0M1425.8 609.6h0M1425.9 619.8h0M1425 630.3h0M1425.3 639h0M1425.1 647.7h0M1427 658.4h0M1426.1 667.5h0M1428.6 677.8h0M1429.7 688.4h0M1429.5 699.3h0M1429.4 710.4h0M1429.4 719.2h0M1430.2 729.7h0M1429.4 739.5h0M1427.9 750.5h0M1429.7 761.1h0M1429.3 771.6h0M1430.1 781.2h0M1430.6 791h0M1430.8 802.1h0M1112 55.2h0M1106.9 64.8h0M1108.9 75.9h0M1113.3 84.8h0M1109.8 93.6h0M1109.9 104.1h0M1108.4 113.2h0M1110.2 124.4h0M1106.5 133h0M1111.5 143.8h0M1146.6 153.5h0M1174.6 162.3h0M1188.6 171.7h0M1279.1 180.4h0M1302.3 190.6h0M1332.5 200h0M1347.1 211.4h0M1360.9 220.9h0M1367.9 229.8h0M1368.9 239.6h0M1382.2 248.2h0M1388.2 257.7h0M1385.3 266.9h0M1394.5 277h0M1402.7 287.6h0M1404 297.1h0M1406.7 307.2h0M1408.5 315.9h0M1411.2 327h0M1408.4 335.6h0M1410 344.7h0M1404.7 353.2h0M1409 362.7h0M1407 372.2h0M1414.2 382.7h0M1412.8 393.8h0M1417.9 404.3h0M1418.7 414.6h0M1420.5 423.8h0M1418.1 435.1h0M1416.9 444.8h0M1420.6 453.5h0M1417.8 464.7h0M1419.4 474.4h0M1421.3 483.2h0M1421.1 493.1h0M1423.7 502.3h0M1421.6 510.9h0M1424.3 521.6h0M1425.4 531.4h0M1423.4 541.6h0M1423.4 550.7h0M1423 561.2h0M1423.6 571.6h0M1425.7 581.1h0M1424.7 591.9h0M1428.1 601.7h0M1428 611.3h0M1429.8 620h0M1428.7 630.5h0M1428.7 640.1h0M1426.5 648.6h0M1428.3 659.1h0M1428.9 668.1h0M1426.4 676.9h0M1427.9 686.7h0M1428.1 697.5h0M1428.5 707.6h0M1431 717.9h0M1429 726.5h0M1104.7 57.9h0M1107.4 66.8h0M1102.5 75.5h0M1104.5 84.5h0M1100.7 93.6h0M1101.9 103.3h0M1100.4 114h0M1103.6 123.4h0M1106.1 134.9h0M1162.1 143.6h0M1159.1 153.8h0M1168.9 164.6h0M1217.9 175.5h0M1249.8 185h0M1269.4 196.3h0M1304.2 206.6h0M1336.8 216h0M1348.7 227.1h0M1374.8 238.2h0M1385.7 248.2h0M1387.9 257.2h0M1393.2 266.9h0M1397.8 277.3h0M1395.6 286.4h0M1399.4 297.1h0M1394.6 305.8h0M1395.9 315.3h0M1404 325.4h0M1406.5 336.2h0M1411.8 346.2h0M1409.5 356.4h0M1413.5 366.6h0M1412.6 377.6h0M1412.9 388.4h0M1409.1 398h0M1409.3 408.6h0M1415.6 418.8h0M1417.7 427.5h0M1414 436.3h0M1418.8 445.6h0M1418.4 456.6h0M1420.2 467.4h0M1419.7 478.3h0M1420 487.5h0M1416.5 498.8h0M1418.3 508.4h0M1418.3 517.9h0M1417.9 529.2h0M1419.7 539.9h0M1421.4 551.2h0M1424.9 560.8h0M1424.8 571.2h0M1425.6 579.9h0M1425 589.6h0M1426.1 598.6h0M1423.7 609.7h0M1425.5 618.5h0M1425.4 629.8h0M1425.4 640.4h0M1428 650.9h0M1428.7 659.9h0M1428.8 670.7h0M1428.6 680h0M1429.4 689.9h0M1427.7 700.4h0M1428.3 708.9h0M1428 719.3h0M1429.8 729.5h0M1428.4 740.6h0M1429 749.3h0M1429.2 758.4h0M1430 769.4h0M1430.4 778.7h0M1430.6 788.3h0M1430.3 799h0M1429.8 808.9h0M1114.8 58.6h0M1109.9 69.2h0M1105.2 79.4h0M1107.1 89.3h0M1109.8 98.2h0M1114.5 107.4h0M1119 118.8h0M1114 128.7h0M1136.6 137.2h0M1176.7 147h0M1240.8 158.1h0M1249.4 169.2h0M1239.5 178.2h0M1282.9 188.6h0M1320.9 197.3h0M1337.4 206.7h0M1346.9 215.9h0M1358.8 226.7h0M1373.7 235.9h0M1375.8 245.8h0M1383.3 256.7h0M1387.7 266.4h0M1389.4 274.9h0M1385.3 285.2h0M1384.9 294.8h0M1399.9 304.6h0M1403.2 315.9h0M1416.2 324.9h0M1408.9 334.6h0M1414.2 343.7h0M1418.1 355h0M1418.3 363.7h0M1414.9 373.9h0M1415.7 385.2h0M1414.5 393.9h0M1414.9 403.4h0M1414.5 414.2h0M1417.8 424.1h0M1420.9 435.2h0M1423.9 445.6h0M1423.6 456.8h0M1422.7 466.8h0M1421.7 477.2h0M1422.4 486.3h0M1422.6 497.7h0M1422.6 508.7h0M1423.8 518.6h0M1424 528.1h0M1423.9 537.3h0M1425.5 546.8h0M1427.7 556.8h0M1427.6 566.1h0M1428.9 574.6h0M1428 584.6h0M1427.6 594h0M1427.2 604.5h0M1427.9 615.7h0M1427 626.6h0M1428 635.4h0M1428.2 645.5h0M1428.4 656.9h0M1430.9 667.3h0M1430.6 678.7h0M1429.9 690.2h0M1430.2 701.5h0M1429.3 712.6h0M1429.7 723.1h0M1429.6 733h0M1104 54.6h0M1097.7 63.6h0M1097.1 73.9h0M1096.9 83.4h0M1096.8 94h0M1096.9 103.6h0M1101.3 113.7h0M1104.7 124.8h0M1102 136h0M1113 145.6h0M1110.5 156.4h0M1116.3 167.1h0M1154.7 178.3h0M1232 189.2h0M1284.8 199.1h0M1318.5 208.6h0M1328.7 220h0M1341.8 230h0M1362.3 240.9h0M1374.3 252.2h0M1385.4 263.5h0M1383 272.7h0M1386.4 283.9h0M1387.7 292.7h0M1390.8 303.1h0M1393.4 313.9h0M1400.4 324h0M1403 332.7h0M1401.6 342h0M1404.8 353.3h0M1410.2 364.1h0M1404.1 373.6h0M1407.9 382.2h0M1407.2 391.8h0M1407.2 400.6h0M1409.2 411.1h0M1411.6 421.4h0M1409.7 430.1h0M1415.5 440.8h0M1414.6 450h0M1414.3 460.3h0M1415.6 470.9h0M1414 482h0M1415.5 492.2h0M1415 502.4h0M1416.3 511.9h0M1419.4 523.3h0M1417.3 532.3h0M1420.9 541.3h0M1419.1 550.3h0M1421.6 561.4h0M1422.4 570.9h0M1420.9 582.2h0M1423.4 592.1h0M1422.9 603.5h0M1423.3 614.5h0M1423 625.2h0M1424.5 634.7h0M1425.1 645.7h0M1426.3 655.9h0M1427 667h0M1427.4 677.2h0M1426.8 686.2h0M1425.7 694.9h0M1425.9 705.1h0M1426.4 715.7h0M1426.5 726.7h0M1097.5 59.2h0M1097.3 68h0M1097 77h0M1100 86.1h0M1105.9 96.6h0M1099.9 107h0M1097.1 116.8h0M1100.2 127.9h0M1103.7 138.3h0M1112.3 147.7h0M1107.8 158.7h0M1114.6 169.3h0M1151 178.7h0M1207.4 189h0M1262.3 199.3h0M1287.3 208.4h0M1303.7 217.2h0M1346.9 228.2h0M1360.5 237.8h0M1372.9 246.8h0M1377.3 255.5h0M1382.6 266.3h0M1382.8 275.9h0M1384.6 285.7h0M1387.9 295.9h0M1393.6 304.8h0M1395.2 315.2h0M1396.2 324.8h0M1400.2 334.6h0M1399.5 343.2h0M1400.2 352.3h0M1402.3 362.5h0M1401.6 371.6h0M1403.2 382.3h0M1404.6 391h0M1412.5 399.6h0M1411.5 410.3h0M1413.9 421.5h0M1415 432.2h0M1416.4 442.4h0M1415.8 453.9h0M1415.1 463.9h0M1414.3 475h0M1414.1 484.5h0M1414.7 494.8h0M1416 504.9h0M1418.6 515.9h0M1420.4 526.6h0M1422.2 537.6h0M1422.1 548.1h0M1422.6 559.6h0M1423.7 570.1h0M1421.4 580h0M1421.7 589.3h0M1422.8 600.6h0M1424.1 609.2h0M1425.9 619.8h0M1425.9 629.8h0M1425.6 639.1h0M1427.1 650.4h0M1427.5 661.4h0M1426.5 671.7h0M1425.9 681.7h0M1425.8 693h0M1425.7 702.5h0M1426.8 711.9h0M1428.2 723.3h0M1429 732.2h0M1110.4 57.7h0M1108.8 69h0M1109.5 78.9h0M1111.8 87.5h0M1107.9 96.3h0M1109.8 105.1h0M1110.1 116.1h0M1108.7 127h0M1115.1 138.2h0M1154.5 148.8h0M1198.6 158.1h0M1231.6 169.4h0M1251.7 180.5h0M1326.5 192h0M1337.5 201.8h0M1343.7 210.4h0M1350.7 220.6h0M1364.3 231.1h0M1383.3 240.6h0M1395.4 251.6h0M1408.5 262.2h0M1403.3 271.9h0M1411.5 280.8h0M1408.2 289.5h0M1403.8 300.2h0M1404.6 309.3h0M1408.2 318.3h0M1405.5 326.9h0M1406.9 337.2h0M1407 347.3h0M1410.7 356.3h0M1413.7 366.4h0M1414.4 377.2h0M1416.8 386.3h0M1420.1 396.9h0M1418.8 405.4h0M1419.9 416.8h0M1418.4 426.3h0M1415.1 435.8h0M1418.1 446.9h0M1416.1 458h0M1418.6 468.1h0M1422.5 478.1h0M1421.2 488.7h0M1425.2 498.4h0M1423.4 507.1h0M1424.4 517.5h0M1424.5 528.5h0M1421 539.3h0M1422.8 547.9h0M1422 557.1h0M1424.4 567.7h0M1426 576.9h0M1427.6 588.2h0M1428.5 597.3h0M1428.9 607.8h0M1429 617.7h0M1426.6 628.1h0M1426.3 638.8h0M1427.6 648.8h0M1427.5 660.2h0M1427.4 669.2h0M1429.7 680.1h0M1428.7 690.7h0M1430.5 701.7h0M1429.5 712.8h0M1430.7 722.7h0M1428.3 731.9h0M1429.2 741.5h0M1428.7 751.9h0M1429.2 762.2h0M1430.1 773h0M1428.9 781.8h0M1430.6 792h0M1430.1 801.8h0M1108 56.7h0M1105.5 65.9h0M1105.4 74.9h0M1104.5 85.9h0M1110 96.2h0M1115.3 104.8h0M1111.5 115.4h0M1116.4 125.8h0M1122.3 135.3h0M1171.7 144.5h0M1169.5 153.6h0M1186.9 164.8h0M1181.1 175.5h0M1260.1 186h0M1310.6 196.8h0M1340.7 206.8h0M1365.6 215.6h0M1376.4 226.5h0M1383.6 237.6h0M1394.6 247.3h0M1399.6 258.6h0M1397.8 267.3h0M1400.9 277.4h0M1400.9 286.1h0M1402.3 297h0M1406.3 305.9h0M1411.7 315.1h0M1405.5 324.2h0M1416.4 334.2h0M1416.7 344h0M1412.6 352.7h0M1418.3 363.9h0M1416.5 372.7h0M1414.3 382.8h0M1411.6 391.9h0M1413.3 401.8h0M1417.1 411.9h0M1421.9 422.8h0M1422.4 431.3h0M1423 440.7h0M1421.5 451.2h0M1423.5 461.6h0M1420.3 471.3h0M1418.3 480.6h0M1419.7 490.1h0M1420 500.7h0M1422.2 511.5h0M1423.9 520.8h0M1425.3 529.5h0M1426.9 540.6h0M1426.7 551.9h0M1427.9 561.7h0M1427 570.7h0M1427.8 581.6h0M1425 591.2h0M1427.3 602.4h0M1426 611.4h0M1428.2 622.2h0M1427 632.5h0M1429.5 642.2h0M1430 651.4h0M1430.4 661.5h0M1429.4 670.4h0M1429.9 679.9h0M1428.2 688.8h0M1428 698.9h0M1097.5 59h0M1097.6 70h0M1103.5 79.4h0M1101.2 88.1h0M1107 99.2h0M1108.2 110.3h0M1107.2 120.7h0M1105 131.7h0M1135.8 140.8h0M1104 150.5h0M1108.8 160.3h0M1147.9 169.8h0M1160.8 179.3h0M1279.8 190.7h0M1313.1 201.9h0M1325.8 211.9h0M1356.5 221.8h0M1355.1 231.2h0M1367.1 242.1h0M1377.2 251.2h0M1382.1 261.2h0M1384.8 270.3h0M1393.6 280.3h0M1387.9 291.1h0M1394.2 302.4h0M1399.5 313.4h0M1407.6 321.9h0M1407.8 331.8h0M1403.9 342.7h0M1405.2 353.3h0M1404.1 362.5h0M1405.1 373.4h0M1405.6 382.5h0M1406.9 393.2h0M1411.7 401.9h0M1413.3 413.2h0M1415.6 423.3h0M1414.7 432.4h0M1417.9 443.7h0M1415.8 453.9h0M1414.7 462.6h0M1415.4 471.7h0M1415.2 482.9h0M1414.6 494.2h0M1414.9 503.6h0M1417.4 512.3h0M1420.2 522.1h0M1422.6 533.2h0M1422.2 543.9h0M1421 553.3h0M1424.6 564.5h0M1423 576h0M1422.1 586.2h0M1423.2 595.6h0M1423.8 604.6h0M1425.7 614.7h0M1426.8 624.3h0M1426.8 635.2h0M1426.9 645.1h0M1426.6 654.3h0M1426.4 663.1h0M1428.5 672.8h0M1426.2 682.1h0M1425.4 692.2h0M1427.3 702.4h0M1427.2 712.5h0M1428.6 722h0M1427.3 732.2h0M1428.6 743.6h0M1429.6 754.3h0M1113.7 58.3h0M1108.6 68h0M1111.8 78.9h0M1105.1 89.8h0M1113.1 100.2h0M1109.3 108.7h0M1112.7 118.1h0M1116.5 128.5h0M1134.9 137.6h0M1189.1 147h0M1228 157.1h0M1216.1 166.1h0M1189.5 176.2h0M1278.1 185.6h0M1325.7 196.4h0M1329.5 206.6h0M1362.3 217.9h0M1383.2 228.6h0M1393.1 240.1h0M1397.8 251.2h0M1399.6 262.2h0M1402.6 271.6h0M1401.4 281.7h0M1401 292.6h0M1402.2 302.7h0M1406.1 312.1h0M1410.2 320.8h0M1413.1 332h0M1414.4 343h0M1412.2 353.5h0M1418.3 364.3h0M1415.3 375.4h0M1416 386.2h0M1416.6 397.4h0M1416.4 408.8h0M1419.1 419.1h0M1420.2 429.2h0M1423.7 440.4h0M1422.1 451.6h0M1422.5 461.9h0M1424.3 471.1h0M1422 481.9h0M1419.3 492h0M1424.6 502.9h0M1422.3 512.5h0M1423.4 522.9h0M1425.5 533.4h0M1426.4 541.9h0M1425.5 552.3h0M1428.4 562.8h0M1429.1 574.2h0M1429.4 584.4h0M1428.6 593.1h0M1427.9 603.2h0M1429.2 613.8h0M1427.5 622.9h0M1429 633.7h0M1430.9 642.7h0M1429.2 652.1h0M1429 663.1h0M1430 672.8h0M1430.1 682h0M1428.8 692.3h0M1429.2 701.5h0M1429.2 710h0M1430 719.5h0M1428.7 729.3h0M1115.5 56.9h0M1116.1 66.9h0M1116.7 75.4h0M1112.4 86h0M1114 97.3h0M1109.5 107.8h0M1116.1 118.9h0M1113.4 130.1h0M1152.6 140.7h0M1231.6 151.9h0M1273.7 162.3h0M1285.9 172h0M1313.5 180.8h0M1351.6 190.2h0M1341.4 199.9h0M1346.9 208.4h0M1362.8 219.3h0M1377.4 229.1h0M1385.1 238.2h0M1402.8 248.6h0M1404.8 259.1h0M1413.9 269.5h0M1415.1 280.9h0M1415.5 289.7h0M1415.9 300.1h0M1404.7 309.4h0M1407.4 320.1h0M1414.2 331.5h0M1410.4 342.9h0M1416.1 353h0M1418.3 363.3h0M1418.4 372.4h0M1419 383.7h0M1419.9 394.6h0M1420.9 405.3h0M1422.2 415.5h0M1420.5 426.3h0M1421 435.1h0M1421.2 445.6h0M1420.8 455h0M1422.9 465.3h0M1425.2 476h0M1425.6 486.4h0M1426 497.7h0M1426.5 509h0M1426.8 519.8h0M1425 528.7h0M1425.3 538.7h0M1426.3 549h0M1427.1 559.9h0M1428.8 568.4h0M1429.3 579.5h0M1429.8 589.4h0M1430.3 598.5h0M1430.3 607.6h0M1431.2 618.4h0M1429.2 628.3h0M1428.7 637.4h0M1428.5 646.3h0M1429.2 657.4h0M1429.7 667.1h0M1430 676h0M1431 685.5h0M1432 695.7h0M1431.5 705.9h0M1432.1 716.1h0M1431.8 726.2h0M1115.6 59.2h0M1111.7 68.3h0M1108.7 77.9h0M1114.2 87.1h0M1109.5 97.4h0M1106.5 108.2h0M1110.2 119.1h0M1117.8 129.3h0M1149.7 138.7h0M1210.8 149.6h0M1255.9 160.1h0M1281.1 168.7h0M1272.4 180.1h0M1303.9 190.6h0M1338.6 199.5h0M1343.1 208.7h0M1372.5 219.8h0M1377.9 229.9h0M1384.3 239.9h0M1404.8 249h0M1410.8 259h0M1411.9 269h0M1413.7 279.6h0M1408.2 290.7h0M1405.6 300h0M1406.7 311h0M1406.8 321.1h0M1409.7 331.6h0M1413.2 342.6h0M1417.9 352.1h0M1418.3 363.1h0M1417.9 374.1h0M1418.8 383.1h0M1419.8 393.8h0M1420.6 402.6h0M1414.4 412.1h0M1415.8 423.1h0M1419.9 431.7h0M1422.8 440.7h0M1423.2 451.1h0M1421.7 461.3h0M1424.9 470.4h0M1425.4 480.7h0M1423.2 491.2h0M1424.4 501h0M1424.9 509.7h0M1422.6 519.9h0M1422 528.4h0M1425.9 538.6h0M1427.1 547.5h0M1426 559h0M1426.7 569.7h0M1428 579.2h0M1429.6 589.5h0M1429.3 600.9h0M1430.3 611.9h0M1430.4 622.3h0M1429.2 632.8h0M1428.7 641.6h0M1428.8 650.5h0M1428.3 661.6h0M1431.5 672.3h0M1431.8 681.1h0M1431.6 692.4h0M1430.6 703.2h0M1430.6 712.7h0M1430.7 722.4h0M1429.6 732.5h0M1103.5 59.9h0M1105.6 69.4h0M1109.2 78.7h0M1111 88.2h0M1103.4 97.6h0M1106 106.2h0M1101.6 116.8h0M1098.3 127.1h0M1098.6 136.5h0M1116.1 145.9h0M1155.9 156h0M1216.1 166.3h0M1253.9 177.2h0M1288.5 187.2h0M1306.2 196.2h0M1323 206.3h0M1340.5 215.7h0M1350 226.2h0M1371.5 236.3h0M1376.8 245.5h0M1383.5 255.2h0M1384.5 263.8h0M1399.7 274.4h0M1406.6 283.1h0M1407.3 291.9h0M1407.8 302.2h0M1406.9 311.7h0M1405 322.1h0M1403.7 331.6h0M1404.9 342.2h0M1406.5 352.1h0M1410.5 363.2h0M1408.1 374.4h0M1415.1 383.4h0M1413.8 394.3h0M1415.7 404.7h0M1414.6 415h0M1412.7 424h0M1414.7 433.9h0M1419.6 442.6h0M1412.3 451.2h0M1416.4 461.7h0M1414.6 471.5h0M1419.8 481.1h0M1418 491.3h0M1422.8 501.8h0M1420.3 512.7h0M1420.6 523.6h0M1422 533.4h0M1421.1 544.3h0M1421.8 555.4h0M1424.5 565.3h0M1425.3 576h0M1426.5 585.4h0M1426.8 594.6h0M1428.2 605.9h0M1430.1 616.5h0M1426.4 627.6h0M1427.7 638.6h0M1426.3 649h0M1426.1 659.3h0M1100 55.3h0M1104.5 65.3h0M1107.6 74h0M1107.1 84.7h0M1108.7 95.1h0M1103.6 104.1h0M1100.7 113.2h0M1101.7 122.2h0M1100.1 132.1h0M1100.3 141.5h0M1110 151.4h0M1146.7 160.2h0M1140.7 169.7h0M1251.9 180.8h0M1299.9 191.4h0M1331.8 200.9h0M1330.4 210.2h0M1346.8 220.1h0M1346.8 231.2h0M1370 240.2h0M1378.9 250.5h0M1384.3 260.2h0M1394.1 270h0M1401 280.8h0M1397.7 290h0M1406.5 299.1h0M1407.6 308.2h0M1409.4 319.2h0M1402.5 329h0M1400.8 339.5h0M1406.5 350.8h0M1403.1 360.1h0M1407.6 369h0M1409.6 377.8h0M1412.4 386.3h0M1415.5 395.3h0M1418.6 404.5h0M1417.8 414.5h0M1415.2 425.7h0M1417.4 435.7h0M1411.2 445h0M1414.2 455.2h0M1415.4 464h0M1415.5 474.1h0M1416.8 483.5h0M1420.9 493.2h0M1423.9 502.4h0M1423.8 512.4h0M1419.5 522.1h0M1421.8 531.2h0M1422.9 542.2h0M1423 550.9h0M1422.7 561.7h0M1421.2 570.3h0M1423.9 579h0M1425.2 590.4h0M1427.1 600.5h0M1428 611h0M1427.8 622.4h0M1425.3 631.8h0M1426 642.9h0M1426.5 653.8h0M1425.3 664h0M1426 673.2h0M1425.9 682.9h0M1427.8 692.4h0M1428.5 702.4h0M1429.3 711.8h0M1429 721.7h0M1430.1 732.7h0M1103.1 54.3h0M1104.6 64.4h0M1105.1 74.4h0M1102.4 84.4h0M1098 94.5h0M1101.8 103.8h0M1099.8 114.5h0M1099.8 124h0M1110.7 133.3h0M1132 143.9h0M1177.7 153.6h0M1169.4 164.5h0M1195.6 175.8h0M1234.7 184.7h0M1233.1 195.9h0M1289.2 206.4h0M1316.5 217.5h0M1343.2 228.1h0M1351 238h0M1379.2 246.5h0M1388.6 257.7h0M1398.2 266.4h0M1393.9 275.2h0M1395.6 285.8h0M1394 295.1h0M1386.6 303.9h0M1393.6 312.7h0M1389.2 324h0M1393.3 333.8h0M1397.4 342.9h0M1402.6 352.2h0M1401.9 360.9h0M1408.9 370.7h0M1403.8 379.9h0M1414.6 388.5h0M1409.8 398.2h0M1412.5 407.5h0M1409.6 416.7h0M1412.9 426.9h0M1411.6 438.1h0M1413 449.5h0M1416.1 458.7h0M1419.8 467.9h0M1418.5 476.4h0M1420.4 485.6h0M1418.8 495.3h0M1422.1 506.2h0M1417.8 516.6h0M1418 527h0M1418 536.4h0M1421.3 547h0M1422.8 556.1h0M1422.9 564.8h0M1424.5 574.6h0M1422 583.9h0M1427.8 593.3h0M1427.8 601.8h0M1425.8 612.4h0M1425.6 623.5h0M1426.6 632.5h0M1425.1 643.5h0M1426.4 655h0M1426.2 665.2h0M1426.6 676h0M1427 686.6h0M1428.6 695.9h0M1427.5 704.4h0M1429 713h0M1428.5 721.9h0M1428.9 731.3h0M1428 742.3h0M1427.6 753h0M1427.9 761.6h0M1429.1 772.7h0M1429.5 783h0M1430 792.5h0M1430.8 801.5h0M1111.2 54.4h0M1108.7 64.2h0M1112.3 74.2h0M1113.3 83.6h0M1109.7 92.2h0M1117.2 103h0M1117.1 114.3h0M1117.6 124h0M1125.3 134.9h0M1161.4 146h0M1194.2 155h0M1212.8 163.8h0M1241.5 174.6h0M1301.8 185.8h0M1321.9 194.7h0M1345.9 204.6h0M1372.4 213.5h0M1375.1 222.6h0M1396.3 232.8h0M1394.5 243.1h0M1396.5 254.1h0M1404.1 263.3h0M1399.2 274.6h0M1405.7 283.8h0M1408.5 294.7h0M1410.2 304.7h0M1417 316.2h0M1417 325.1h0M1413.8 334.2h0M1417.5 343.4h0M1415.6 352h0M1414 363.5h0M1416.2 374.4h0M1416.3 385.4h0M1416.2 396.2h0M1421 405.9h0M1421.3 416h0M1423.1 425.1h0M1423.5 434.4h0M1423.2 444.1h0M1421.2 454.4h0M1423.5 465.8h0M1422.1 474.7h0M1422.4 485.1h0M1423.9 496.3h0M1424.6 507h0M1424.7 517.2h0M1426.5 526.2h0M1427.4 536.1h0M1427 546.6h0M1427.5 555.6h0M1427.1 565.8h0M1426.5 577.3h0M1426.4 587.3h0M1426.9 598.3h0M1430 609.5h0M1428.4 618.3h0M1430.6 627.3h0M1429.4 638.6h0M1431.2 650.1h0M1430.5 660.3h0M1429.1 671.8h0M1430.7 681.5h0M1430.8 692.9h0M1430 703.5h0M1428.8 714.9h0M1431.3 723.9h0M1430.8 735.1h0M1115.7 59.8h0M1114.4 70.2h0M1117 81.4h0M1117.8 91.6h0M1116 102.1h0M1113.4 112.4h0M1106.8 120.9h0M1107 131.2h0M1141.6 140.8h0M1207.5 149.6h0M1264.3 159h0M1293.5 168.5h0M1335.6 178.3h0M1329.1 189.4h0M1334.1 198.9h0M1345.5 209h0M1363.2 218.5h0M1370.2 229.8h0M1388.6 239.6h0M1397.7 249.1h0M1409 259.6h0M1412.3 269.6h0M1410.5 278.9h0M1412.9 289h0M1412.6 300.3h0M1411.6 311.1h0M1410.1 320.3h0M1413.6 330.8h0M1412 339.5h0M1412.6 348.6h0M1417.8 357.3h0M1418.4 367.6h0M1418.5 376.2h0M1419.2 386h0M1420 396.2h0M1420.9 405.3h0M1419.1 414.8h0M1421.8 424.8h0M1422.2 434.5h0M1420.8 443.6h0M1422.2 453h0M1424.6 462.9h0M1424.4 473.9h0M1425.5 483.8h0M1425.9 495h0M1426.4 506.1h0M1426.4 516h0M1425.9 525.3h0M1426 534.3h0M1427.7 543.4h0M1427.4 553.3h0M1427.2 562.5h0M1426.2 571.6h0M1427.6 583h0M1428.4 592.3h0M1430.5 603.1h0M1431 612.1h0M1430.2 621.2h0M1429.2 630.6h0M1428.1 639.5h0M1429.9 648.3h0M1428 657.6h0M1429.2 668.5h0M1430 678h0M1429.8 687.1h0M1431.7 697.3h0M1430.6 706.6h0M1432.6 717.8h0M1431.1 727.7h0M1097.5 59.7h0M1103.8 70.7h0M1099.6 80h0M1096.8 89.8h0M1096.9 99.5h0M1097 108.8h0M1098 118.6h0M1103 128.5h0M1102.9 138.4h0M1157.8 149.2h0M1143.3 159h0M1154.8 169.2h0M1228 178h0M1213.7 187.1h0M1279.3 198h0M1300.8 209.4h0M1322.8 218.8h0M1344 227.8h0M1371 239.2h0M1382.3 248.7h0M1389.9 259.4h0M1392.2 270.5h0M1387.4 280.2h0M1390.7 290.3h0M1389.9 300.2h0M1391.8 309.4h0M1398.8 320.2h0M1400 330.7h0M1401 340.4h0M1403.9 350.9h0M1409.3 362.1h0M1409.7 372.3h0M1409.8 381.2h0M1411.8 392.7h0M1408.3 402.6h0M1408.7 413.6h0M1409.7 422.2h0M1409.9 431.8h0M1414.9 442.7h0M1414.2 452.5h0M1414 462h0M1416.6 471.3h0M1417.6 480.4h0M1418.5 489.9h0M1416 498.4h0M1416.8 508.4h0M1417.7 518.7h0M1417.8 528.3h0M1419.4 537.4h0M1421.6 548.3h0M1421.8 557.4h0M1423.2 566.8h0M1422.3 577.1h0M1424.4 588.3h0M1424.3 597.5h0M1424.7 606.6h0M1423.8 616.5h0M1423.8 626.2h0M1424.2 636h0M1424.3 645.7h0M1426.4 654.6h0M1427.5 666.1h0M1426.7 674.9h0M1427.7 685.7h0M1427.4 696.8h0M1426.6 705.6h0M1427.1 717.1h0M1426.8 726.3h0M1426.7 735.2h0M1427.2 746h0M1427.7 756.8h0M1427.5 768h0M1429.3 779.2h0M1429.7 789.2h0M1109.1 55.8h0M1107.1 64.7h0M1099.4 74.6h0M1109 83.6h0M1103.1 94.2h0M1105.9 105.1h0M1109.9 114h0M1112.1 124.9h0M1122 135.7h0M1154.4 147h0M1194.3 157.5h0M1199 167.1h0M1238.2 177h0M1251.6 186.8h0M1304.9 197.3h0M1332 207.6h0M1348.2 217.8h0M1371.7 228.4h0M1391.5 239.3h0M1407.3 248.7h0M1412.3 260.2h0M1393.4 271.6h0M1394 282.2h0M1396.5 292.2h0M1403 300.9h0M1404.7 309.8h0M1408.2 321.1h0M1409.4 330.4h0M1414.3 340.3h0M1413.4 351.4h0M1417.1 362.5h0M1418 373.8h0M1417.1 382.3h0M1412.7 391.9h0M1413.1 403.2h0M1415.2 412.2h0M1415.6 423.6h0M1418.8 432.8h0M1422.7 442.9h0M1421.8 454.1h0M1423.7 463h0M1422.8 474.4h0M1422.8 484h0M1420.3 494.1h0M1421.2 505.1h0M1420 515.5h0M1424 524.2h0M1423.4 535.2h0M1425.5 545.7h0M1426.8 555.6h0M1428.7 566.7h0M1427.6 577.2h0M1428.2 588.7h0M1426.9 598h0M1424.6 608h0M1426.1 617.6h0M1427.8 627.7h0M1426.9 638.1h0M1427.8 649.3h0M1429.9 659.6h0M1431 668.8h0M1430.6 679.1h0M1429.8 689.8h0M1428.4 699.7h0M1428.9 709.6h0M1430.4 719h0M1430 728.1h0M1430.4 737.2h0M1428.2 747.6h0M1430.4 757.9h0M1429.9 769.4h0M1430.4 779.7h0M1430.4 788.7h0M1430.7 798.2h0M1430.9 808.3h0M1112.3 53.8h0M1116 65.2h0M1116.6 74h0M1117.3 85.4h0M1118.3 95.3h0M1118.2 104.9h0M1116.7 115.3h0M1108.5 126.5h0M1122.2 136h0M1173.4 144.6h0M1208.5 153.8h0M1253.1 164.6h0M1311.5 173.3h0M1329 182.7h0M1342.1 193.5h0M1358.6 203.8h0M1365.7 212.7h0M1377.6 222.1h0M1368.4 231h0M1390.5 240.5h0M1398.7 250.9h0M1408.5 261.1h0M1413.1 272.5h0M1413.4 281.4h0M1413.6 291h0M1415.1 300.8h0M1414.9 311.4h0M1413.5 322.7h0M1413.1 331.7h0M1414.8 342.8h0M1416.4 352.9h0M1414.2 362.5h0M1413.9 371.2h0M1418.7 380.5h0M1419.5 389.8h0M1420.3 399.9h0M1419.6 409.5h0M1422.8 420.8h0M1423.4 430.9h0M1423.1 442.3h0M1424.2 452.3h0M1423.2 462.2h0M1422.3 473.4h0M1425.4 483.3h0M1425.8 491.9h0M1426.2 501.3h0M1426.6 512.5h0M1426.9 521.7h0M1427.3 533.1h0M1427.7 543.1h0M1425.9 554h0M1426.6 563.2h0M1426.3 573.9h0M1428.8 584.3h0M1430.1 595.2h0M1430.7 606.4h0M1430.7 616.1h0M1431.1 625.2h0M1431 636.4h0M1430.5 647.3h0M1430.2 657.4h0M1429.3 668h0M1430 678.1h0M1428.9 688.6h0M1097.5 59.2h0M1103.7 69h0M1098.3 80.5h0M1103.8 91.4h0M1110.3 101.5h0M1105.4 111.2h0M1101.3 122.6h0M1098.7 133.6h0M1111.9 142.1h0M1104.5 151.8h0M1109.9 162.3h0M1151.9 171.5h0M1208.2 182.4h0M1275.6 191.1h0M1310 201.8h0M1330.2 210.4h0M1348.3 220.5h0M1345.2 231.6h0M1372.3 242.8h0M1375.5 254.2h0M1382.9 263.4h0M1389.7 274.6h0M1399.3 285.1h0M1402.9 294.5h0M1403.2 305.8h0M1400.6 316.4h0M1408.4 326.2h0M1400.6 335h0M1406.4 345.3h0M1404.9 356h0M1405.6 367.4h0M1409.1 378.6h0M1410.1 390h0M1415.7 399.3h0M1411.2 409.7h0M1418.5 420.2h0M1414.3 431h0M1414.4 441.5h0M1417 452.6h0M1413.7 462.2h0M1416.7 472h0M1417.7 480.9h0M1416.5 491.7h0M1416.8 500.8h0M1419.2 511h0M1421.4 519.8h0M1420.9 528.6h0M1425.3 537.8h0M1422.4 547.5h0M1421 558.6h0M1423.4 570h0M1422.8 580.4h0M1423.2 590.7h0M1423.1 599.4h0M1426.1 609.3h0M1426.5 620.5h0M1424.1 629.1h0M1428 640.5h0M1427.5 650.8h0M1426 662.3h0M1425 671.6h0M1426.2 681.1h0M1425.6 691h0M1427.5 700.6h0M1427.4 709.2h0M1427.3 717.9h0M1427.3 727.4h0M1429.7 736.9h0M1429.2 747.6h0M1429.8 757.6h0M1429.3 767.9h0M1428.1 777.3h0M1428.6 786.9h0M1115.6 58.1h0M1113.2 69.4h0M1112.2 78.3h0M1117.2 89h0M1117.6 100.2h0M1116 109.3h0M1105.6 119.8h0M1109.5 130.7h0M1139.8 141.4h0M1170.2 150.3h0M1229.7 161.7h0M1256.2 172.3h0M1334.5 181.4h0M1343.6 192.3h0M1342 201.9h0M1355.1 211.6h0M1361.4 221.1h0M1371.7 230.9h0M1376.6 241.7h0M1401.6 252.8h0M1394 262.5h0M1400.9 273.6h0M1407.3 284.7h0M1413 295.3h0M1416.4 305.3h0M1411 315.3h0M1414.5 324.1h0M1413.8 332.6h0M1410.4 343.9h0M1414 353.1h0M1411 361.6h0M1415.2 370.2h0M1417 380.1h0M1419.5 389.8h0M1420.3 399.3h0M1421.4 408.8h0M1421.8 418.8h0M1420.9 429.8h0M1422.7 438.3h0M1417.5 449.3h0M1421.1 459.7h0M1423.8 469.1h0M1422.2 478.1h0M1423.7 487.4h0M1426 497.8h0M1426.5 508.5h0M1426.8 518.7h0M1427.2 529.1h0M1424.4 538.2h0M1426 548.7h0M1425.5 559.9h0M1426.7 570.9h0M1425.3 581.2h0M1427.6 592h0M1429.8 602.7h0M1428.8 611.6h0M1430 621h0M1429.5 632.2h0M1430.1 642.3h0M1429.5 652.6h0M1428.8 662.9h0M1429.4 673.6h0M1429.1 685.1h0M1430.7 696.2h0M1430.3 705.1h0M1431.5 714.3h0M1431.8 724.2h0M1430.8 733.7h0M1115.4 55.3h0M1116 64.2h0M1116.4 75h0M1113 84.5h0M1118.1 93.7h0M1119.1 104.6h0M1117.5 114.5h0M1119.6 126h0M1137.1 136.1h0M1216.4 146.8h0M1261.9 158.3h0M1262.1 169.2h0M1275.9 179h0M1297.1 188.1h0M1321.6 196.9h0M1346.9 206.3h0M1376.4 217.2h0M1391.5 227.9h0M1400.4 237.2h0M1406.1 246.8h0M1410.5 256.7h0M1411.7 265.2h0M1413.4 276.4h0M1411.6 286.9h0M1409.8 295.6h0M1408.5 306.7h0M1417 316.5h0M1417 325.3h0M1417 334.5h0M1417.6 345.4h0M1418.1 355.8h0M1418.3 366.1h0M1418.5 374.9h0M1419.1 385h0M1418.4 393.8h0M1418.2 404.2h0M1419.6 413.9h0M1422.3 423.9h0M1423.5 434.4h0M1423.9 445.1h0M1424.3 454.3h0M1423.7 464.4h0M1425.1 473.8h0M1425.5 484.7h0M1425.9 495.4h0M1424.4 504.4h0M1424 514.7h0M1426 523.3h0M1427.3 533h0M1427.7 543h0M1428 552.3h0M1428.4 562h0M1427.8 572.8h0M1429.4 581.9h0M1430 592.7h0M1428.1 602.5h0M1430 611.4h0M1428.6 621.8h0M1429.1 630.4h0M1430 641.6h0M1431.1 651.8h0M1429.9 660.6h0M1431.6 672.1h0M1431.9 681.4h0M1431.4 692.7h0M1432 704.1h0M1430.4 714h0M1429.3 725.1h0M1430.1 733.9h0M1097.5 56.9h0M1097.3 68.3h0M1097 77.3h0M1099.7 86.5h0M1102.3 96.8h0M1097.6 105.8h0M1100.8 115.7h0M1102.9 124.7h0M1107.1 133.8h0M1129.2 142.9h0M1141.5 152.2h0M1133.2 161.5h0M1139.2 172.1h0M1202.7 182.9h0M1255.5 193.2h0M1295.5 203.6h0M1329.7 213.9h0M1343.1 223.8h0M1363.6 235.2h0M1366.4 246.1h0M1389.6 257.3h0M1390.8 266.9h0M1389.9 277.5h0M1391 286.9h0M1389.3 296.5h0M1392 305.1h0M1393.3 313.7h0M1404.8 322.3h0M1405.3 333.2h0M1404.4 343.9h0M1408.1 353.8h0M1407.9 363.3h0M1405.7 372.7h0M1405.2 383.1h0M1409.3 392.8h0M1407.5 401.6h0M1409.6 411h0M1413.4 422.1h0M1416.1 432.5h0M1417.7 442.9h0M1417.6 453.4h0M1414.1 464.6h0M1416.1 475.6h0M1417.2 486.2h0M1415.2 496.6h0M1415.7 507.3h0M1417.5 516.9h0M1421.4 527.9h0M1420.1 536.5h0M1423 547.1h0M1424.3 556.7h0M1424.1 567.1h0M1421.5 578.3h0M1422.1 587.9h0M1422.6 598.4h0M1422.5 607h0M1423.3 617h0M1424.9 628.3h0M1425.4 639.4h0M1426.9 650.7h0M1426.2 659.6h0M1103.1 55.3h0M1103.6 66.4h0M1106.5 75.4h0M1104.4 86.4h0M1108.7 97.7h0M1108 107.4h0M1108.4 116.5h0M1102.5 126.4h0M1112.8 135.6h0M1127.6 144.3h0M1147.8 154.9h0M1158.7 165.9h0M1197.4 175.6h0M1254.3 186.1h0M1284 197.4h0M1320.5 207.8h0M1340.7 218.1h0M1352.8 227.3h0M1369.3 238.4h0M1363.7 247.8h0M1369.4 257.8h0M1372.5 267.8h0M1378.6 278.9h0M1378.4 288.4h0M1374.3 299.4h0M1391 309.7h0M1396.1 318.6h0M1398.6 328.9h0M1404.2 340h0M1403.1 349.4h0M1403.3 360.8h0M1401.6 370.1h0M1413.1 379.6h0M1412.7 388.5h0M1412.2 398.9h0M1416.8 408.7h0M1417.7 419.7h0M1418.5 428.4h0M1418.2 437.1h0M1416.9 446.6h0M1417.8 455.8h0M1417.3 465.3h0M1414.4 476.3h0M1422.3 485.5h0M1419.7 494.2h0M1421.4 504.8h0M1418.6 516.1h0M1424.5 527h0M1424.2 535.6h0M1424.2 545.4h0M1425.3 556.6h0M1424.2 565.2h0M1424.4 574.9h0M1422.9 584.4h0M1424.7 595.4h0M1426.7 606.7h0M1427.4 618.1h0M1427.4 628.6h0M1428.5 640h0M1428.5 650.8h0M1428.3 660.5h0M1427.2 671.7h0M1427.4 680.9h0M1429.1 689.9h0M1426.9 700h0M1428.5 709.6h0M1428.2 719.4h0M1428.8 729.9h0M1430.4 741.4h0M1429.8 750.7h0M1428.9 761.3h0M1429.7 771.2h0M1429.8 782.6h0M1428.7 792.1h0M1429.3 800.8h0M1429.7 809.9h0M1097.6 53.6h0M1098.7 63.4h0M1101.6 72.9h0M1099.7 84h0M1108.6 92.6h0M1101.6 102.4h0M1097.6 113.3h0M1097.2 124.6h0M1098.2 134.5h0M1101.7 144.9h0M1109.2 155.1h0M1112.5 163.7h0M1170.6 172.7h0M1235.8 183.3h0M1283.6 192.4h0M1318.7 202.4h0M1313.4 213.4h0M1348.4 224.4h0M1346.6 233.9h0M1362.6 244.8h0M1372.7 254.3h0M1379.6 265.4h0M1390.1 274.1h0M1397.7 285.5h0M1397.7 295h0M1397.1 305.9h0M1405.1 316.5h0M1404 326.4h0M1401.2 335h0M1404.3 346.2h0M1404 356h0M1406.1 365.4h0M1405.2 376.5h0M1410.4 387.5h0M1411.1 398.2h0M1415.3 406.9h0M1414.5 418.1h0M1413.9 428.4h0M1413.2 439.8h0M1413 450.7h0M1412.7 460.2h0M1414.8 470.9h0M1417.2 481.1h0M1418.7 491.4h0M1417.8 501.2h0M1419.7 511.6h0M1421 522.4h0M1421.5 533.8h0M1418.4 543.1h0M1419.8 554.4h0M1420.6 563.1h0M1420.6 573.2h0M1421.3 584.2h0M1422.9 594.7h0M1425 606.1h0M1426.3 615h0M1427 623.6h0M1426.2 634.4h0M1426.4 643.8h0M1424.4 653.4h0M1425.4 663.4h0M1426.3 673.1h0M1426.7 683.5h0M1427.6 693.4h0M1426.3 702.6h0M1427.8 713.1h0M1429.1 722.1h0M1429.5 730.7h0M1428.8 741h0M1430.2 749.7h0M1428.5 760.6h0M1427.6 771.4h0M1429.1 782.8h0M1429 794.1h0M1428.7 803h0M1115.5 57h0M1112 66.5h0M1114.9 75.2h0M1114.6 85.8h0M1118.2 94.4h0M1117.9 103.6h0M1119.1 113.1h0M1122 124.6h0M1120.7 133.1h0M1172 143.5h0M1206.1 154.8h0M1214.7 164.5h0M1235.4 173.5h0M1321.2 182.7h0M1327.9 193.1h0M1363 203.5h0M1367.9 214.6h0M1387.5 224.6h0M1398.9 234.7h0M1404.9 244.8h0M1410.6 254.3h0M1412.9 264h0M1406.2 274.1h0M1403.8 283.3h0M1412.6 293.7h0M1416.3 304.4h0M1413.8 314h0M1417 325.4h0M1417 334.4h0M1417.5 344h0M1418 352.8h0M1418.3 363.8h0M1418.4 372.5h0M1419 383.2h0M1417.6 394.2h0M1420.8 404.4h0M1422.1 415.2h0M1423.1 424.1h0M1423.4 433.1h0M1423.8 442h0M1421.7 451.2h0M1424.5 460.9h0M1423.6 471.3h0M1424.3 481.5h0M1424 492h0M1424.7 501.6h0M1426.4 511h0M1424.8 520.8h0M1427.3 531.3h0M1427.6 540.5h0M1427.9 550.2h0M1428.4 560.3h0M1428.8 569.4h0M1428.3 578.8h0M1428.8 587.5h0M1428.4 598.2h0M1428.7 607.4h0M1427.7 616.2h0M1431.4 626.4h0M1430.5 637.7h0M1431.6 648.7h0M1431.4 657.7h0M1432.4 668.3h0M1431.1 677.3h0M1430.3 687.3h0M1430.5 697.7h0M1429.3 707.1h0M1429.5 718.3h0M1430 728.9h0M1106.9 57.5h0M1113.3 67.7h0M1107.5 78.2h0M1116 88.6h0M1115.6 97.2h0M1118 106.7h0M1119.2 116.9h0M1120.9 128.3h0M1147.8 137.6h0M1182.9 146.5h0M1195.1 158h0M1248.5 167h0M1277.5 175.6h0M1295.9 186.1h0M1360 197.1h0M1357.7 206.6h0M1374.2 216.7h0M1385.9 226.1h0M1398.4 237.3h0M1407.2 248.6h0M1407.3 260h0M1408.3 268.7h0M1406.6 279.7h0M1412.8 291h0M1413 301.3h0M1413.9 311.4h0M1416.6 322.4h0M1417 333.3h0M1417.6 344.6h0M1415.8 354.2h0M1418.3 363.7h0M1415.7 374.7h0M1419.1 384.8h0M1418.2 396.2h0M1421.2 407.4h0M1422.4 418.5h0M1423.3 429.4h0M1423.7 438.7h0M1424.1 449.3h0M1422.1 460.2h0M1424.3 470.7h0M1423.3 482h0M1422.5 490.8h0M1423.7 501h0M1425.2 510.7h0M1427 522h0M1427.3 532h0M1427 543.1h0M1428 553.4h0M1428.5 563.7h0M1428.4 572.7h0M1428.4 582.7h0M1428.5 591.2h0M1427.7 601.4h0M1430.2 611.9h0M1428.6 620.8h0M1429.2 630.4h0M1430.1 641h0M1431.8 650.5h0M1429.7 659.6h0M1430.7 670.8h0M1431 681h0M1429.8 692.4h0M1428.2 702.5h0M1430 711.2h0M1428.7 721.2h0M1430.8 730.8h0M1113.6 55.5h0M1111.8 67h0M1109.9 77.6h0M1108.1 88h0M1116.3 98.5h0M1119.8 107.2h0M1115.8 116.7h0M1113.1 128.1h0M1144.8 139h0M1212.2 148.9h0M1227 157.8h0M1240.1 168.3h0M1266.6 177h0M1300.9 187.6h0M1320.6 198.3h0M1344.6 207.3h0M1355.4 218.5h0M1374.7 227.3h0M1399.5 238.2h0M1397.1 247.9h0M1411.7 256.7h0M1406.4 266.1h0M1410.1 275h0M1410.4 284.4h0M1412.1 293.3h0M1410.4 303.4h0M1409.9 314.1h0M1408.6 322.7h0M1413.1 331.2h0M1417.4 341.1h0M1418 352.6h0M1418.2 361.1h0M1417.4 370.5h0M1417.7 380.1h0M1419.6 391.5h0M1417 401h0M1416.2 409.6h0M1418.8 420.8h0M1422.5 430.9h0M1422.1 439.6h0M1424.2 450.7h0M1424.6 461.5h0M1424.4 470.6h0M1422.1 482h0M1425.4 490.5h0M1423.1 500.9h0M1422.5 510.8h0M1424.1 520.9h0M1424.3 531.5h0M1427.4 541.3h0M1428 552.6h0M1428.3 563.3h0M1429 572.6h0M1429.4 581.8h0M1427.2 591.2h0M1429 602.1h0M1427.2 612.8h0M1428.2 623.4h0M1429.5 634h0M1429.5 643h0M1430.2 654h0M1431 663.7h0M1432.2 675.1h0M1430.4 686.1h0M1429.7 696h0M1431.4 705.5h0M1429.8 714.2h0M1430 723.4h0M1428.6 732.4h0M1101.2 57.6h0M1101 68.8h0M1102.6 79.7h0M1111 91.1h0M1112.3 101h0M1116.9 110.2h0M1107.9 121.3h0M1105.4 130.8h0M1131.1 141.1h0M1166.4 151.1h0M1150.4 160.5h0M1176.2 170.6h0M1191.4 180.5h0M1287.5 189.6h0M1333.9 198.5h0M1351.1 209.1h0M1351.8 217.8h0M1363.6 229.1h0M1378.6 238.3h0M1385.1 248.8h0M1390.8 258.2h0M1391.6 267.7h0M1391.8 276.8h0M1390.2 286h0M1402.9 296.4h0M1407.9 305.7h0M1407 315.4h0M1407.3 324.8h0M1408.9 334.2h0M1411.3 343.6h0M1410.3 353.6h0M1406.8 363.6h0M1408.6 373.4h0M1412.2 384.1h0M1413.1 392.9h0M1415.3 401.5h0M1416 411.2h0M1416.6 420.8h0M1417 431.6h0M1418.7 442.3h0M1419.4 453.6h0M1420.7 464.8h0M1417.1 476.2h0M1417.3 487.5h0M1419.8 497.5h0M1418 506.2h0M1424 515.3h0M1425.2 524.1h0M1426.4 533.5h0M1426 543.1h0M1423.9 552.6h0M1425.3 562.4h0M1425.5 573.8h0M1423.8 582.6h0M1423.8 593.4h0M1425.8 603.5h0M1427.1 613.6h0M1427.5 624.7h0M1426.1 633.6h0M1429 643.8h0M1429 653.7h0M1114.9 57.1h0M1114.3 67.6h0M1112 78.7h0M1114.1 87.9h0M1112.1 97.4h0M1108.9 108.3h0M1112.9 118.2h0M1114.3 128.5h0M1132 137.1h0M1205.9 147.9h0M1241 157.6h0M1246.2 168.3h0M1289.8 177.1h0M1287.4 187.9h0M1321.7 197.5h0M1338.1 207.7h0M1365.5 218.9h0M1367.2 228.2h0M1378.1 237.9h0M1393.5 248.6h0M1397.7 258h0M1411.6 267.6h0M1405.6 276.8h0M1405.1 285.7h0M1410.7 295.7h0M1411.1 304.6h0M1402.4 315.2h0M1409.2 323.7h0M1409.8 334.2h0M1413.2 344.2h0M1414.8 353h0M1418.3 363.8h0M1416.1 375h0M1419 383.8h0M1419.8 393.5h0M1417.8 404.9h0M1417.3 414.7h0M1418.2 423.4h0M1418.5 433.7h0M1419.4 445h0M1418.6 454.1h0M1424.1 463h0M1423.4 472h0M1425.4 481.5h0M1425.8 492.3h0M1424.1 501.3h0M1423.6 510.2h0M1424.5 519.5h0M1422.7 528.7h0M1423.8 540h0M1427.4 549.7h0M1427 559.9h0M1428.9 571.3h0M1429.4 582.1h0M1428.7 591.7h0M1428.9 602.1h0M1428.6 611.2h0M1427.8 620h0M1428 630.1h0M1427.9 640.2h0M1429.2 650.7h0M1430.4 660.7h0M1429.2 670h0M1430.2 679.7h0M1431.6 688.9h0M1431.6 698.1h0M1431.4 708.8h0M1429.8 719.5h0M1430.2 729.2h0M1098.8 54.2h0M1097.3 65.5h0M1099.5 76.5h0M1098 87.3h0M1102 97.7h0M1105 106.7h0M1100.4 116.1h0M1102.7 126.4h0M1105.1 137.7h0M1110.6 147.2h0M1121 157h0M1112 165.7h0M1140.7 176.8h0M1226 186h0M1283.2 196.7h0M1310.3 205.3h0M1337.4 216.1h0M1354.9 226.5h0M1364.1 236.7h0M1368.4 248h0M1380.6 258.7h0M1380.9 267.7h0M1389.6 278.8h0M1393.8 289.9h0M1396.3 298.9h0M1404.3 307.6h0M1402.9 318.9h0M1405 327.4h0M1407.3 336h0M1405.7 346.1h0M1406.5 356.6h0M1406.2 365.4h0M1407.3 375.4h0M1409.9 384.5h0M1406.9 395.9h0M1411.1 405h0M1416.3 413.7h0M1416.6 423h0M1413.2 433.9h0M1415.5 442.5h0M1417.7 451.4h0M1415.9 460.7h0M1416 472h0M1415.5 482.4h0M1414.7 491.6h0M1417.2 502.2h0M1420.6 513.2h0M1417.9 522h0M1423.7 530.6h0M1423.4 540.1h0M1422.8 550.1h0M1422.4 559.6h0M1422.2 568.7h0M1420.9 577.3h0M1422.9 588.3h0M1424.4 598h0M1424 608.4h0M1424.7 618.8h0M1426.8 629.7h0M1426.2 639.4h0M1427.2 649.2h0M1427.3 660h0M1427.2 671.2h0M1425.9 680.9h0M1427.3 691.2h0M1427.1 701.6h0M1426.9 710.8h0M1427.2 719.9h0M1429.1 729.5h0M1429.7 739.7h0M1429 749.5h0M1429.5 758.3h0M1102.6 59.9h0M1106.5 70.4h0M1103.1 79h0M1107.6 90.4h0M1108.3 99.9h0M1104.6 111.2h0M1109.8 120.4h0M1107.9 129.7h0M1126.3 138.2h0M1176.1 148.2h0M1198.6 156.9h0M1207.8 167.2h0M1194.9 176.1h0M1271.2 187.3h0M1298.6 197h0M1320.4 207.9h0M1353.4 218.8h0M1371.9 228.6h0M1383.1 240h0M1392.7 250.3h0M1400.9 258.9h0M1404.9 269.5h0M1401.1 278.6h0M1397.5 287.7h0M1397.9 299h0M1402.7 308h0M1402.7 318.2h0M1407.1 328.3h0M1412 337.4h0M1416.2 348.9h0M1412.7 359.6h0M1413.2 369.8h0M1416.1 379.6h0M1415.2 389h0M1412.7 398h0M1414 407.1h0M1417.1 417.7h0M1418.7 426.3h0M1417.9 435.9h0M1424 446.2h0M1421.6 457.3h0M1421.3 466.1h0M1422.8 475.7h0M1422.7 484.2h0M1419.5 492.9h0M1422.3 502h0M1417.9 513h0M1421.1 522h0M1422.8 532.6h0M1424.9 544h0M1427 553.3h0M1428.5 563.4h0M1426.1 572.9h0M1426.6 581.9h0M1426.1 592.2h0M1426.3 603.3h0M1425.3 613h0M1426.9 624.3h0M1426.8 634.8h0M1427.6 643.6h0M1428.9 653.8h0M1115.7 59.5h0M1111.1 69.7h0M1105.7 79.5h0M1117.5 88.9h0M1118.6 100.3h0M1120.1 109.7h0M1121.4 120.1h0M1121.5 128.7h0M1136.7 137.6h0M1187.6 148.9h0M1210.8 158.7h0M1240.5 168h0M1248.3 178.1h0M1328.9 189.5h0M1352.8 200h0M1375.1 210.7h0M1378.9 219.4h0M1393.5 229.6h0M1401.4 239h0M1404.3 248.5h0M1402.2 257.2h0M1405 265.9h0M1405.8 274.9h0M1405.3 285h0M1408.6 294.4h0M1416.3 304.4h0M1416.9 314h0M1413.7 323.6h0M1417 332.8h0M1417.5 343h0M1418 353.3h0M1416 363.2h0M1416.2 371.9h0M1418.1 382.6h0M1416.8 392.2h0M1420.6 402.8h0M1422 414.1h0M1420.6 422.7h0M1423.5 433.6h0M1423.9 443.5h0M1424.2 453h0M1424.7 463.8h0M1423.2 474.3h0M1424.7 485.7h0M1422.1 494.5h0M1423.1 503.3h0M1426.1 512.9h0M1427 523.6h0M1427.3 534h0M1427.7 542.6h0M1428 552.7h0M1428.5 562.9h0M1426 572.3h0M1428.4 583.3h0M1429.7 594.8h0M1428.6 605.4h0M1431.2 616.3h0M1429.2 626.4h0M1430.3 636.4h0M1431.5 647.1h0M1431.5 657.8h0M1430.4 668.2h0M1431.8 678.6h0M1428.6 690h0M1429.7 699.2h0M1429.7 710.2h0M1430.2 719.3h0M1430.8 728.1h0M1430.4 738h0M1111.8 57.5h0M1106.2 67.1h0M1103.5 77.9h0M1104.1 86.7h0M1101.4 96h0M1101.7 106.4h0M1102.6 115.1h0M1102.6 124.5h0M1106.6 134.9h0M1130 143.9h0M1168.3 154.1h0M1196.4 163.4h0M1220.2 172.2h0M1227.5 183h0M1276.8 192.6h0M1309.8 203.3h0M1325.2 213.6h0M1337.9 223.1h0M1358.9 234.4h0M1377.2 244.1h0M1394.9 255h0M1399.2 263.7h0M1404.3 273h0M1401.9 281.6h0M1402.1 290.1h0M1396.4 298.8h0M1398.8 308.7h0M1402.3 318.5h0M1401 329.1h0M1399.6 339.5h0M1407 349.2h0M1413.7 359.8h0M1415.6 371h0M1414.5 380.4h0M1411.1 391h0M1413.7 400.3h0M1413.6 410.2h0M1411.6 420.3h0M1413 429.7h0M1414.3 438.9h0M1416 449.5h0M1415.9 458.6h0M1417.7 468h0M1422.2 476.9h0M1421.9 487.1h0M1421.3 497.3h0M1418.9 508h0M1420.1 517.2h0M1419.7 525.9h0M1422.4 535.9h0M1422.5 544.8h0M1419.6 555.2h0M1423.1 566.5h0M1424.1 575.3h0M1426.7 585.9h0M1425 595.8h0M1425.3 605.1h0M1425.3 614.5h0M1426.6 623.2h0M1425.3 632.5h0M1424.1 643.2h0M1426.8 652.5h0M1107.4 56.6h0M1107.7 66.4h0M1108.5 75.5h0M1101.1 85.1h0M1096.8 96.2h0M1102.2 104.7h0M1111.9 113.5h0M1103.1 124.3h0M1118.8 135h0M1152.9 143.7h0M1178.2 154.7h0M1174.4 164h0M1268.5 174.9h0M1251.5 183.8h0M1305 194.2h0M1324.9 203.5h0M1336 212.9h0M1342.4 223.1h0M1357 234.5h0M1398.6 245.3h0M1405 256.7h0M1404.4 266h0M1402.4 275.5h0M1404.3 284.8h0M1406.5 294.4h0M1399.9 303.6h0M1397.6 313h0M1397.2 323.1h0M1405.9 334.2h0M1410.5 343.6h0M1412.6 352.6h0M1415 363.6h0M1411.7 373.9h0M1416.1 383.1h0M1416.5 392.2h0M1416.7 402.6h0M1410.1 411.4h0M1415.4 422.2h0M1417.8 431.2h0M1415.4 440.1h0M1418.2 451.5h0M1420.1 463h0M1423.6 472.4h0M1422.3 481.8h0M1422.3 492.3h0M1423 501.5h0M1420.5 512.1h0M1422.8 521.7h0M1419.1 531.7h0M1418.8 542.4h0M1424 551.6h0M1424.2 561.2h0M1426.4 572.4h0M1426.5 583.2h0M1429.3 593.2h0M1426.4 601.9h0M1426.3 611.1h0M1426.6 620.8h0M1427 632.3h0M1426.4 641.6h0M1427.1 650.3h0M1428.6 659.6h0M1428.6 670.8h0M1430.1 679.8h0M1429.7 691h0M1429.7 700.7h0M1428.3 712h0M1429 721.3h0M1428.5 730.4h0M1428.8 739.6h0M1428.5 749h0M1429.1 759.2h0M1430 768.6h0M1429.9 779.7h0M1430.4 789.1h0M1430.3 799.1h0M1430.9 808.4h0M1104.3 57.4h0M1104.1 68.3h0M1111.4 78.9h0M1112 90h0M1114.6 101.1h0M1117 111h0M1114 120.9h0M1113.8 132.2h0M1149.1 142.4h0M1153.7 152.1h0M1191 162.3h0M1192.5 172.3h0M1245.3 182.4h0M1318.2 193.4h0M1334.2 203.1h0M1346.6 212.6h0M1359.3 223.6h0M1387.2 235h0M1391.2 244.3h0M1400.8 253.6h0M1393.4 264.1h0M1399.3 273.8h0M1405.1 283.3h0M1402.3 291.8h0M1406.6 301.7h0M1412 311.9h0M1413.4 323.1h0M1413.8 332.6h0M1413.9 343.9h0M1411.2 353.5h0M1418.1 364.8h0M1413.9 374.1h0M1415 383.1h0M1416.1 393h0M1414 402.1h0M1421.5 411.4h0M1420.1 422.1h0M1420.4 432h0M1423.8 440.9h0M1419.5 450h0M1422 460.4h0M1421.8 470.1h0M1420.3 479.6h0M1419.6 489.3h0M1421.8 498.8h0M1426.3 509.7h0M1424.6 520.6h0M1426.5 529.1h0M1427.6 540.1h0M1427.9 549.6h0M1427.3 559h0M1425.2 568.5h0M1425 578.3h0M1428 587.4h0M1425.6 598.3h0M1424.8 609.1h0M1428.9 617.6h0M1429.5 627.1h0M1430.2 636.5h0M1429.9 646.4h0M1429.3 655.5h0M1429.1 665.9h0M1428.4 677h0M1428.3 686.4h0M1428.6 696.2h0M1100.8 55h0M1103.4 65.8h0M1102.6 75.2h0M1102.3 84.4h0M1096.8 93.8h0M1098.6 105.2h0M1101.4 115.3h0M1098.9 126.8h0M1110.4 135.3h0M1138.7 144.7h0M1150.3 153.8h0M1173.6 165h0M1200.4 175.4h0M1211.6 185.8h0M1275.7 194.9h0M1293.8 205.7h0M1321 215.1h0M1337.1 225.2h0M1361.1 234.7h0M1381.9 244h0M1386.3 254.2h0M1400 263.2h0M1394.5 273.3h0M1391.4 282.1h0M1396.9 291.6h0M1397.2 301.9h0M1393.9 311.7h0M1399.6 321.6h0M1402.9 332h0M1407.5 341.9h0M1409.9 351.2h0M1412.1 360.3h0M1411.6 370.9h0M1411.2 380.5h0M1413.3 391.7h0M1413.1 401h0M1410.5 410.5h0M1408.5 419.1h0M1410.7 430h0M1413.5 438.5h0M1415.7 448.9h0M1418.5 458.3h0M1419.9 467.2h0M1421.7 476.1h0M1420.2 486.4h0M1418.8 495.6h0M1418.1 504.3h0M1416.8 514.8h0M1416.9 524.1h0M1420.2 534.5h0M1419.4 544.2h0M1423.1 553.2h0M1421.8 562.3h0M1422.8 572.4h0M1424.7 583.5h0M1425.4 593.4h0M1425.8 604.1h0M1424.4 614.1h0M1425.1 625.5h0M1424.1 635.9h0M1425.3 646.1h0M1424.6 655h0M1426.1 663.9h0M1427.9 672.8h0M1429.1 683.6h0M1427.8 693.6h0M1427.9 704.5h0M1427 714.4h0M1426.9 725.6h0M1427.1 735.6h0M1428.1 746.9h0M1428.7 757h0M1429.7 767.9h0M1430 777.6h0M1430.5 787.3h0M1429.2 798.3h0M1429.8 808.9h0M1115.5 57.4h0M1116.1 66.9h0M1116.7 76.7h0M1117.3 86.1h0M1116.5 95.3h0M1116.7 106.1h0M1114.2 116h0M1113 127.2h0M1126.5 136.9h0M1216.1 148.3h0M1244 157.5h0M1259.8 166.9h0M1298.4 175.8h0M1345.8 184.3h0M1342.2 194.1h0M1371.2 203.7h0M1378.3 213.9h0M1376.5 224.8h0M1389 233.9h0M1400.8 242.6h0M1400.5 253.8h0M1411.1 263.9h0M1414.5 275h0M1415.5 284.9h0M1415.9 295.9h0M1414.2 307h0M1415.4 315.9h0M1413.5 326.6h0M1417.2 338h0M1411.9 347.7h0M1418.1 357.2h0M1418.3 366.2h0M1418.5 375.7h0M1419.2 385.6h0M1419.8 394.2h0M1420.6 402.9h0M1421.8 412.7h0M1423.1 423.4h0M1421.6 434.1h0M1422.7 445.3h0M1420.5 454h0M1423.1 464.9h0M1425.1 474.4h0M1424.8 483.8h0M1425.9 495.1h0M1426.4 505.7h0M1426.7 514.8h0M1427 524.6h0M1427.4 534.8h0M1427.2 545.9h0M1428.2 556.3h0M1427.2 565.1h0M1426.3 574.7h0M1429.2 584.3h0M1430 594h0M1430.6 604.1h0M1430.5 614.2h0M1431.2 625.5h0M1430.9 634.9h0M1430.7 645.6h0M1428.9 654.4h0M1429.3 663.8h0M1429.6 674.1h0M1431 685.1h0M1432.3 696h0M1431.3 705.2h0M1432.4 715.6h0M1431.3 725h0M1431.5 735.6h0M1171.5 236.3h0M1191.3 251.7h0M1213.6 270.8h0M1232.5 282.4h0M1276.6 303.5h0M1322.2 316.9h0M1351.8 334.3h0M1360.1 364.3h0M1367.2 375.9h0M1373.4 401.5h0M1373.4 402.2h0M1387.2 414.5h0M1394.6 423.4h0M1390.1 436.3h0M1120.7 178.1h0M1127.4 179.3h0M1154.1 214.5h0M1398.4 235.6h0M1413.5 255.2h0M1171.3 197.7h0M1276.8 240.3h0M1248.9 204.6h0M1228.8 197.2h0M1305.5 234.2h0M1202.1 208h0M1215 215.7h0M1254.3 228.5h0M1207.6 209h0M1301.8 229.3h0M1184.8 205.4h0M1227.1 219.8h0M1162.8 180.7h0M1165.7 179.3h0M1316.1 238.1h0M1285.6 232.4h0M1168.7 188.9h0M1276.5 224.2h0M1182 183.5h0M1148.3 191.3h0M1145.1 183.4h0M1295.4 224h0M1284.7 240.4h0M1223.6 212.1h0M1201.6 191.4h0M1149.7 186h0M1299.8 243h0M1193.9 187.1h0M1268.8 222.2h0M1317 248.8h0M1285 228.7h0M1261.7 220.9h0M1322.9 243.5h0M1267.7 222.7h0M1192.7 195.8h0M1186.4 199.1h0M1239 214.1h0M1233.8 209.8h0M1209 211.2h0M1301.4 248h0M1307.8 230.2h0M1180.6 192.5h0M1180.8 189.3h0M1211.8 206.3h0M1220.1 209.6h0M1282.6 224.9h0M1270.7 215.3h0M1261.7 210.2h0M1323.9 244.1h0M1159.6 189.3h0M1143.5 175.7h0M1201.3 212.8h0M1191.8 185.9h0M1265 234.4h0M1260.7 216.3h0M1262.3 217.2h0M1190.9 200.6h0M1139.2 180.9h0M1133.4 172.8h0M1242.8 212.5h0M1118.5 141.5h0M1113.4 153h0M1113 123.4h0M1103.9 129.9h0M1097.4 124.8h0M1120.7 164h0M1105.7 134.2h0M1114.2 130.9h0M1121 159.9h0M1106.1 145.9h0M1100.4 140.3h0M1101 122.5h0M1107.7 146.7h0M1102.3 126.2h0M1118.9 128.2h0M1105.9 140.8h0M1111.3 135.7h0M1104.5 150.1h0M1113.4 131h0M1112.5 137.5h0M1112.7 144.8h0M1130.1 159.2h0M1118.1 129h0M1109.9 139.2h0M1101.2 128.4h0M1128.4 153h0M1104.1 153.3h0M1105 129.4h0M1103.1 121h0M1114.3 162.1h0M1126.3 145h0M1111.4 159.2h0M1113.5 156.8h0M1102.3 130.1h0M1113.8 125.2h0M1118.4 157.9h0M1123.7 129.5h0M1118.2 160.4h0M1124.9 147.4h0M1100.9 133.4h0M1102.3 147.9h0M1101.9 149.8h0M1114.8 126.5h0M1122.9 146.1h0M1103.2 149.3h0M1115.2 156.4h0M1119.2 128.4h0M1104.9 149.3h0M1115.9 134.8h0M1112.9 124.5h0"/>
<polyline class="ln" style="stroke:#0000ff;stroke-width:3" points="1102.4,36.1 1103.3,95.7 1155.2,154.1 1313.3,212.2 1375,272.4 1400.2,332.5 1412,391.1 1416.9,450.3 1420.2,509.1 1422.4,568.1 1426.2,627.2 1428.4,686.4 1429.3,745.4 1430.2,803.7"/><g fill="#0000ff"><circle cx="1102.4" cy="36.1" r="6"/><circle cx="1103.3" cy="95.7" r="6"/><circle cx="1155.2" cy="154.1" r="6"/><circle cx="1313.3" cy="212.2" r="6"/><circle cx="1375" cy="272.4" r="6"/><circle cx="1400.2" cy="332.5" r="6"/><circle cx="1412" cy="391.1" r="6"/><circle cx="1416.9" cy="450.3" r="6"/><circle cx="1420.2" cy="509.1" r="6"/><circle cx="1422.4" cy="568.1" r="6"/><circle cx="1426.2" cy="627.2" r="6"/><circle cx="1428.4" cy="686.4" r="6"/><circle cx="1429.3" cy="745.4" r="6"/><circle cx="1430.2" cy="803.7" r="6"/></g>
<polyline class="ln" style="stroke:#ff0000;stroke-width:7.9" points="1124,19.4 1124,43 1124,66.6 1124,90.2 1124.7,113.8 1128.5,137.4 1136.3,161 1170.8,196.4 1264.3,255.4 1330.7,314.4 1374.6,373.4 1405.3,432.4 1422.4,491.4 1433.6,550.4 1435.8,609.4"/><g fill="#ff0000"><circle cx="1124" cy="19.4" r="5.5"/><circle cx="1124" cy="43" r="5.5"/><circle cx="1124" cy="66.6" r="5.5"/><circle cx="1124" cy="90.2" r="5.5"/><circle cx="1124.7" cy="113.8" r="5.5"/><circle cx="1128.5" cy="137.4" r="5.5"/><circle cx="1136.3" cy="161" r="5.5"/><circle cx="1170.8" cy="196.4" r="5.5"/><circle cx="1264.3" cy="255.4" r="5.5"/><circle cx="1330.7" cy="314.4" r="5.5"/><circle cx="1374.6" cy="373.4" r="5.5"/><circle cx="1405.3" cy="432.4" r="5.5"/><circle cx="1422.4" cy="491.4" r="5.5"/><circle cx="1433.6" cy="550.4" r="5.5"/><circle cx="1435.8" cy="609.4" r="5.5"/></g>
<polyline class="ln" style="stroke:#9a6200;stroke-width:3.2;stroke-dasharray:2.5 1.5;stroke-opacity:.75" points="1115.8,19.4 1116.3,43 1116.7,66.6 1117.4,90.2 1119.1,113.8 1125.6,137.4 1179.3,161 1244.3,196.4 1320.4,255.4 1375,314.4 1409.1,373.4 1422.4,432.4 1426.2,491.4 1426.9,550.4 1428.4,609.4"/><circle cx="1115.8" cy="19.4" r="6.5" fill="#9a6200" fill-opacity=".75"/><circle cx="1116.3" cy="43" r="6.5" fill="#9a6200" fill-opacity=".75"/><circle cx="1116.7" cy="66.6" r="6.5" fill="#9a6200" fill-opacity=".75"/><circle cx="1117.4" cy="90.2" r="6.5" fill="#9a6200" fill-opacity=".75"/><circle cx="1119.1" cy="113.8" r="6.5" fill="#9a6200" fill-opacity=".75"/><circle cx="1125.6" cy="137.4" r="6.5" fill="#9a6200" fill-opacity=".75"/><circle cx="1179.3" cy="161" r="6.5" fill="#9a6200" fill-opacity=".75"/><circle cx="1244.3" cy="196.4" r="6.5" fill="#9a6200" fill-opacity=".75"/><circle cx="1320.4" cy="255.4" r="6.5" fill="#9a6200" fill-opacity=".75"/><circle cx="1375" cy="314.4" r="6.5" fill="#9a6200" fill-opacity=".75"/><circle cx="1409.1" cy="373.4" r="6.5" fill="#9a6200" fill-opacity=".75"/><circle cx="1422.4" cy="432.4" r="6.5" fill="#9a6200" fill-opacity=".75"/><circle cx="1426.2" cy="491.4" r="6.5" fill="#9a6200" fill-opacity=".75"/><circle cx="1426.9" cy="550.4" r="6.5" fill="#9a6200" fill-opacity=".75"/><circle cx="1428.4" cy="609.4" r="6.5" fill="#9a6200" fill-opacity=".75"/><polyline class="ln" style="stroke:#ffa500;stroke-width:2.4" points="1115.8,19.4 1116.3,43 1116.7,66.6 1117.4,90.2 1119.1,113.8 1125.6,137.4 1179.3,161 1244.3,196.4 1320.4,255.4 1375,314.4 1409.1,373.4 1422.4,432.4 1426.2,491.4 1426.9,550.4 1428.4,609.4"/><g fill="#ffa500"><circle cx="1115.8" cy="19.4" r="6"/><circle cx="1116.3" cy="43" r="6"/><circle cx="1116.7" cy="66.6" r="6"/><circle cx="1117.4" cy="90.2" r="6"/><circle cx="1119.1" cy="113.8" r="6"/><circle cx="1125.6" cy="137.4" r="6"/><circle cx="1179.3" cy="161" r="6"/><circle cx="1244.3" cy="196.4" r="6"/><circle cx="1320.4" cy="255.4" r="6"/><circle cx="1375" cy="314.4" r="6"/><circle cx="1409.1" cy="373.4" r="6"/><circle cx="1422.4" cy="432.4" r="6"/><circle cx="1426.2" cy="491.4" r="6"/><circle cx="1426.9" cy="550.4" r="6"/><circle cx="1428.4" cy="609.4" r="6"/></g>
<polyline class="ln" style="stroke:#008000;stroke-width:3" points="1129.6,19.4 1130.1,43 1130.5,66.6 1131.4,90.2 1138.5,113.8 1174.6,137.4 1218.2,161 1290.6,196.4 1360.3,255.4 1400.6,314.4 1416.2,373.4 1421.8,432.4 1422.4,491.4 1425.3,550.4 1428.4,609.4 1431.6,727.4"/><g fill="#008000"><circle cx="1129.6" cy="19.4" r="6"/><circle cx="1130.1" cy="43" r="6"/><circle cx="1130.5" cy="66.6" r="6"/><circle cx="1131.4" cy="90.2" r="6"/><circle cx="1138.5" cy="113.8" r="6"/><circle cx="1174.6" cy="137.4" r="6"/><circle cx="1218.2" cy="161" r="6"/><circle cx="1290.6" cy="196.4" r="6"/><circle cx="1360.3" cy="255.4" r="6"/><circle cx="1400.6" cy="314.4" r="6"/><circle cx="1416.2" cy="373.4" r="6"/><circle cx="1421.8" cy="432.4" r="6"/><circle cx="1422.4" cy="491.4" r="6"/><circle cx="1425.3" cy="550.4" r="6"/><circle cx="1428.4" cy="609.4" r="6"/><circle cx="1431.6" cy="727.4" r="6"/></g>
<polyline class="ln" style="stroke:#ff00ff;stroke-width:3" points="1127.8,24.5 1127.8,37.2 1127.8,50.3 1127.8,64.1 1127.8,78.4 1128.1,95.7 1129.2,112.4 1143.6,132.5 1182.4,153.2 1247.6,178.1 1296.6,204.9 1334.5,237.2 1362.8,273.9 1384.4,315.8 1401.7,365.9 1415.3,425.2 1425.3,495.3 1434.2,578.1 1442.2,677.5"/><g fill="#ff00ff"><circle cx="1127.8" cy="24.5" r="6"/><circle cx="1127.8" cy="37.2" r="6"/><circle cx="1127.8" cy="50.3" r="6"/><circle cx="1127.8" cy="64.1" r="6"/><circle cx="1127.8" cy="78.4" r="6"/><circle cx="1128.1" cy="95.7" r="6"/><circle cx="1129.2" cy="112.4" r="6"/><circle cx="1143.6" cy="132.5" r="6"/><circle cx="1182.4" cy="153.2" r="6"/><circle cx="1247.6" cy="178.1" r="6"/><circle cx="1296.6" cy="204.9" r="6"/><circle cx="1334.5" cy="237.2" r="6"/><circle cx="1362.8" cy="273.9" r="6"/><circle cx="1384.4" cy="315.8" r="6"/><circle cx="1401.7" cy="365.9" r="6"/><circle cx="1415.3" cy="425.2" r="6"/><circle cx="1425.3" cy="495.3" r="6"/><circle cx="1434.2" cy="578.1" r="6"/><circle cx="1442.2" cy="677.5" r="6"/></g>
</g>
<path class="sp" d="M1083.4 814.5v6M1141.6 814.5v6M1200.5 814.5v6M1258.5 814.5v6M1316.6 814.5v6M1374.6 814.5v6M1432.6 814.5v6M1067.5 19.4h-6M1067.5 137.4h-6M1067.5 255.4h-6M1067.5 373.4h-6M1067.5 491.4h-6M1067.5 609.4h-6M1067.5 727.4h-6"/>
<rect class="sp" x="1067.5" y="19.6" width="404.2" height="794.9"/>
<text class="tk" text-anchor="middle" transform="translate(1082.7,850.5) rotate(-45)" y="6.5" textLength="44">1020</text>
<text class="tk" text-anchor="middle" transform="translate(1140.9,850.5) rotate(-45)" y="6.5" textLength="44">1021</text>
<text class="tk" text-anchor="middle" transform="translate(1199.8,850.5) rotate(-45)" y="6.5" textLength="44">1022</text>
<text class="tk" text-anchor="middle" transform="translate(1257.8,850.5) rotate(-45)" y="6.5" textLength="44">1023</text>
<text class="tk" text-anchor="middle" transform="translate(1315.9,850.5) rotate(-45)" y="6.5" textLength="44">1024</text>
<text class="tk" text-anchor="middle" transform="translate(1373.9,850.5) rotate(-45)" y="6.5" textLength="44">1025</text>
<text class="tk" text-anchor="middle" transform="translate(1431.9,850.5) rotate(-45)" y="6.5" textLength="44">1026</text>
</g>
<text class="lb" text-anchor="middle" transform="translate(29.1,418.2) rotate(-90)">Depth (m)</text>
<text class="lb" text-anchor="middle" x="279.2" y="872.1" textLength="219">Temperature (<tspan font-weight="normal" font-style="italic" font-size="15.6" dy="-8.6">o</tspan><tspan font-weight="normal" font-style="italic" dy="8.6">C</tspan>)</text>
<text class="lb" text-anchor="middle" x="773.9" y="869.7">Salinity</text>
<text class="lb" text-anchor="middle" x="1268.2" y="895.6">Density (kg m-3)</text>
<text class="tk" font-style="italic" x="247.8" y="917.8" textLength="1081.5" style="white-space:pre">Ocean Heat Content (kJ/cm^2) - Glider: N/A,  RTOFS: N/A,  RTOFS (Parallel): N/A,  ESPC: N/A,  CMEMS: N/A,  NESDIS: 0.0000,</text>
<text class="lb" x="1521.3" y="36.7">Comparison Date: 2025-07-26</text>
<text class="lb" x="1521.3" y="89.9">Glider: ru39</text>
<text class="lb" x="1521.3" y="116.6">Profiles: 44</text>
<text class="lb" x="1521.3" y="143.2">First: 2025-07-26 00:01:38</text>
<text class="lb" x="1521.3" y="169.8">Last: 2025-07-26 23:47:36</text>
<text class="lb" x="1521.3" y="196.4">Method: Nearest-Neighbor</text>
<g id="map">
<defs><clipPath id="cm"><rect x="1562" y="248" width="404.5" height="336.8"/></clipPath></defs>
<rect x="1562" y="248" width="404.5" height="336.8" fill="#97b6e1"/>
<g clip-path="url(#cm)">
<path fill="#d2b48c" d="M1562 248 1791.6 248 1791.6 247.9 1786.3 250.6 1779.8 252.2 1776.5 256.3 1771.6 258.1 1767.5 259.7 1761.9 259.2 1757.4 261.3 1757 264.4 1753.1 266.9 1752.1 271.7 1747.9 274.6 1746.6 279.1 1744.6 283.1 1742.3 286.6 1740.4 291.3 1739.9 297 1742.3 300.9 1746.8 301.2 1745.6 304 1740.7 304.8 1737.6 307.5 1735.2 311.6 1733.8 316 1733 313.3 1735.8 316.5 1739.9 317.3 1742.7 319.8 1744.4 323.8 1743.9 327.5 1746.8 329.9 1748.4 333.6 1752.1 336.4 1757 337.3 1761.9 335.6 1763.2 332 1761.9 327.5 1759.4 325.5 1757 324.6 1759 323.2 1762.7 324.5 1765.1 328.3 1766.6 333.6 1766.7 338.5 1765.5 342.6 1764.1 344.6 1763.6 341.3 1763.3 338.1 1758.6 340.1 1752.9 342.1 1748 344.2 1746 343.5 1746.1 338.5 1744.4 337.3 1741.5 339.7 1738.3 341.7 1735.8 343.8 1732.6 345.8 1730.1 346.8 1728.5 342.6 1729.7 337.7 1726.9 335.2 1724.4 336.9 1723.6 342.6 1724.4 347.4 1722.4 349.9 1719.5 351.1 1716.3 351.9 1712.2 352.3 1708.1 352.7 1704.1 353.8 1700 353.5 1709.6 352.5 1703.9 352.1 1696.6 353.9 1686.8 354.4 1679.5 354.5 1675.4 356.4 1668.9 358.8 1663.2 361.7 1657.7 364.3 1655.3 367 1652 370.2 1648.6 373.5 1644.5 376.1 1642.2 379.2 1640.6 383.2 1640 386 1639.6 383.3 1642.1 386.1 1645.3 385 1648.6 384.9 1649.4 389 1648.3 394.6 1647.1 400.3 1645.5 406.9 1644.5 412.6 1641.4 418.3 1637.4 423.9 1632.5 428 1628.4 432.9 1625.2 438.6 1622.7 443.2 1620.3 442.8 1621.7 438.8 1622.7 434.7 1618.6 432.9 1615.4 433.9 1612 429.8 1607.2 425.7 1604.2 422.3 1602.4 418.4 1603.8 414.3 1607.1 411.1 1603.8 412.6 1601.4 418.3 1603 423.9 1605.6 428.2 1607.2 432.9 1608.9 438.6 1611.3 443.5 1613.8 446.9 1616.9 448.5 1617.8 451.6 1618.2 456 1616.9 450 1618.5 456.5 1618.1 462.2 1616 467.9 1613.6 473.6 1610.3 479.3 1607.1 482.6 1604.6 486.6 1602.2 492.3 1599.8 498.8 1597.3 505.3 1594.1 509.4 1590.8 510.6 1589.3 507 1589.8 502.1 1591.2 495.6 1593.3 489.9 1592.3 485 1590.2 480.9 1588.8 474.4 1587.6 469.5 1583.6 463.8 1582 459 1580.4 454.9 1579.6 450 1581.9 451.6 1583.5 444.3 1585.9 437 1584.3 432.1 1587.6 425.6 1593.3 421.5 1590 418.7 1585.9 420.7 1581.9 423.9 1577 427.2 1572.5 430.5 1574.5 438.6 1574.1 445.1 1575.3 450.8 1576.3 456 1574.5 450 1575.3 454.9 1578.6 460.6 1579.8 465.5 1580.9 470.3 1582.3 475.2 1583.5 480.9 1582.8 486.6 1582.3 492.3 1583.5 498 1583.1 502.1 1582.3 507 1583.5 511 1587.6 514.3 1590.8 516.1 1592.4 520.8 1594.1 526 1591.6 520 1590 528.1 1590.2 536.3 1592.6 539.7 1587.6 541.3 1583.5 539.7 1579.4 543 1576.3 542.1 1569.8 545.4 1569 550.1 1573.7 550.8 1578 551.1 1583.5 550.3 1589.2 551.1 1587.7 555 1588.5 560.7 1591 561.7 1591.8 552.7 1594.9 551.9 1597.3 555.2 1598.3 560.7 1595.9 564.1 1592.6 565.7 1590 569 1585.9 572.2 1581.9 572.2 1578 569 1573.9 565.7 1570.5 566.6 1559.9 567.2 1568 571.4 1573.9 573.1 1575.5 575.5 1573.1 578.8 1571.4 582 1572.3 585.1 1572.3 584.8 1562 584.8ZM1656.7 368.8 1663.2 367.1 1668.1 367.1 1671.4 367.9 1673.8 366.3 1679.5 366.3 1685.2 365.8 1689.3 364.5 1693.4 361.4 1698.2 359 1702.5 357.7 1701.5 359.6 1696.6 362.9 1703.9 362.2 1710.6 362.1 1709.6 363.9 1701.5 367.9 1693.4 371.2 1685.2 374.5 1677.1 377.7 1668.9 379.7 1660.8 381 1652.7 381.8 1648.6 382.6 1645.3 381.8 1647.1 379.2 1651 375.3ZM1739.9 352.5 1743.1 350 1745.6 348.4 1748.8 349.9 1751.7 350.4 1751.3 352.5 1746.4 352.5 1742.3 353.3 1740.3 355.7 1739.1 356.4ZM1754.4 352.3 1757 354.4 1760.2 355.6 1765.3 356.1 1765.6 353.1 1763.5 349.9 1762.3 352.3 1760.4 354.5 1757.1 353.6ZM1875.3 248.5 1917.7 248.5 1914.9 252.7 1910.7 255.5 1906.4 259.1 1903.6 261.2 1900.1 259.8 1898.7 264 1896.5 268.3 1890.9 271.1 1888.1 269.7 1885.2 263.3 1882.4 259.8 1879.6 261.2 1878.2 262.6 1875.3 257.7 1874.6 252.7Z"/>
<path fill="#b3b3b3" d="M1561.9 247.9 1587.6 247.9 1586.3 250.6 1583.5 253.8 1584.3 256.3 1583.9 260.3 1584.7 263.6 1582.7 266 1578.6 266.9 1575.3 268.5 1571.3 271.7 1568.8 274.2 1561.9 276.2ZM1587.6 277.6 1592.4 277.6 1598.1 279.1 1597.3 280.5 1591.6 280.7 1588.4 279.1ZM1746.4 251.8 1748.8 251.4 1750.1 254.6 1748.8 256.3 1747.2 254.6ZM1722.4 259.5 1725.2 259.1 1726 262 1728.5 264.4 1727.7 267.3 1725.2 264.4 1723.2 263.6Z"/>
<path fill="none" stroke="#b3b3b3" stroke-width="1" stroke-opacity=".7" d="M1568.4 292.1 1569.2 297 1571.3 301.9 1575.3 307.5M1574.9 291.3 1576.3 296.2M1578.2 290.5 1582.7 295.7M1564.1 301 1565.4 311.6"/>
<path fill="none" stroke="#97b6e1" stroke-width="1.5" stroke-linejoin="round" d="M1575.8 269.3 1579.4 275.8 1583.1 280.7 1582.7 282.3 1579 281.1 1574.9 284.4 1570.5 284.8 1568.4 290.5 1563.1 292.1 1562.7 300.2M1605.5 269.3 1605.9 272.6 1608.3 274.2 1606.7 279.5 1611.2 282.7 1614.4 283.1 1619.3 286.4 1623.4 285.6 1629.9 288.4 1631.1 290.9 1634.3 291.3 1637.2 289.6 1641.3 289.2 1645.3 292.1 1648.6 293.7 1653.5 295.7 1656.7 295.3M1647 248.1 1643.3 250.6 1642.9 254.2 1647 256.7 1648.6 259.5 1651 260.3 1652.3 264.4 1653.9 267.3 1652.3 270.1 1651.8 273.4 1653.1 277.4 1655.9 277.8 1659.2 275.8 1660 282.3 1658.8 288.8 1657.1 292.1 1656.7 296.2 1655.5 301 1654.7 307.5 1654.3 316 1654.7 314.1 1651.8 318.1 1650.2 323 1649.8 330.3 1649.8 336.9 1648.6 344.2 1649.4 349.1 1649 353.1M1622.1 295.7 1621.3 299.4 1620.5 302.7 1621.3 304.3 1620.1 307.5 1614.4 310.8 1611.2 312 1604.6 315.7 1610.3 313.3 1605.5 315.7 1601.4 320.6 1601 324.6 1601.4 327.1M1630.3 310.8 1626.6 312.4 1620.9 315.7 1626.6 313.3 1622.5 314.9 1619.3 319 1615.2 320.6 1612 323 1607.9 324.2 1607.1 325.9M1601 329.1 1597.3 326.3 1595.7 322.6 1590.8 322.2 1587.6 323.4 1581.9 323 1576.2 325.5 1575.8 331.2 1577.8 334.4 1581.9 337.7 1585.9 340.5 1590 342.6 1593.3 345.8 1596.1 349.9 1596.5 352.3 1593.3 355.6 1589.2 358 1586.7 360.5 1585.1 362.9 1580.2 364.5 1575.3 367.8 1572.1 367 1567.2 369 1565.6 375.1 1563.1 381.6 1562.7 386 1563.1 384.9 1562.7 389 1565.6 393.8 1570.5 398.7 1575.3 401.2 1578.6 406 1582.7 410.9 1587.6 418.3M1561.9 354.8 1567.2 356.8 1565.2 359.6 1566 365.3 1567.2 368.6M1692.5 299.4 1690.1 303.5 1689.3 309.2 1688.5 316 1688.5 322.2 1688.1 330.3 1687.2 336 1687.7 342.6 1691.7 346.6 1695.4 350.7M1715.9 248.1 1715.9 260.3 1713.8 264.4 1716.3 269.3 1718.7 275.8 1721.6 282.3 1721.6 292.1 1723.2 301 1726 301.4 1732.6 297.8 1739.1 293.7M1561.9 553.4 1564 554.2 1565.6 555.8 1568 554.2 1570.5 551.7"/>
<path fill="none" stroke="#000" stroke-width="1.55" stroke-linejoin="round" d="M1664.9 247.9 1666.1 252.2 1666.5 257.1 1665.7 261.2 1665.3 264.4 1667.7 263.6 1669.8 266 1669.9 272.6 1669.9 288.8 1669.6 297.4M1703.5 248.1 1700.7 254.6 1699 257.5 1697 259.9 1695.4 264.4 1694.6 270.1 1693.8 276.6 1692.5 285.6 1691.7 288.8 1690.1 292.1 1690.5 294.5 1692.5 297.4M1669.6 297.4 1692.5 298.2 1715 299.4 1725.2 299.4 1728.5 296.2 1734.2 293.3 1739.5 292.1M1669.6 297.4 1667.3 306.7 1664.5 316 1662.4 323.8 1662 342.6 1661.6 355.6 1663.6 356.8 1656.3 361.3 1657.5 364.1M1735 247.9 1735.8 260.3 1736.2 270.1 1737.4 274.2 1739.9 278.3 1741.1 282.3 1742.3 285.6M1662.4 324.2 1683.2 325.5 1711.3 326.3 1711.8 325.9 1724 325.9 1725.2 331.2 1726.9 336M1711.3 326.3 1712.1 352.3M1561.9 326.7 1609.1 326.7 1612 330.3 1616 332.4 1617.7 336 1617.3 340.9 1619.3 345 1622.5 347.4 1626.6 349.1 1627.8 351.1 1650.6 365.7M1627.8 351.1 1625 353.9 1623 358.8 1619.3 362.5 1615.6 365.3 1616.4 369.4 1615.2 372.7 1614 375.1 1614.4 380.8 1616.9 382.4 1618.1 386 1616.9 383.3 1618.5 387.3 1623.4 392.2 1627.4 397.1 1622.5 399.9 1617.3 403.6M1561.9 413.4 1596.5 413.4 1598.1 410.1 1601.4 408.6 1605.5 408.9 1607.9 410.5M1596.5 413.4 1597.3 428.8 1598.5 445.1 1599.4 456 1599.4 460.2 1616.9 460.2M1597.3 477.7 1607.1 476M1561.9 529.6 1588.4 529.6"/>
<path fill="none" stroke="#000" stroke-width="1.3" stroke-dasharray="4 2" d="M1574.5 250.6 1571.3 256.3 1568 262 1562.3 263.2"/>
<path fill="#000" stroke="#000" stroke-width="1" stroke-linejoin="round" d="M1766.3 247.9 1791.6 248.1 1787.5 251 1781.4 253 1777.3 256.7 1773.2 259.1 1768.4 260.8 1762.7 259.9 1758.6 262.4 1756.2 261.3 1757 258.3 1760.6 255.1 1765.1 253.4ZM1722 334.4 1726.9 334.4 1730.5 337.7 1729.3 342.6 1730.1 346.6 1726 348.3 1722.4 346.6 1721.2 340.9ZM1732.1 311.6 1736.6 310 1738.3 314.1 1735.8 316.9 1733 315.7ZM1873.9 249.2 1876.7 253.4 1879.6 252.7 1883.8 256.3 1886.6 261.2 1889.5 266.9 1893.7 263.3 1897.2 259.1 1900.8 256.3 1903.6 258.4 1907.8 254.1 1913.5 250.6 1917.7 248.6 1914.9 253.4 1910.7 257 1905.7 261.2 1902.2 261.9 1900.1 265.4 1896.5 269.7 1890.9 272.5 1886.6 270.4 1884.5 264.7 1882.4 261.2 1879.6 263.3 1876.7 261.2 1874.6 257ZM1572.5 430.1 1579.4 424.4 1587.6 418.4 1594.5 420.7 1593.9 423.8 1589.2 426 1586.3 430.9 1587.6 437 1586.3 444.3 1584.7 445.1 1585.3 437 1583.5 432.1 1579.4 429.6 1576.3 432.1 1577.8 438.6 1576.8 445.1 1577.1 451.6 1575.3 453.2 1573.6 445.1 1573.9 437ZM1585.9 445.1 1588 450.8 1592.4 456 1581.9 456 1583.1 450ZM1579.4 450 1592.4 451.6 1591.6 455.7 1585.1 459 1589.2 462.2 1595.7 463 1597.7 470.3 1598.1 476.9 1596.7 482.6 1593.3 484.2 1590.8 480.9 1589.2 474.4 1587.6 469.5 1583.1 464.6 1580.4 458.1ZM1590.8 492.3 1597.3 482.6 1603.8 477.7 1600.6 484.2 1595.7 492.3 1593.3 500.5 1591.6 508.6 1589.6 507 1589.6 498.8ZM1587.6 527.3 1591.6 521.6 1594.1 529.8 1597.3 540.3 1598.9 547.7 1595.7 544.4 1590.8 539.5 1588.4 533Z"/>
<path fill="#97b6e1" d="M1592 474.4 1593.9 474.4 1594.6 481.3 1592.6 481.9Z"/>
<path fill="none" stroke="#000" stroke-width="2.7" stroke-linejoin="round" stroke-linecap="round" d="M1791.5 247.8 1789.6 248.5 1787.8 249.3 1786.2 250.3 1784.6 250.7 1782.9 250.8 1781.5 252.4 1779.8 252.2 1778.2 253.2 1777.4 254.8 1776.4 256 1775.1 257.4 1773.3 257.5 1771.7 258.2 1769.6 258.8 1767.6 259.6 1765.6 260.2 1763.7 259.8 1761.9 259.3 1760.1 259.4 1758.7 260.3 1757.6 261.4 1756.9 264.2 1755.3 266.1 1753 266.8 1753.2 268.6 1753.1 270.2 1751.9 271.5 1750.9 273 1749.5 274 1747.5 274.5 1746.7 276.7 1746.7 279.1 1745 280.8 1744.6 283.1 1743.3 284.7 1742.5 286.6 1741.1 287.9 1740.8 289.6 1740.1 291.2 1739.7 293.1 1740.3 295.1 1740 296.9 1741.5 298.7 1742.3 300.6 1744.6 300.4 1746.9 301.3 1745.6 303.9 1744.1 304.9 1742.3 304.3 1740.8 304.9 1739.3 306.4 1737.4 307.4 1736.4 309.6 1735.3 311.7 1734.5 313.8 1733.9 316 1733.2 313.1 1733.9 315.3 1735.9 316.2 1737.8 317.3 1739.7 317.5 1741.7 318 1742.5 319.8 1743.7 321.7 1744.3 323.8 1744.8 325.7 1744.2 327.3 1745.7 328.4 1746.5 330.1 1748 331.6 1748.3 333.7 1749.9 335.5 1752 336.8 1753.7 336.5 1755.4 336.8 1757 337.3 1758.7 337.1 1760.1 335.7 1762 335.7 1762.9 333.9 1763.4 331.9 1761.9 329.9 1762.1 327.3 1759.3 325.7 1756.9 324.6 1759 323.3 1760.6 324.4 1762.8 324.4 1763.4 326.7 1765.1 328.3 1765.8 330 1766.3 331.8 1766.8 333.6 1767.2 335.2 1767.2 336.8 1766.6 338.4 1765.5 340.3 1765.7 342.7 1763.8 344.6 1764.6 342.9 1763.7 341.3 1763.3 339.7 1763.4 338.2 1761.7 338.6 1760 339 1758.6 340.1 1756.7 340.9 1755 342.1 1752.8 341.9 1751.5 343.4 1749.6 343.5 1748.1 344 1745.7 343.5 1746.4 341.9 1746.7 340.2 1746.2 338.4 1744.2 337.1 1743.3 338.9 1741.5 339.7 1740.1 341.1 1738.1 341.6 1735.9 343.9 1734.2 344.8 1732.4 345.5 1730.3 346.7 1729.9 344.4 1728.5 342.5 1728.9 340.9 1729.6 339.4 1729.7 337.7 1728.1 336.7 1726.9 335.3 1724.7 336.9 1724.3 338.8 1723.2 340.6 1723.3 342.6 1723.7 344.2 1724.1 345.8 1724.5 347.5 1722.5 350.1 1719.6 351.3 1717.8 351.1 1716.3 351.7 1714.3 352.3 1712.2 352.1 1710.1 352.1 1708.1 352.6 1706 353 1704.1 353.6 1702 353.9 1700 353.7 1701.6 353.1 1703.2 353.2 1704.9 353.4 1706.4 353.1 1708 352.4 1709.7 352.2 1707.7 352.1 1705.8 352.1 1704 352.4 1702.1 352.5 1700.4 353.3 1698.4 353.2 1696.6 354 1695 353.6 1693.3 353.9 1691.7 353.8 1690.1 354.5 1688.5 354.2 1686.8 354.3 1685 354 1683.2 354.7 1681.3 354 1679.4 354.3 1677.4 355.2 1675.3 356.1 1673.6 356.4 1672.2 357.6 1670.6 358.2 1669 359 1666.8 359.4 1664.9 360.2 1663.2 361.7 1661.3 362.3 1659.4 363.1 1657.6 364.2 1656.8 365.9 1655.1 366.8 1653.6 368.5 1651.9 370.1 1650.4 371.9 1648.5 373.4 1647 374 1645.8 375.1 1644.4 376 1643.9 378 1642.5 379.3 1641.5 381.2 1640.5 383.2 1639.9 386 1639.5 383.3 1640.7 384.8 1642 385.8 1643.7 385.5 1645.3 384.9 1646.9 384.3 1648.8 384.8 1649.2 386.9 1649.6 389 1649.5 390.9 1649.3 392.9 1648.4 394.7 1648.1 396.6 1647.4 398.4 1647.1 400.3 1647.1 402.1 1645.8 403.5 1646.6 405.4 1645.6 406.9 1645.5 408.8 1645 410.7 1644.8 412.7 1643.3 413.8 1643.1 415.5 1642.8 417.1 1641.4 418.2 1640.9 420 1639.3 421.1 1638.6 422.7 1637.3 423.9 1635.3 424.8 1633.8 426.3 1632.5 428.1 1630.8 429.4 1629.6 431.1 1628.5 432.9 1628 434.6 1626.7 435.7 1625.9 437.1 1624.9 438.4 1623.8 439.8 1623.4 441.6 1622.7 443.3 1620.5 442.9 1620.3 440.6 1621.5 438.7 1622.3 436.7 1622.7 434.6 1620.5 434.3 1618.6 432.8 1616.9 432.9 1615.3 433.9 1614.2 432.6 1612.8 431.4 1611.9 429.9 1610.8 427.9 1608.7 427.2 1607.5 425.5 1606.1 423.6 1604.2 422.3 1603 420.5 1602.7 418.5 1603.1 416.4 1603.8 414.3 1605.3 412.5 1606.9 410.8 1605.5 411.8 1604 412.6 1603 414.5 1602.7 416.6 1601.3 418.3 1602 420.1 1602.8 422 1602.8 424.1 1603.5 425.6 1605.3 426.4 1605.6 428.2 1606.5 429.6 1606.1 431.5 1607.1 433 1608.1 434.7 1608.6 436.6 1609.1 438.5 1609.1 440.5 1610.8 441.7 1611.3 443.5 1612.6 445.2 1613.7 447 1615.2 447.8 1616.7 448.6 1617.8 449.9 1617.6 451.6 1618.3 453.8 1618.2 456 1617.5 454.1 1617 452.1 1616.8 450 1617.3 451.6 1617.9 453.2 1617.7 455 1618.4 456.5 1619 458.5 1618.6 460.3 1618.1 462.2 1616.8 463.9 1616.2 465.8 1616 467.9 1615.8 470.1 1614.1 471.5 1613.6 473.6 1612.7 475 1611.7 476.3 1611 477.8 1610.3 479.3 1608.3 480.5 1607.2 482.6 1606 484.7 1604.4 486.5 1604.2 488.7 1603.3 490.5 1602 492.2 1602.2 494.2 1600.5 495.4 1600.1 497.1 1599.8 498.8 1599.4 500.6 1598.2 501.9 1597.4 503.5 1597.5 505.5 1596.3 506.7 1595.1 508 1594.1 509.4 1592.5 510.2 1590.6 510.7 1590.2 508.8 1589.6 507 1588.9 505.3 1589.2 503.7 1590 502.1 1590.5 500.5 1590.7 498.9 1590.2 497.1 1591.4 495.6 1592.5 493.9 1593.2 492 1593.4 489.9 1592.3 488.4 1593.1 486.5 1592.1 485.1 1591.4 482.9 1590.5 480.9 1590.1 479.2 1589 477.8 1588.8 476.1 1589.1 474.3 1587.9 472.9 1588.1 471.1 1587.5 469.6 1586.2 468.4 1585.7 466.6 1584.1 465.6 1583.4 463.9 1582.9 462.3 1582 460.8 1581.7 459.1 1581.3 456.9 1580.6 454.9 1580.6 453.2 1579.3 451.7 1579.6 450 1581.7 451.6 1582.4 449.8 1582.7 448 1583.7 446.3 1583.4 444.3 1583.5 442.3 1585 440.7 1584.9 438.6 1586 436.9 1585.4 435.3 1585.4 433.5 1584.3 432.1 1585.3 430.5 1585.6 428.7 1586.8 427.2 1587.5 425.4 1589.2 424.8 1590.4 423.6 1591.5 422.1 1593.1 421.6 1591.5 420.2 1589.9 418.5 1588.2 420.1 1585.8 420.6 1584.4 421.6 1583.6 423.3 1581.8 423.8 1580.5 425.5 1578.9 426.6 1576.9 427.1 1575.7 428.6 1573.7 428.9 1572.5 430.5 1573.1 432 1572.9 433.8 1574.4 435.2 1573.8 437 1574.8 438.6 1574.9 440.3 1573.7 441.8 1574 443.5 1574.3 445.1 1575.1 446.9 1574.3 449 1575.2 450.8 1575.2 452.6 1576.5 454.2 1576.4 456 1575.5 454.1 1574.8 452.1 1574.6 450 1574.6 451.7 1575.3 453.2 1575.4 454.8 1576.6 456.1 1576.6 458 1577.6 459.3 1578.4 460.6 1579.1 462.2 1578.9 464 1579.8 465.5 1580 467.1 1580.4 468.7 1580.7 470.4 1581.5 471.9 1582.3 473.4 1582.6 475.2 1583.1 477 1583.7 478.9 1583.2 480.9 1583.3 482.8 1582.7 484.7 1583.2 486.7 1582.7 488.5 1581.9 490.4 1582.2 492.3 1582.8 494.2 1583.1 496.1 1583.8 498 1583.8 500.1 1583.3 502.1 1583 503.7 1582.7 505.4 1582 507 1583.3 508.9 1583.6 510.9 1585 511.9 1586.5 512.8 1587.6 514.2 1589.4 514.9 1590.8 516.1 1592 517.4 1591.3 519.4 1592.5 520.8 1592.4 522.7 1593.3 524.4 1594.2 526 1593.4 524.5 1593.4 522.8 1591.7 521.7 1591.5 520 1591.6 521.7 1590.7 523.2 1590.3 524.8 1590.8 526.6 1590.2 528.1 1590.7 529.8 1590.4 531.4 1590.7 533 1590.3 534.6 1589.9 536.5 1591.5 537.9 1592.6 539.8 1590.9 540.3 1589.3 541.1 1587.6 541.2 1585.6 540.2 1583.6 539.9 1582.4 541.1 1580.6 541.7 1579.5 542.7 1576.3 542 1574.7 543 1572.8 543.2 1571.7 545.2 1570.1 545.4 1569 547.7 1569 550 1571.4 549.8 1573.7 550.8 1575.8 551.6 1578 551.1 1579.8 550.6 1581.6 550 1583.5 550 1585.3 551.1 1587.3 550.8 1588.9 551 1589 553.3 1587.9 555 1588.6 556.8 1588.4 558.8 1588.6 560.4 1590.8 561.7 1591 559.9 1591 558.1 1590.8 556.2 1591 554.4 1591.9 553 1595.1 551.8 1596.1 553.5 1597.4 555.1 1597.6 557 1598.5 558.7 1598.4 560.8 1597.5 562.7 1595.8 564.1 1594 564.4 1592.5 565.7 1590.9 567.1 1590.1 569.1 1589.1 570.6 1587.2 571.1 1585.9 572.3 1583.9 572.1 1581.8 572.3 1580.7 571 1579.5 569.8 1578.1 568.8 1576.4 568.1 1575.2 566.9 1573.8 565.5 1572.3 566.5 1570.5 566.8 1568.7 566.9 1567 567.3 1565.1 566.5 1563.4 566.5 1561.7 567.4 1560 567 1561.8 567.5 1563.3 568.6 1565 569.2 1566.4 570.5 1568 571.5 1570.1 571.6 1572.1 571.9 1573.8 573.1 1575.8 575.7 1574.6 577.4 1573.2 578.8 1572.4 580.5 1571.7 581.9 1572.3 585.1M1561.9 465.8 1564.2 466.4 1566.5 467 1567.8 468.4 1569.9 467.9 1571.3 469.1 1572.5 470.9 1574.9 471.4 1576.2 473.2 1577.7 473.8 1579.5 473.4 1580.9 474.4M1563.5 478.1 1564.9 479.3 1566.1 480.8 1567.8 481.8 1568.7 483.5 1569.7 484.9 1571.1 486 1572.8 486.7 1573.7 488.3 1575.5 489.2 1577.2 490.2 1578.5 492 1580.2 493 1582.3 493.1M1566.8 493.9 1567.9 495.3 1568.6 497 1570.2 497.9 1571.3 499.2 1572.8 500.4 1574.8 501 1576.2 502.5 1577.7 503.2 1579.3 504 1581 504.1M1561.9 503.7 1563.6 504.6 1565.4 505.3 1567.3 505.5 1569.2 506.1 1570.6 507.5 1572.2 508.5 1572.8 510.6 1574 512.3 1575.3 513.9 1576.6 515.2 1577.9 516.5 1579.3 517.3 1581 516.5 1582.4 515.4 1583.8 513.9 1583.9 511.9M1562 470.2 1564.1 471.1 1566.4 471.5 1568 472 1569.7 471.2 1571.4 471.7 1572.9 472.3 1574.2 473.2 1575.3 474.4M1562 581.8 1563.6 583.2 1565.3 584 1567.4 585 1569.1 583.3 1571.3 582.5M1656.8 369 1658.4 368.6 1660.1 368.3 1661.7 368.1 1663.2 367 1664.9 367.3 1666.5 367.7 1668.1 367.4 1669.7 367.6 1671.3 367.8 1673.8 366.3 1675.7 367 1677.6 365.8 1679.5 366.2 1681.5 366.8 1683.3 365.9 1685.2 365.6 1687.2 364.9 1689.5 364.8 1690.5 363.3 1691.9 362.4 1693.4 361.5 1695.2 361 1696.6 359.8 1698.1 358.7 1700.4 358.4 1702.8 357.8 1701.6 359.9 1700.1 361.1 1698.1 361.6 1696.6 362.7 1698.5 363 1700.2 362.1 1702.1 361.9 1703.9 361.9 1705.6 362.5 1707.3 362.7 1708.9 361.7 1710.8 362.2 1709.8 364.2 1707.9 364.5 1706.5 365.8 1705 366.8 1703 366.9 1701.5 367.9 1699.9 368.7 1698.4 369.7 1696.5 369.7 1695 370.5 1693.4 371.2 1691.9 372.3 1689.9 371.9 1688.3 372.7 1686.7 373.6 1685.1 374.1 1683.5 375 1682 376 1680.5 376.9 1678.6 376.9 1677.1 377.7 1675.5 378.2 1673.7 377.9 1672.1 378.5 1670.7 379.9 1668.9 379.5 1667.4 380.7 1665.7 380 1664.1 380.7 1662.4 380.4 1660.8 380.7 1659.2 381.1 1657.5 380.9 1656 382.1 1654.3 381.4 1652.7 382 1650.6 382.2 1648.6 382.7 1646.8 382.8 1645.5 381.9 1646.9 379 1648.2 377.6 1649.3 376.2 1651.1 375.3 1652 373.8 1652.8 372.2 1654 370.9 1655.3 369.8ZM1739.7 352.3 1741.7 351.5 1743.2 350.1 1745.6 348.4 1747.4 348.8 1748.8 350.1 1751.5 350.4 1751.3 352.5 1749.6 352.5 1748 352.9 1746.5 352.8 1744.4 353.1 1742.3 353.3 1740.4 356 1739.3 356.4 1739.1 354.4ZM1754.2 352.6 1756 352.9 1757.1 354 1758.4 355.6 1760.2 355.4 1762 355.2 1763.6 356.1 1765.2 356.1 1765.8 353 1764.2 351.7 1763.2 349.7 1762.4 352.4 1760.4 354.4 1758.9 353.5 1757.2 353.5ZM1918 248.7 1917.2 250.2 1916 251.4 1914.8 252.6 1913.8 254.1 1912.4 255.1 1910.8 255.7 1909 256.4 1908.2 258.3 1906.3 258.9 1904.9 260 1903.5 261.4 1901.9 260.4 1900.1 259.8 1899.5 261.9 1898.3 263.9 1898.1 266.4 1896.7 268.6 1894.4 268.7 1892.8 270.3 1890.8 271.3 1887.9 269.7 1887.2 268.2 1887.2 266.2 1885.6 265.1 1885.1 263.4 1883.9 261.5 1882.4 259.8 1879.3 261 1878.4 262.5 1877 261.1 1875.9 259.5 1875.6 257.6 1875.8 255.9 1874.2 254.5 1874.8 252.7 1875.5 250.7 1875.3 248.5"/>
<path fill="none" stroke="#97b6e1" stroke-width=".6" stroke-opacity=".55" d="M1566.4 467.3 1571.3 469.1 1576.2 473.2 1580.9 474.4M1568.8 483.4 1573.7 488.3 1578.6 491.7 1582.3 493.1M1571.3 499.2 1576.2 502.5 1581 504.1M1567.2 505.7 1572.1 508.6 1575.3 513.9 1579.4 517.5 1582.7 515.5 1583.9 511.9"/>
<path fill="#d2b48c" stroke="#000" stroke-width="1.6" stroke-linejoin="round" d="M1591.6 520 1593.3 526.5 1595.7 534.6 1598.9 542.8 1603 550.9 1605.9 557.4 1606.8 562.3 1606.4 568.8 1605.2 575.5 1603.2 577.1 1598.9 577.9 1594.1 580.8 1589.2 583.6 1587.6 585.1 1585.9 585.1 1593.3 579.8 1598.5 577 1602.6 576.2 1604.2 574.5 1605.3 568.8 1605.5 562.3 1604.6 557.8 1601.8 551.3 1597.7 543.2 1594.5 535.1 1592 526.9Z"/>
<path fill="none" stroke="#000" stroke-width="3.4" stroke-linecap="round" d="M1718.3 358.2h0M1746 288.7h0M1789.1 252.6h0M1794.8 254.5h0M1796.2 256.9h0M1799.5 252.2h0M1879.6 268.3h0M1878.9 271.5h0"/>
</g>
<path fill="none" stroke="#000" stroke-width="1.4" d="M1789.6 248H1879.5M1917.5 248H1966.5V584.8H1559.5"/>
<path fill="none" stroke="#000" stroke-width="2.8" d="M1590.9 248v-8.5M1590.9 584.8v8.5M1648.7 248v-8.5M1648.7 584.8v8.5M1706.5 248v-8.5M1706.5 584.8v8.5M1764.2 248v-8.5M1764.2 584.8v8.5M1822 248v-8.5M1822 584.8v8.5M1879.8 248v-8.5M1879.8 584.8v8.5M1937.6 248v-8.5M1937.6 584.8v8.5M1562 550.3h-8.5M1966.5 550.3h8.5M1562 478h-8.5M1966.5 478h8.5M1562 403.6h-8.5M1966.5 403.6h8.5M1562 327h-8.5M1966.5 327h8.5M1562 248h-8.5M1966.5 248h8.5"/>
<path fill="none" stroke="#000" stroke-width="1.4" d="M1562 248v-3M1562 584.8v3M1576.4 248v-3M1576.4 584.8v3M1605.3 248v-3M1605.3 584.8v3M1619.8 248v-3M1619.8 584.8v3M1634.2 248v-3M1634.2 584.8v3M1663.1 248v-3M1663.1 584.8v3M1677.6 248v-3M1677.6 584.8v3M1692 248v-3M1692 584.8v3M1720.9 248v-3M1720.9 584.8v3M1735.4 248v-3M1735.4 584.8v3M1749.8 248v-3M1749.8 584.8v3M1778.7 248v-3M1778.7 584.8v3M1793.1 248v-3M1793.1 584.8v3M1807.6 248v-3M1807.6 584.8v3M1836.5 248v-3M1836.5 584.8v3M1850.9 248v-3M1850.9 584.8v3M1865.4 248v-3M1865.4 584.8v3M1894.3 248v-3M1894.3 584.8v3M1908.7 248v-3M1908.7 584.8v3M1923.2 248v-3M1923.2 584.8v3M1952.1 248v-3M1952.1 584.8v3M1966.5 248v-3M1966.5 584.8v3M1562 585.8h-3M1966.5 585.8h3M1562 568.1h-3M1966.5 568.1h3M1562 532.4h-3M1966.5 532.4h3M1562 514.4h-3M1966.5 514.4h3M1562 496.2h-3M1966.5 496.2h3M1562 459.6h-3M1966.5 459.6h3M1562 441h-3M1966.5 441h3M1562 422.4h-3M1966.5 422.4h3M1562 384.7h-3M1966.5 384.7h3M1562 365.6h-3M1966.5 365.6h3M1562 346.4h-3M1966.5 346.4h3M1562 307.5h-3M1966.5 307.5h3M1562 287.8h-3M1966.5 287.8h3M1562 268h-3M1966.5 268h3"/>
<text class="mp" text-anchor="end" x="1545.9" y="558.7">36°N</text>
<text class="mp" text-anchor="end" x="1545.9" y="486.4">38°N</text>
<text class="mp" text-anchor="end" x="1545.9" y="412">40°N</text>
<text class="mp" text-anchor="end" x="1545.9" y="335.4">42°N</text>
<text class="mp" text-anchor="end" x="1545.9" y="256.4">44°N</text>
<text class="mp" text-anchor="middle" transform="translate(1588.3,629.6) rotate(-45)" y="8.1">76°W</text>
<text class="mp" text-anchor="middle" transform="translate(1646.1,629.6) rotate(-45)" y="8.1">74°W</text>
<text class="mp" text-anchor="middle" transform="translate(1703.9,629.6) rotate(-45)" y="8.1">72°W</text>
<text class="mp" text-anchor="middle" transform="translate(1761.7,629.6) rotate(-45)" y="8.1">70°W</text>
<text class="mp" text-anchor="middle" transform="translate(1819.4,629.6) rotate(-45)" y="8.1">68°W</text>
<text class="mp" text-anchor="middle" transform="translate(1877.2,629.6) rotate(-45)" y="8.1">66°W</text>
<text class="mp" text-anchor="middle" transform="translate(1935,629.6) rotate(-45)" y="8.1">64°W</text>
<g stroke="#000" stroke-width="1.6"><circle cx="1679.2" cy="421" r="3.9" fill="#000"/><circle cx="1677" cy="420.8" r="3.9" fill="#000"/><circle cx="1674.4" cy="420.5" r="3.9" fill="#f00"/></g>
</g>
<rect x="1676" y="641.4" width="176.2" height="177" rx="4.4" fill="#fff" fill-opacity=".8" stroke="#ccc" stroke-opacity=".8" stroke-width="1.3"/>
<path d="M1684.3 660.5H1731.8" stroke="#0000ff" stroke-width="2.9" fill="none"/><circle cx="1708.4" cy="660.5" r="5.9" fill="#0000ff"/>
<text class="lg" x="1747.6" y="668.8" letter-spacing="0">ru39</text>
<path d="M1684.3 695.3H1731.8" stroke="#ff0000" stroke-width="2.9" fill="none"/><circle cx="1708.4" cy="695.3" r="5.9" fill="#ff0000"/>
<text class="lg" x="1747.6" y="703.6" letter-spacing="-0.55">RTOFS</text>
<path d="M1684.3 729.4H1731.8" stroke="#ffa500" stroke-width="2.9" fill="none"/><circle cx="1708.4" cy="729.4" r="5.9" fill="#ffa500"/>
<text class="lg" x="1747.6" y="737.7" letter-spacing="-0.4">RTOFS-P</text>
<path d="M1684.3 763.5H1731.8" stroke="#008000" stroke-width="2.9" fill="none"/><circle cx="1708.4" cy="763.5" r="5.9" fill="#008000"/>
<text class="lg" x="1747.6" y="771.8" letter-spacing="-0.2">ESPC</text>
<path d="M1684.3 797.4H1731.8" stroke="#ff00ff" stroke-width="2.9" fill="none"/><circle cx="1708.4" cy="797.4" r="5.9" fill="#ff00ff"/>
<text class="lg" x="1747.6" y="805.7" letter-spacing="-0.2">CMEMS</text>
</svg></body></html>
